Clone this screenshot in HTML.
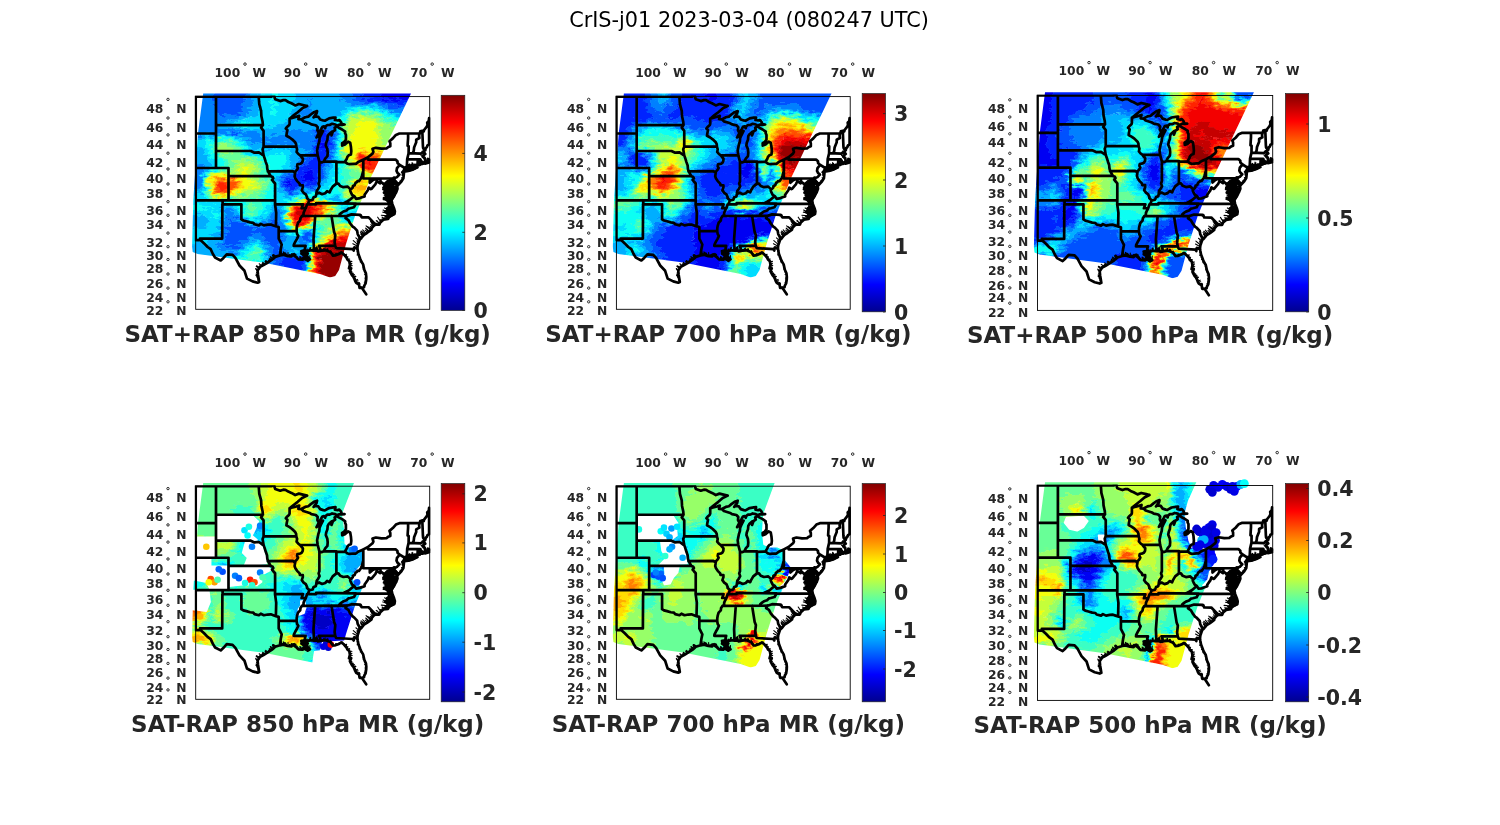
<!DOCTYPE html><html><head><meta charset="utf-8"><title>CrIS-j01</title><style>html,body{margin:0;padding:0;background:#fff}svg{display:block}text{font-family:"DejaVu Sans","Liberation Sans",sans-serif}</style></head><body>
<svg width="1500" height="825" viewBox="0 0 1500 825">
<defs><linearGradient id="jet" x1="0" y1="1" x2="0" y2="0">
<stop offset="0" stop-color="#00008f"/>
<stop offset="0.125" stop-color="#0000ff"/>
<stop offset="0.375" stop-color="#00ffff"/>
<stop offset="0.625" stop-color="#ffff00"/>
<stop offset="0.875" stop-color="#ff0000"/>
<stop offset="1" stop-color="#800000"/>
</linearGradient>
<g id="st"><path d="M0.0 143.6L0.0 0.0L76.0 0.0M76.0 0.0L76.0 -3.7L77.9 -3.1L79.0 1.4L79.5 2.7L84.5 4.5L87.6 3.5L89.8 3.6L92.6 5.4L95.7 6.7L99.5 8.8L103.2 7.4L108.2 8.6L111.4 9.4M111.4 9.4L106.4 11.8L102.0 15.6L97.9 18.8L95.1 21.1L95.7 21.5M20.3 0.0L20.3 71.4M0.0 36.9L20.3 36.9M0.0 71.4L32.8 71.4L32.8 103.8M32.8 79.6L75.0 79.6M0.0 103.8L79.3 103.8M26.9 103.8L26.9 107.7L45.7 107.7L45.7 122.7M26.7 107.7L26.5 142.0L4.3 142.0L4.8 143.6L0.0 143.6M20.3 28.5L67.2 28.5M20.3 54.4L55.1 54.4L58.8 56.1L63.2 55.7L66.3 57.9L67.9 58.8M63.0 0.0L63.6 7.6L65.4 14.2L65.7 19.7L66.9 25.2L67.2 28.5L65.4 31.1L67.9 34.2L67.9 50.1L66.9 52.7L67.9 58.8M67.9 50.1L100.6 50.1M67.9 58.8L68.8 61.3L70.1 65.5L71.3 68.8L71.6 72.2L72.3 74.8L75.0 79.6L77.0 80.5L77.6 81.7L76.3 83.3L77.6 84.9L79.4 86.9L79.4 103.8L79.3 107.7L80.5 116.2L80.2 129.7M72.1 74.8L97.4 74.6L99.4 76.5M79.3 107.7L107.3 107.7L105.9 111.6L110.1 111.6M45.7 122.7L47.6 123.9L50.7 124.7L54.4 125.8L57.6 126.2L58.8 127.7L63.2 128.8L65.1 127.3L68.2 128.8L72.0 128.1L75.1 127.9L77.6 128.8L80.2 129.7L83.0 130.4L83.0 142.0L84.5 144.9L86.0 147.9L85.1 152.3L84.8 154.4L84.2 158.8M83.0 134.3L100.9 134.5M95.7 21.5L93.9 21.9L93.9 27.3L93.5 28.4L91.0 30.7L90.1 32.0L91.7 33.4L91.0 36.9L90.7 39.1L93.9 40.9L96.4 42.7L99.5 45.7L100.4 47.5L100.6 50.1L101.4 52.7L100.9 55.3L102.6 57.4L104.2 58.6L105.7 60.4L107.2 62.1L107.0 64.6L106.1 66.3L104.6 67.2L101.7 67.8L101.4 69.7L102.3 71.4L101.4 73.0L99.5 75.1L99.4 76.5L98.9 79.6L99.7 82.0L101.4 84.5L103.9 87.0L104.2 88.6L107.1 88.7L107.1 90.8L106.1 93.8L107.9 96.2L110.1 97.8L111.4 100.6L111.2 101.4L113.7 103.9L112.0 107.7L111.4 107.7L110.1 111.6L108.9 113.9L107.9 116.2L107.8 118.3L106.3 119.4L104.8 121.6L104.5 123.9L102.3 126.2L101.4 129.2L101.0 131.5L100.9 134.5L101.4 137.5L102.6 139.3L101.4 142.0L99.5 145.3L98.2 147.9L98.0 149.3L109.9 149.3L109.2 151.9L110.4 154.4L111.1 155.3M104.2 58.6L122.0 58.7M105.6 22.8L107.6 24.8L113.9 26.7L115.7 27.8L120.1 28.7L122.0 30.7L121.7 33.8L122.9 36.0L123.3 36.0M95.7 21.5L100.7 20.2L103.5 19.3L102.7 22.6L105.6 22.8M123.3 36.0L120.8 40.9L124.5 37.8L127.3 34.4L125.1 38.7L123.9 41.4L123.6 44.9L122.6 47.9L121.4 54.0L122.0 58.7L122.9 62.1L123.7 65.2L125.8 65.9L128.1 65.0M123.7 65.2L123.7 84.9L122.9 87.0L123.9 89.8L122.3 92.6L121.1 94.2L120.8 95.8L120.6 97.4M113.7 103.9L117.0 103.1L117.9 100.6L120.1 99.8L120.6 97.4L123.4 96.1L126.4 97.6L129.5 96.6L131.4 94.6L133.9 95.8L134.8 93.7L137.0 90.0L140.7 87.0L142.7 87.0L144.5 89.4L147.7 90.6L152.0 90.0L154.6 92.5L155.5 92.5L157.0 91.0L157.2 89.4L158.9 88.6L159.9 86.2L161.0 85.6L161.7 84.5L163.3 84.5L165.4 81.7L166.3 79.1L167.1 75.9L167.6 74.3M140.7 87.0L140.7 65.5M128.1 65.0L140.7 65.0L140.7 65.5L149.2 65.2M167.6 63.1L167.6 81.9M149.2 65.2L152.0 67.2L153.9 67.6L158.3 67.2L160.2 67.2L163.0 65.1L167.6 63.1L172.3 60.7M172.3 60.7L172.3 63.0L199.9 63.0L201.8 64.6L201.8 66.3L204.0 68.3L209.0 71.4M172.3 60.7L176.8 57.0L177.7 55.3L176.8 52.2L180.2 51.2L185.8 52.1L190.8 51.8L192.7 50.4L194.6 49.7L194.6 46.6L193.8 44.6L197.1 41.8L200.2 38.3L203.7 36.9L224.0 36.9L224.6 34.7L226.6 34.2L228.1 34.7L228.4 33.4L230.9 30.2L231.8 28.4L231.5 26.1L233.1 24.3L233.4 21.6M233.4 21.6L233.4 47.9M212.4 36.9L212.4 41.4L212.1 45.7L211.9 49.2L213.0 49.7L212.9 56.6L211.5 62.5L211.2 68.8L211.6 69.7L210.0 70.5L210.5 71.4M224.0 36.9L223.4 39.1L223.7 41.4L220.5 43.1L220.5 45.7L219.6 47.9L218.4 51.0L218.0 54.4L217.4 55.7L218.0 56.7M212.9 56.6L225.2 57.0L227.1 55.5L228.2 55.5M229.0 53.8L227.4 51.4L227.2 49.2L226.9 41.4L226.6 34.2M211.5 62.5L222.1 62.8L224.7 62.8L225.1 63.8L225.9 65.5L226.4 67.2M222.1 62.8L221.8 68.7M233.4 47.9L231.8 48.8L231.2 50.5L229.9 51.8L229.6 53.6L229.0 53.8L228.2 55.5L229.6 57.4L227.7 58.7L227.1 60.0L229.0 61.3L229.3 63.4L230.2 64.6L233.4 64.6L233.4 63.0L232.1 62.4L233.1 63.8L233.4 65.9L229.3 67.0L229.0 65.1L227.1 67.2L226.4 67.2L224.6 67.6L224.6 64.6L224.3 67.6L224.0 68.3L221.8 68.7L218.4 69.1L215.2 69.3L213.4 70.1L210.5 71.4L209.0 73.0L209.0 71.4L208.2 73.9L206.8 75.5L208.3 75.8L208.0 78.8L207.7 81.7L205.7 84.9L202.4 88.4L200.8 85.8L199.0 83.7L198.6 82.7L199.6 81.3L201.3 80.5L203.7 78.0L201.8 76.3L200.8 74.3L201.3 71.5L204.0 68.3M209.0 73.0L209.9 72.6L214.0 71.8L217.1 71.5L219.3 70.1L218.4 71.8L221.7 70.8L217.7 72.8L212.7 74.4L208.7 74.9L208.2 73.9M167.6 81.9L197.1 81.9L198.3 81.0L199.6 81.3M197.1 81.9L197.7 92.1L201.8 92.2L201.5 89.4L200.2 87.8L199.6 85.4L198.6 82.9L199.6 81.3M174.1 81.9L174.1 86.2L176.4 84.1L178.3 82.9L178.6 82.5L180.8 82.9L182.2 82.1L184.6 82.9L184.9 84.9L185.1 85.2L186.4 86.2L187.7 87.4L189.3 88.6L189.3 90.2L187.7 92.6L189.6 93.4L192.1 94.6L194.0 95.8M185.1 85.2L184.4 86.7L181.1 84.6L179.6 87.8L177.9 89.7L175.8 92.2L175.2 92.5L173.0 91.0L172.1 93.7L168.9 98.2L168.9 99.8L165.5 101.0L163.3 101.8L160.3 102.2L158.5 99.5L156.4 98.2L155.2 95.8L154.5 94.2L154.6 92.5M158.5 99.5L153.9 103.4L151.4 104.9L147.8 106.9M160.3 107.0L120.4 106.5L120.4 107.7L111.4 107.7M160.3 107.0L196.6 107.3M160.3 107.0L158.3 110.6L154.5 111.6L152.7 112.0L150.8 113.9L147.7 114.9L145.8 116.2L143.9 117.8L143.8 119.4M106.3 119.4L151.3 119.3L155.8 117.8L164.3 118.2L164.3 118.9L165.0 118.5L165.9 120.7L172.9 120.8L179.9 128.0M151.3 119.3L149.8 121.6L152.7 123.5L154.5 126.9L157.0 130.0L158.6 131.1L161.4 134.1L162.0 137.5L163.6 140.5L164.6 141.6L165.5 141.7M135.8 119.3L138.4 135.5L139.6 138.6L139.2 142.7L138.9 145.6L139.5 149.3L140.4 151.5L157.0 152.5L158.0 154.0L158.3 151.2L161.4 151.4M139.5 149.3L123.3 149.3L124.5 151.9L123.8 154.6M119.5 119.3L117.8 142.7L118.3 154.1M111.1 155.3L112.6 154.4L115.1 153.7L118.3 154.1L120.1 154.1L120.8 151.5L121.4 153.7L122.3 154.8L123.8 154.6L125.8 154.1L130.1 153.7L133.9 155.2L135.1 155.9L137.3 159.0L139.5 158.8L143.3 157.4L145.8 155.9L148.3 158.1L150.8 161.0L151.7 162.9L153.6 164.6L154.2 168.2L153.3 171.7L155.5 171.7L154.2 174.6L154.9 176.0L156.4 178.8L157.7 180.2L158.6 182.0L159.5 184.4L160.5 186.2L163.3 187.9L163.9 191.3L166.4 191.1L168.3 190.7L168.6 189.0L169.9 186.8L170.5 183.0L170.6 180.2L170.2 176.7L168.6 173.2L167.4 167.8L165.5 164.6L164.6 162.4L162.7 157.4L162.0 153.7L161.7 151.4L162.0 148.6L163.0 145.6L163.9 143.1L165.5 141.7L166.7 140.1L168.3 138.2L171.2 136.4L173.3 134.9L175.8 133.0L176.1 131.5L178.0 129.2L179.9 128.0L183.6 128.1L184.6 125.8L187.7 123.1L192.4 122.4L193.3 120.1L198.8 117.5L199.2 114.7L198.3 111.6L196.6 107.3L196.0 104.5L194.0 104.1L192.1 103.0L188.3 101.4L194.0 103.0L193.3 101.4L190.8 99.8L194.0 99.0L190.2 95.8L194.3 96.6L194.0 95.4L193.3 93.4L192.7 91.8L193.0 88.2L192.7 86.2L193.3 85.4L195.2 82.9L195.8 83.3L195.2 84.9L194.6 87.8L194.0 90.2L194.6 93.0L196.8 94.2L198.0 96.2L196.1 99.8L196.0 102.8L198.3 99.8L199.9 96.6L200.5 95.6L201.8 92.2M198.0 96.2L200.5 95.6M192.4 121.2L191.5 119.3L192.7 117.0L189.6 115.5L192.7 115.8L195.8 116.2L197.4 114.7L196.5 112.0L191.5 111.6L195.8 110.4L196.5 109.2L196.6 107.3M166.1 191.1L170.5 197.7M4.8 143.6L5.6 144.2L8.4 146.8L11.9 150.4L15.0 152.6L17.2 157.4L19.4 161.0L25.0 163.9L27.8 161.3L31.0 157.7L36.9 158.3L39.7 161.3L43.8 168.9L48.8 174.2L51.3 182.0L56.9 184.8L61.9 186.1L63.5 185.4L62.3 178.1L61.9 173.9L64.4 170.3L68.2 168.2L71.3 166.4L76.3 163.1L78.8 161.0L77.6 158.8L79.5 160.3L84.2 158.8L87.6 158.2L92.0 159.5L95.7 159.9L97.0 158.1L100.1 160.3L102.6 162.8L107.0 163.1L108.9 161.7L112.0 164.2L114.2 162.8L112.0 161.0L110.7 158.8L112.0 157.0L109.5 156.3L107.0 156.3L105.7 154.4L108.2 154.1L110.1 155.5L111.1 155.3M128.1 65.0L129.5 62.1L131.7 59.6L132.0 56.1L131.6 52.4L130.1 48.8L130.5 46.2L131.7 43.1L132.0 39.6L133.0 37.8L136.1 35.1L135.8 38.7L137.3 34.7L139.5 33.4L138.9 31.1L141.2 29.9L143.0 31.1L146.4 32.9L149.5 35.1L149.3 36.4L150.2 38.3L150.2 43.1L148.6 45.3L146.4 46.6L146.5 49.0L149.2 47.9L152.4 45.1L154.5 46.2L155.2 50.1L155.6 54.6L155.2 57.9L153.0 58.7L151.7 60.2L151.1 62.1L149.2 65.2M105.6 22.8L109.5 20.7L112.6 20.0L115.1 17.9L118.3 15.6L121.4 14.5L120.8 17.0L119.2 18.8L117.9 20.7L119.5 19.7L122.6 20.2L124.5 22.9L127.6 23.9L129.2 24.1L133.4 21.8L137.6 21.1L139.8 20.9L139.2 23.4L142.0 23.9L143.6 23.4L145.2 25.2L146.1 27.5L148.9 27.9L146.4 28.2L143.6 28.1L141.3 29.1L139.5 27.9L136.4 27.2L133.9 28.4L131.7 28.4L129.8 29.8L129.5 31.6L128.3 29.8L126.7 30.2L125.4 32.5L123.3 36.0" fill="none" stroke="#000" stroke-width="2.7" stroke-linejoin="round" stroke-linecap="round"/><path d="M162.0 153.5L160.1 152.3M161.8 152.2L159.1 150.3M161.7 151.4L158.5 149.9M161.9 149.6L157.2 147.1M162.2 148.0L157.6 144.1M162.8 146.3L161.4 145.0M163.0 145.5L161.4 144.0M163.5 144.2L160.2 141.3M164.4 142.6L162.8 141.7M166.0 141.1L163.2 138.7M167.0 139.8L165.0 137.3M167.6 139.0L164.8 135.6M168.7 138.0L166.5 136.0M169.5 137.5L165.4 134.4M170.3 137.0L167.0 133.3M171.8 136.0L169.6 133.6M172.6 135.4L170.5 132.0M173.7 134.6L170.0 131.6M175.0 133.6L170.4 129.2M175.9 132.6L172.0 130.0M176.2 131.4L174.5 129.9M177.1 130.3L175.2 128.1M178.0 129.2L175.6 126.1M179.4 128.3L174.8 124.9M180.1 128.0L175.8 124.1M181.3 128.0L179.1 126.4M182.8 128.1L180.4 126.5M183.7 127.8L181.2 124.0M184.2 126.6L180.5 124.2M185.1 125.3L182.0 120.6M185.9 124.7L183.1 122.5M186.7 124.0L185.0 123.1M187.9 123.1L186.3 122.3M188.9 122.9L186.4 120.6M190.5 122.7L188.6 121.4M191.5 122.5L190.2 120.5M192.4 121.3L188.1 121.1M192.3 120.2L189.1 119.8M192.2 119.3L185.6 118.7M192.1 117.8L190.3 116.7M192.4 116.6L187.1 115.5M192.8 116.2L187.4 113.5M193.5 115.3L190.9 113.4M194.3 114.3L188.9 111.3M194.7 113.8L190.2 113.7M195.2 113.1L192.1 111.9M195.8 111.7L192.4 109.0M195.8 110.5L192.2 110.1M195.8 109.9L193.2 108.3M195.8 108.3L191.9 106.1M195.8 107.6L191.2 104.8M194.9 106.0L190.9 104.2M194.5 105.1L188.8 103.2M194.0 103.8L187.4 103.0M194.0 102.8L191.6 101.3M194.0 101.5L188.4 98.4M194.0 100.0L189.3 100.0M193.9 98.4L189.2 95.6M193.8 97.6L187.6 96.6M193.7 96.6L190.5 95.5M193.6 95.5L189.9 93.7M193.4 94.3L189.7 92.0M193.3 93.1L187.1 91.0M193.2 91.8L191.2 91.6M193.1 91.0L187.4 89.5M193.0 89.3L188.4 87.9M192.9 88.2L187.2 86.5M192.8 87.2L189.7 86.0M196.4 106.4L193.3 106.1M196.3 105.0L193.8 104.4M196.1 103.8L193.7 102.8M196.3 102.4L192.8 102.5M196.8 101.5L193.2 102.0M197.2 100.8L194.9 100.9M197.8 99.9L195.0 98.7M198.4 98.9L195.4 99.2M199.5 97.3L195.9 96.0M200.0 96.5L197.6 95.4M200.6 95.5L198.2 95.4M201.0 94.3L199.0 94.7M201.5 93.0L199.1 92.9M201.7 91.7L199.3 90.8M201.5 90.1L197.9 90.2M201.5 89.4L198.3 89.7M200.7 87.7L197.1 87.8M200.2 86.6L196.7 85.6M199.6 85.3L198.2 85.2M199.3 84.1L195.8 82.9M202.4 88.3L199.8 87.0M203.5 87.2L202.0 86.2M204.2 86.5L203.0 86.2M204.9 85.7L203.7 85.5M205.8 84.7L204.3 84.2M206.6 83.5L205.3 83.4M207.2 82.6L206.2 82.1M207.7 81.5L205.8 81.2M208.0 79.5L206.2 78.5M208.1 78.4L206.3 77.1M208.2 77.0L205.7 75.6M208.6 75.1L207.7 73.3M209.3 75.0L208.2 72.2M210.1 74.9L209.9 71.5M211.1 74.7L210.6 73.0M211.9 74.6L211.4 72.4M213.2 74.3L212.6 71.9M213.7 74.2L212.9 72.3M214.6 73.9L213.9 71.6M215.2 73.6L214.6 72.0M216.1 73.3L215.7 72.2M217.2 73.0L216.9 70.4M218.1 72.6L217.1 69.4M219.0 72.1L218.8 70.5M219.3 72.0L219.1 68.6M220.4 71.4L219.4 68.4M221.1 71.1L220.8 67.7M210.8 71.2L211.0 68.2M211.4 71.0L211.3 70.1M212.2 70.6L212.2 67.7M213.2 70.2L213.2 67.6M214.0 69.8L214.0 67.1M214.8 69.5L214.9 68.5M215.3 69.3L215.4 67.8M216.4 69.2L216.4 65.9M217.0 69.2L217.3 66.6M217.9 69.1L217.7 68.1M218.7 69.1L218.8 67.5M219.2 69.0L219.3 67.5M220.4 68.8L220.4 67.3M221.2 68.8L221.4 67.7M222.4 68.5L221.8 65.4M223.2 68.1L223.1 64.9M223.8 67.9L223.5 64.7M224.7 67.6L225.1 65.5M225.9 67.4L226.1 65.3M226.4 67.3L226.4 64.2M227.1 67.2L227.1 65.1M228.3 66.9L228.2 65.2M230.2 64.6L228.4 64.6M229.3 62.0L227.5 61.7M228.8 61.1L227.6 60.6M227.9 60.5L226.6 60.5M227.2 59.9L225.3 59.0M227.8 58.8L226.8 58.7M228.3 57.3L226.4 56.2M228.5 55.2L226.5 54.4M229.2 54.1L228.5 53.9M229.9 53.0L228.3 53.1M230.6 51.8L229.8 51.6M231.0 51.1L229.2 50.8M231.9 49.7L230.8 49.4M232.5 48.9L231.7 48.5M146.0 156.1L147.0 155.6M146.8 156.8L147.8 156.7M147.6 157.5L148.4 157.3M148.5 158.3L151.0 157.7M149.1 159.0L150.8 158.5M149.6 159.6L150.8 159.4M150.3 160.5L152.3 160.2M150.9 161.1L152.0 160.8M151.5 162.5L154.0 162.4M151.7 162.9L153.9 162.4M153.0 164.0L153.5 163.7M153.7 165.2L156.2 164.8M153.8 165.9L154.7 165.5M154.1 167.6L156.2 166.7M154.1 168.5L155.7 167.4M153.9 169.5L156.5 169.0M153.6 170.6L154.7 170.2M153.3 171.8L154.0 171.5M153.7 172.9L154.8 172.8M154.0 173.8L155.5 173.3M154.6 175.3L156.2 175.0M155.2 176.5L157.3 176.4M155.5 177.2L157.6 176.8M156.1 178.3L158.7 178.0M156.5 179.0L158.1 178.7M157.3 179.9L159.6 179.5M157.9 180.7L159.2 180.5M158.2 181.2L160.2 179.9M158.7 182.4L159.7 182.0M159.3 183.7L161.9 182.8M159.6 184.6L162.4 184.3M160.0 185.4L161.4 184.7M160.9 186.4L163.7 185.9M161.5 186.8L164.2 186.7M162.7 187.6L164.2 187.2M163.3 188.1L163.9 187.9M163.8 190.1L164.7 190.0M169.9 186.4L168.6 186.2M170.2 184.8L169.2 184.5M170.5 182.9L169.6 183.0M170.6 181.3L169.2 181.5M170.6 180.2L170.0 180.2M170.3 177.7L168.8 177.7M169.7 175.7L168.6 175.4M169.3 174.6L168.5 174.4M168.4 172.2L167.2 172.4M168.1 171.1L167.2 170.7M167.7 169.2L166.9 169.1M166.8 166.9L166.2 166.7M166.0 165.4L164.6 165.4M165.3 164.2L164.4 164.3M164.5 162.2L163.2 162.4M163.9 160.7L162.9 160.3M163.0 158.2L161.4 158.3M162.7 157.3L161.6 157.2M162.3 155.3L161.4 155.1M124.4 154.4L124.9 152.2M125.8 154.2L125.9 153.0M126.9 154.1L126.9 153.0M127.8 154.0L128.1 151.7M129.2 153.8L129.4 151.3M130.7 154.0L131.4 152.2M131.7 154.3L132.2 152.2M132.7 154.7L132.6 153.4M134.6 155.6L135.1 153.9M135.7 156.7L135.7 155.1M136.9 158.2L137.0 157.3M137.6 158.8L137.5 157.4M139.7 158.7L140.0 157.0M140.8 158.3L141.0 157.0M142.3 157.8L142.5 156.7M143.3 157.3L143.4 156.4M145.0 156.4L145.0 155.5M84.4 158.8L84.2 157.2M85.2 158.6L84.8 156.3M86.3 158.4L85.5 154.9M87.1 158.3L86.7 157.1M87.8 158.3L87.6 155.2M88.5 158.5L88.0 157.5M89.3 158.7L88.2 155.7M89.9 158.9L89.0 157.0M90.7 159.2L89.5 156.1M91.6 159.4L89.9 156.5M92.4 159.6L92.3 156.0M93.1 159.6L93.8 157.9M93.8 159.7L94.3 158.7M94.4 159.8L95.9 157.1M95.1 159.8L95.1 157.9M95.8 159.8L96.0 158.4M96.4 159.0L97.5 157.0M97.4 158.4L97.5 157.3M98.1 158.8L97.9 157.2M98.7 159.3L98.6 156.7M99.3 159.7L99.3 157.2M100.4 160.5L100.2 157.6M100.9 161.1L100.5 160.1M101.4 161.6L101.4 159.6M102.2 162.4L102.4 161.5M102.9 162.8L102.9 161.9M104.0 162.9L104.2 161.8M104.7 163.0L104.1 160.0M105.5 163.0L107.4 160.3M106.5 163.1L104.9 160.2M107.3 162.9L107.8 161.9M107.9 162.4L107.9 161.3M108.3 162.1L108.3 160.6M108.9 161.7L108.6 160.5M109.7 162.4L108.9 159.2M110.2 162.7L110.5 160.5M111.1 163.5L111.2 161.2M111.4 163.7L112.0 160.2M112.3 164.0L113.0 162.7M112.9 163.6L112.6 160.7M113.8 163.0L114.1 162.3M113.9 162.6L114.2 159.0M113.3 162.1L112.9 161.5M112.5 161.4L112.5 159.4M112.0 160.9L112.4 159.7M111.6 160.3L110.8 158.7M111.1 159.4L111.4 157.1M111.0 158.5L110.5 156.4M111.5 157.8L111.1 156.7M111.6 156.9L111.1 153.9M111.2 156.8L111.4 154.2M110.0 156.4L110.7 154.5M109.6 156.2L108.3 153.2M110.5 155.7L110.0 154.4M111.1 155.3L112.4 153.6M112.0 155.0L112.0 152.5M113.1 154.5L112.8 153.3M113.5 154.4L114.3 151.1M114.3 154.0L115.1 151.0M115.5 153.8L114.5 152.0M116.0 153.8L115.9 153.0M117.0 153.9L117.9 150.9M117.7 154.0L118.3 152.1M118.4 154.0L119.8 152.0M119.5 153.5L119.3 152.8M120.3 153.2L121.3 149.9M63.4 184.7L62.0 183.3M63.2 183.4L61.3 180.9M62.9 182.1L60.7 179.3M62.7 180.7L60.2 178.8M62.5 179.4L60.4 177.5M62.2 178.0L61.5 177.3M62.1 176.4L60.9 175.9M62.0 174.7L60.1 172.5M62.0 173.8L60.0 171.9M63.2 172.1L60.5 169.7M64.1 170.8L60.8 169.1M64.5 170.3L63.9 169.3M66.2 169.3L63.5 167.2M67.0 168.8L66.0 168.1M68.4 168.1L66.5 167.0M69.4 167.5L66.9 165.7M70.9 166.6L69.3 164.7M71.3 166.4L69.8 164.8M72.5 165.6L70.0 163.9M73.8 164.7L72.9 164.0M74.3 164.4L73.4 163.1M75.3 163.8L73.6 162.0M76.5 163.0L74.7 161.3M77.8 161.9L74.6 160.0M79.1 160.7L77.2 159.2" fill="none" stroke="#000" stroke-width="1.1" stroke-linecap="round"/><path d="M187.7 87.8L191.5 84.1L195.8 82.5L196.5 87.0L198.6 91.8L200.2 95.8L197.7 101.4L196.1 104.5L192.7 104.9L188.3 102.2L191.5 99.8L187.7 95.8L190.2 93.4L187.4 91.0L189.6 89.4ZM189.6 115.1L194.0 110.0L197.4 110.0L199.0 115.5L198.3 117.8L193.3 121.2L190.2 120.1L192.7 117.4ZM208.0 75.1L212.7 74.7L217.7 73.0L221.8 70.9L221.8 68.4L215.2 69.0L210.5 71.2L208.7 72.6ZM224.3 64.2L226.5 65.1L227.7 67.2L224.0 68.4ZM105.7 154.4L108.9 153.7L112.0 156.6L110.7 159.5L113.2 162.4L111.4 163.9L108.2 162.8L108.2 159.5L105.1 157.4ZM199.0 83.3L201.8 86.2L202.7 88.2L200.8 87.8L198.3 84.5Z" fill="#000" stroke="#000" stroke-width="1.5" stroke-linejoin="round"/></g>
<filter id="tx" color-interpolation-filters="sRGB" x="-5%" y="-5%" width="110%" height="110%"><feTurbulence type="fractalNoise" baseFrequency="0.13 0.3" numOctaves="2" seed="3" result="n"/><feDisplacementMap in="SourceGraphic" in2="n" scale="13" xChannelSelector="R" yChannelSelector="G"/></filter>
</defs>
<rect width="1500" height="825" fill="#fff"/>
<text x="749" y="27.3" font-size="20.8" text-anchor="middle" fill="#000">CrIS-j01 2023-03-04 (080247 UTC)</text>
<g transform="translate(195.7 96.6) scale(1.0000 1.0000)">
<clipPath id="s0"><path d="M7.5 -3.2L215.3 -3.2L175.3 80.4L159.3 119.4L150.3 147.4L143.3 173.4L139.5 179.5L134.3 181.0L124.3 177.5L67.0 166.0L2.0 157.5L-3.0 155.5L-3.6 150.0L-2.4 103.4L0.3 63.4L2.5 35.0Z"/></clipPath><g clip-path="url(#s0)"><g filter="url(#tx)"><path fill="#0000f3" stroke="#0000f3" stroke-width="0.6" fill-rule="evenodd" d="M242 -8l0 12-40 0-15-2-3.5-2 0-8zM126 44.5l2-0.5 2 4 0 4-2 2-2-0.5-2-3.5 0-2zM110 74l2-1.5 2 0.5 2 1.5 1 1.5 0.5 2-0.5 4-1 2-2 2-2-0.5-2-1-2.5-2.5-0.5-2 1-3.5zM92 86l2-1 3 1 0.5 2-1 2-2.5 0.5-2-1-0.5-1.5z"/><path fill="#0023ff" stroke="#0023ff" stroke-width="0.6" fill-rule="evenodd" d="M183.5 -8l0 8 3.5 2 15 2 40 0 0 4.5-44-0.5-12-3-16-1-4.5-2-0.5-2 0-8zM126 35.5l2 0 2 0.5 2.5 2 2 8 0.5 6-1 2.5-4 5.5-5 8-1.5 4-1 8-2.5 6-2 2.5-4 1.5-10-2-8 6.5-2 0-2-1-2-2-2-3.5 0.5-2 1-2 2.5-2 6-1 2-1 10-13 8-5 2-2 1.5-2 0-2-1-6 0-4 3-8zM124 48l0 2 2 3.5 2 0.5 2-2 0.5-2-0.5-3-2-3-2 0.5zM110 74l-2 2.5-1 3.5 0.5 2 2.5 2.5 2 1 2 0.5 2-2 1-2 0.5-4-0.5-2-1-1.5-2-1.5-2-0.5zM92 86l-0.5 2 0.5 1.5 2 1 2 0 1.5-2.5-0.5-2-1-0.5-2-0.5zM90 161l16 0.5 2 1 0.5 1.5-1.5 6 1 14 0 38-22.5 0 0-52-1.5-6 1-2z"/><path fill="#0051ff" stroke="#0051ff" stroke-width="0.6" fill-rule="evenodd" d="M50 -8l-0.5 12-3.5 10-2 3.5-2 1-12 1-4-0.5-3.5-1-2.5-4-3-10-0.5-12zM165 -8l0 8 0.5 2 4.5 2 16 1 12 3 44 0.5 0 4-44-0.5-2 0-6-3.5-4-1-16-1-6-1-4.5-1.5-2.5-2-0.5-10zM124 33l4-1 6 1 2 1 2 2 0.5 2-1 16-0.5 2-3 6-6 8-2 10-2.5 6-1 2-2.5 2-4 2-4 0.5-6-1-2 0.5-6 4-2 1-4-1-3-2-2.5-4-0.5-4 1.5-4 2-2 8.5-4 3.5-4 6.5-9 2-2 5.5-3 2-2 0.5-2-1.5-8 1.5-6 2-4zM125.5 36l-2 2-3 8 0 4 1 6 0 2-1.5 2-2 2-8 5-10 13-2 1-6 1-2.5 2-1 2-0.5 2 2 3.5 2 2 2 1 2 0 8-6.5 10 2 4-1.5 2-2.5 2.5-6 1-8 1.5-4 5-8 4-5.5 1-2.5-0.5-6-2-8-2.5-2-2-0.5zM36 35l4 0 6.5 1 1.5 2-9.5 0-4.5-2zM80 119.5l2 4.5 2.5 10 0 6-0.5 10 1.5 6 3.5 2 7 2 4 0 8-0.5 2.5 2.5 0.5 60-3 0 0-38-1-14 1.5-6-1-2-17.5-1-5 1-1 2 1.5 6 0 52-5.5 0-0.5-52-2.5-8 0.5-6-1.5-6-2-2-10-9-4-1.5-2-0.5-6 3-8 7.5-4 4.5-2 0.5-9-2.5-1.5-2 2-6 2-16 0.5-2.5 2-3 4 3 8 2.5 8 5 4 1.5 4-0.5 4.5-2 3.5-2.5 6-3zM110 136l2-0.5 2 0.5 0.5 2-0.5 4.5-2 2-2 0.5-2-0.5-1.5-2.5 1.5-4z"/><path fill="#0080ff" stroke="#0080ff" stroke-width="0.6" fill-rule="evenodd" d="M16.5 -8l0.5 12 3 10 2.5 4 5.5 1.5 15.5-1.5 2.5-4 3.5-10 0.5-12 7 0 0 12-3 11-1.5 3-8.5 3.5-12 3.5-6 1-5 2 2 2 3 1 8 0 14 3 12 1 3.5 1 3.5 4 3 1.5 4-1 16-5.5 10-2 4 0 10 2.5 4-3.5 6-2.5 10-1.5 2 0 4 5.5 1.5 4.5-2 18-3 8-5.5 8-1 8-4 8-4 3.5-4 2-4 1-8 0-6 3-4 1-4-0.5-4-1.5-3-4.5-1.5-4 1-8 2.5-2 7-3.5 3.5-2.5 6.5-12.5 2-2 5.5-3.5-2-2-1.5-0.5-6-2-22-0.5-14-1.5-10-3-6-3-12-2-12-2.5-18 2-16 0 0-47zM122.5 34l-2.5 2-1 2-2 6 0 4 1 6-0.5 2-2 2-5.5 3-2 2-6.5 9-3.5 4-8.5 4-2 2-1.5 4 0.5 4 2.5 4 3 2 4 1 2-1 6-4 2-0.5 6 1 4-0.5 4-2 2.5-2 1-2 2.5-6 2-10 6-8 3-6 0.5-2 1-16-0.5-2-2-2-2-1-6-1-2 0.5zM34 36l4.5 2 9.5 0-1.5-2-6.5-1-2 0zM156.5 -8l0.5 10 2.5 2 2.5 1 8 1.5 16 1 4 1 6 3.5 2 0 44 0.5 0 4-44 0-2-0.5-5-4-5-2-10-1.5-18-1-10-2-3-1.5-1.5-2 0-10zM114 2l2 1 0.5 15-2.5 2.5-4 2-2 0-3-2.5-0.5-2 1.5-4 2-3.5 3.5-2.5 1.5-2zM6 67.5l2 0.5 1.5 2-3 6-0.5 13.5-2 2-12 0 0-24zM140 102l2 2-3 0zM32 110l2 0 3 2 2 6 1.5 2 3 2 14.5 6.5 4-1 10-5.5 2.5-2 4-8 1.5-1.5 2 0.5 2 1 3 16 2.5 8 0.5 6-1.5 6 0 2 3.5 6 3.5 2 4.5 0.5 7-2.5 0-2-1-1-3.5-7-0.5-2 0-2 5.5-6 2.5-2 2-0.5 3 0.5 2 2 0 4-1 3.5-2 3-4 3.5-1.5 2-0.5 2 0 2 3 4 0.5 2 0.5 2-0.5 6 0.5 10 0 42-1 0 0-40-0.5-12 0-6-0.5-3-2-1.5-10 0.5-4-0.5-5-1.5-3.5-2-1.5-6 0.5-10 0-6-2.5-10-2-4.5-4 5-6 3-4 3-6 1.5-2 0.5-4-1.5-7.5-5-8.5-2.5-4-3-2 3-1 4.5-1.5 14-2 6 1.5 2 9 2.5 2-0.5 4-4.5 8-7.5 6-3 2 0.5 4 1.5 10 9 2 2.5 1.5 5.5-0.5 6 2.5 8 0.5 52-6 0 0-52-1-6 0-8-4-8-2-2-3-2.5-6-2-4 2.5-12.5 12-1.5 1-2 0.5-4-1-10-3.5-1.5-1-1-2 0-2 4-10 1.5-10 2-8-0.5-8zM110 136l-2 2-1.5 4 1.5 2.5 2 0.5 2-0.5 2-2 0.5-4.5-0.5-2-2-0.5z"/><path fill="#00aeff" stroke="#00aeff" stroke-width="0.6" fill-rule="evenodd" d="M65.5 -8l-0.5 12-2 14-1.5 2-1.5 1-12 1.5-9 3.5-2 2 1 0.5 2.5 1.5 7.5 2 14-1 10 1 6-2 14-7.5 2.5-2.5 4.5-16 0.5-2 0-10 44 0 0 10 1.5 2 3 1.5 10 2 18 1 10 1.5 5 2 5 4 2 0.5 44 0 0 3-44 0-2-0.5-6-5-4-2-12-1.5-18 0-6 2-4.5 3.5-4.5 6-1 2-0.5 4 3 6 1 4-2.5 22-2 6-3 6-1 8-5 8-4 4.5-4 2.5-3 1-3 0.5-10 0.5-10 3.5-6 0-4-1.5-1.5-1-1.5-2-1-4-2-12 2-2.5 8-4 2-1.5 1.5-2 2-6 0.5-4 0-4-2-2-6-1.5-4 0-28 2-2-1-2.5-7.5-2.5-2-6.5-2-14.5-2.5-10 1-10 2.5-16 0 0-4 16 0 18-2 12 2.5 12 2 6 3 10 3 14 1.5 22 0.5 6 2 1.5 0.5 2 2-5.5 3.5-2 2-6.5 12.5-3.5 2.5-7 3.5-2.5 2-1 8 1.5 4 3 4.5 4 1.5 4 0.5 4-1 6-3 10 0 4-1.5 4-3 2-2 4-8 1-8 5.5-8 3-8 2-18-1.5-4.5-4-5.5-2 0-10 1.5-6 2.5-4 3.5-10-2.5-4 0-10 2-16 5.5-4 1-3-1.5-3.5-4-3.5-1-12-1-14-3-8 0-3-1-2-2 5-2 6-1 12-3.5 8.5-3.5 1-2 3-10 0.5-4 0-10zM113 6l-1.5 2-3.5 2.5-2 3.5-1.5 4 0.5 2 3 2.5 2 0 4-2 2.5-2.5-0.5-15-2-1zM6 51.5l2 0.5 3 10 4 6 0.5 2-5.5 4-1.5 2-1 4 0.5 8-0.5 4-1.5 5.5-2 1-12 0 0-7 12 0 2-2 0.5-13.5 3-6-1.5-2-2-0.5-14 0 0-16zM138 100l4 0 2 1.5 1 2.5-1 1-2 0.5-7.5-1.5-1.5-2zM140 102l-1 2 3 0zM30 108l4-0.5 4 2 2.5 2.5 3 6 1.5 2 7 4 6 1.5 6-2 5.5-3.5 2-2 4-8 2-2 2.5-1 4 0 2 1 2 2 0.5 2-0.5 8 1 8 2 4 3 5 2 2 2 1 4-1 6.5-5 3.5-1 4 0 2 0 1 1 0 4-1 4.5-2 4.5-4 5-1.5 4 2 6 0 60-0.5 0-0.5-60-3.5-6 0-2 0.5-2 1.5-2 4-3.5 2-3 1-3.5 0-4-2-2-4.5 0-3 2-5.5 6 0 2 0.5 2 3.5 7 1 1 0 2-4.5 2-4.5 0.5-2.5-0.5-3.5-2-3.5-6 0-2 1.5-6-0.5-6-2.5-8-3-16-2-1-2-0.5-1.5 1.5-3 6-1 2-2.5 2-10 5.5-4 1-14.5-6.5-3-2-1.5-2-2-6-3-2-2 0-2 1-1.5 1 0.5 8-2 8-1 8-2 6-2.5 6 0 2 1 2 1.5 1 10 3.5 4 1 2-0.5 1.5-1 12.5-12 4-2.5 6 2 3 2.5 2 2 4 8 0 8 1 6 0 52-5.5 0 0-50 1.5-14-0.5-2-2.5-6-3-3.5-2-1.5-4 0-16 14-2 0.5-8 2-4 1.5-4 0.5-32 0 0-17 16 0 4-1 2.5-1.5 2.5-4 3-3 2-4 1-5 3-8 0-2-2-6 1-2zM97 154l0 2 1 0.5 2.5-0.5-0.5-2.5-2-0.5zM150 112l3 4 1 1.5 1.5 0.5-1.5 1.5-4 0.5-1.5-2zM8.5 118l2 2 1.5 6 0 2-1.5 2-2.5 1.5-16 0 0-14z"/><path fill="#00dcff" stroke="#00dcff" stroke-width="0.6" fill-rule="evenodd" d="M76 -8l-0.5 24 0.5 2.5 2 0 1-0.5 0.5-2 0.5-24 19.5 0 0 10-5.5 18.5-2 2-12 6.5-8 3-10-1-14 1-7.5-2-3.5-2 2-2 7-2.5 12-2 4-2 1-1.5 1-6 1.5-10 0-10zM46 26l-3 2 5 2 4-0.5 5.5-1.5-2.5-2-3-0.5-4 0zM152 11.5l8-1 16 0 9.5 1.5 2.5 1 8 6 46 0.5 0 2-46 0-2-1-5-4.5-3-1.5-12-2.5-16 1-6 2-3.5 3-3.5 4-2 4-0.5 2 2 6 0.5 4-2 14 0 10-1.5 10-0.5 8-3.5 6-9 10 1.5 1.5 2 0.5 8-0.5 2 0 2 1 3 3.5 2 4 3 3 4 5 2 0.5 84 0 0 8-92 0-2-0.5-2-2-0.5-2 2-6 0-2-1.5-2-14.5-4-5.5-5-18-0.5-18.5 5.5 1 4-1 10 0.5 8 2 5 4 4.5 2 1.5 2 0.5 2-0.5 8-4.5 8-1.5 2 0.5 1.5 2.5-0.5 4-2 6-2 4-4.5 6-0.5 2 1 6 0.5 20 0 40-1 0 0-60-2-6 1.5-4 4-5 2-4.5 1-4.5 0-4-1-1-2 0-4 0-3.5 1-6.5 5-4 1-2-1-2-2-3-5-2-4-1-8 0.5-8-0.5-2-2-2-4-1.5-2 0.5-2 0.5-2.5 2.5-4 8-2 2-5.5 3.5-6 2-6-1.5-7-4-1.5-2-3-6-2.5-2.5-4-2-6 1-3 1.5-1 2 2 6 0 2-3 8-1.5 6-1.5 3-3 3-2.5 4-2.5 1.5-4 1-16 0 0-15 16 0 2.5-1.5 1.5-2 0-2-1.5-6-2-2-16.5-0.5 0-4.5 18 0 4-1-0.5-2-3.5-2-2-0.5-16 0 0-9 12 0 2-1 2-9.5-0.5-8 1-4 1.5-2 5.5-4-0.5-2-4-6-3-10-2-0.5-14 0 0-8.5 16 0 10-2.5 10-1 14.5 2.5 6.5 2 2.5 2 2.5 7.5 2 1 28-2 4 0 6 1.5 2 2 0 4-0.5 4-2 6-1.5 2-2 1.5-8 4-2 2.5 2 12 1 4 1.5 2 1.5 1 4 1.5 4 0 4-0.5 8-3 12-0.5 5.5-2.5 4.5-3.5 7-10.5 1-8 3-6 2-6 2-20 0-4-3.5-8 0.5-4 1-2 5-6.5 2-2zM20.5 42l-7 2-3 2 2 8 1.5 4 2 2.5 4 3.5 1.5 4 0 2-3.5 2-4 1-2 1-2 2-1 2-0.5 2 0.5 8-0.5 8 0.5 4 1 1.5 2 1.5 2 0.5 10 1.5 12 1 4 1 3 3 4.5 8 1.5 2 5 2.5 4 0.5 6.5-3 3.5-4 5-10 3-2 1.5-2 1-14-2.5-8 0.5-2 1-2 2.5-1.5 6.5-2.5 1.5-2 0.5-6-1-4-1.5-1.5-2-1-16 2.5-6-2-8-1.5-4-2.5-3-8-3-1.5-4-1.5-12-2zM138 100l-5 2 1.5 2 7.5 1.5 2-0.5 1-1-1-2.5-2-1.5zM150 112l-1.5 6 1.5 2 4-0.5 1.5-1.5-1.5-0.5zM16.5 116l0 4 1.5 2 2 1.5 2-2 0.5-1.5-0.5-3-2-2.5-2-0.5zM58 145l4 0 4 3 1 2 2.5 6 0 4-1 12 0 50-6 0 0.5-52 3-6 1.5-6 0-2-1.5-4-3.5-4-2.5-0.5-1.5 0.5-12.5 11.5-8 4-6 2-6 1-34 0 0-3 34-0.5 8-2.5 6-1 4-2zM98 153l2 0.5 0.5 2.5-2.5 0.5-1-0.5 0-2z"/><path fill="#0cfff3" stroke="#0cfff3" stroke-width="0.6" fill-rule="evenodd" d="M76 -8l4 0-0.5 24-0.5 2-1 0.5-2 0-0.5-2.5zM154 14l6-1.5 14-0.5 12 2.5 3 1.5 5 4.5 2 1 46 0 0 2.5-46-0.5-4-1.5-6-5.5-12-2.5-16 1-4 1-2.5 2-4 4-2.5 6 2 10-1 6-1.5 8 1 14 1 6 1 6 0 2-3 8-0.5 6 0.5 2 5.5 7 6 6.5 2 1 84 0.5 0 3.5-84 0-2-0.5-4-5-3-3-2-4-3-3.5-2-1-2 0-8 0.5-2-0.5-1.5-1.5 9-10 3.5-6 0.5-8 1.5-10 0-10 2-14-0.5-4-2-6 0.5-2 2-4 3-3.5 2.5-2.5zM50 25l5 1 2.5 2-7.5 2-2 0-5-2 3-2zM22 41.5l6-0.5 12 2 4 1.5 3 1.5 3 8 4 2.5 8 1.5 6 2 16-2.5 2 1 2 2.5 0.5 3-0.5 6-1.5 2-6.5 2.5-2.5 1.5-1 2-0.5 2 2.5 8-1 14-5.5 5.5-2.5 6.5-3 4-2 2-4 2-2.5 1-2 0-3-1-4-2-1.5-2-4.5-8-3-3-4-1-12-1-10-1.5-2-0.5-1.5-1-1.5-2-0.5-4 0.5-8-0.5-8 0.5-2 1-2 2-2 2-1 4-1 3.5-2 0-2-1.5-4-4-3.5-2-2.5-1.5-4-2-8 3.5-2zM20.5 44l-4.5 2-0.5 2 0 6 1 2 3.5 3.5 8 4.5 0 4 0 2-3 2-11 2.5-2 1-2 2.5-0.5 2 1 8 0 8 0.5 2 3 3 8 2 6 0.5 18.5 0.5 1 2 0.5 6 3 6 3 2.5 2 0 2.5-0.5 2.5-2 5-6 0-8 6-7 2-3 1.5-4 0.5-2-1.5-4-4.5-4 0.5-2 2.5-6 0-2-1-2-2-1.5-8-5.5-10-3-4-2-1.5-2-2.5-6-1.5-2-4.5-1.5-10-1.5zM110 98.5l16 0.5 5.5 5 14.5 4 1.5 2 0 2-2 6 0.5 2 2 2 2 0.5 92 0 0 2.5-94-0.5-2-1-2.5-3.5 2-8-1-2-3.5-2-9-3-8-3.5-14-1.5-4 0.5-12 4.5-1.5 3-2 8 0 4 1 8 2.5 4 4 3 4 0.5 2-0.5 6-3 6-1.5 4-2.5 2 1 1.5 3 0 4-1 4-3 6-4 6-2 4 0.5 66-0.5 0-0.5-60-1-6 0.5-2 4.5-6 2-4 2-6 0.5-4-1.5-2.5-2-0.5-8 1.5-8 4.5-2 0.5-2-0.5-4-3.5-2.5-3.5-1.5-4-0.5-6 1-10-1-6zM8 107.5l2 0.5 3.5 2 0.5 2-4 1-18 0 0-5.5zM18 114l2 0.5 2.5 3.5 0 2-0.5 1.5-2 2-2-1.5-1.5-2 0-4zM60 147.5l2 0 2.5 2.5 3 6 0 2-1.5 6-3 6-0.5 52-70.5 0 0-55.5 34 0 8-1.5 12-5.5 12-11zM54 156l-5.5 6-0.5 2 2 2.5 4 1 2 0 2-0.5 6-6 1-3 0-2-1.5-4-1.5-1.5-2 0z"/><path fill="#3affc5" stroke="#3affc5" stroke-width="0.6" fill-rule="evenodd" d="M156 15.5l4-1 14-0.5 12 2.5 6 5.5 4 1.5 46 0.5 0 2-46 0-5.5-2-4.5-4.5-2-1-10-2.5-16 1-3.5 1-2.5 2-3.5 4-1.5 4 1.5 10-1 6-2.5 8 0.5 4 2.5 10 0.5 2 3.5 4 3.5 6 0 2-1.5 1.5-3 6.5-3 3.5-1 2.5 0 2 3 4.5 8 6.5 2 0.5 82 0 0 3.5-84-0.5-2-1-6-6.5-5.5-7-0.5-2 0.5-6 3-8 0-2-1-6-1-6-1-12 2.5-16-2-10 1.5-4 3-4 2.5-2.5zM22 43.5l6-0.5 10 1.5 4.5 1.5 1.5 2 2.5 6 1.5 2 4 2 10 3 8 5.5 2 1.5 1 2 0 2-2.5 6-0.5 2 4.5 4 1.5 4-0.5 2-1.5 4-2 3-6 7 0 8-5 6-2.5 2-2.5 0.5-2 0-3-2.5-3-6-0.5-6-1-2-18.5-0.5-6-0.5-8-2-3-3-0.5-2 0-8-1-8 0.5-2 2-2.5 2-1 11-2.5 3-2 0-4 0-2-8-4.5-3.5-3.5-1-2 0-6 0.5-2zM22 46l-2 2-1 4 0 2 1 2 4 3 6 1.5 4 1.5 1 2-1.5 6-1.5 2.5-4 1-14 2-2.5 2.5-1 2 1.5 14 0 2 1 2 3 2 2 1 8 1.5 20-1 7.5 0.5 4.5 1.5 4-3 8-7.5 2-3 1-2-1-2-2-2-7-4 1-2 4-4.5 0.5-1.5-0.5-2-6-5.5-4-2.5-8.5-2-4-2-1.5-2-4-8-2-1.5-10-2-2 0zM56 106l-3 2-1 2-0.5 2 2.5 4 2 1 4-5 0-2-2-4zM110 100l14 1.5 5 2.5 12 4 3 1.5 1.5 2.5-2 8 2.5 3.5 2 1 94 0.5 0 2-94-0.5-2.5-0.5-4.5-4-1-2 2.5-4 1-4-1-2-4.5-2.5-6-1.5-8-3.5-12-1.5-4 0.5-12 4-2 2-1 2.5-2 6 0 4 1.5 8 3.5 4.5 4 2 4-0.5 6-2.5 4.5-1.5 5.5-4 2 0 3.5 0 4 2-1.5 1-3 11-5 8-3.5 4-2 4-0.5 12 0.5 54-0.5 0-0.5-66 2-4 4-6 3-6 1-4 0-4-1.5-3-2-1-4 2.5-6.5 1.5-5.5 3-4 0.5-2-0.5-4-3-1.5-2-1.5-4-0.5-6 0-4 2-8 1.5-3 12-4.5zM134 121.5l2.5 0.5-2 4-2.5 0.5-1-0.5zM60 150.5l2 0 1.5 1.5 1.5 4 0 2-1 3-6 6-2 0.5-2 0-4-1-2-2.5 0.5-2 5.5-6zM58 156l0 2 2 1.5 2.5-1.5 0-2-0.5-1.5-2 0z"/><path fill="#68ff97" stroke="#68ff97" stroke-width="0.6" fill-rule="evenodd" d="M174 16l10 2.5 2 1 4.5 4.5 5.5 2 46 0 0 6-34 0-4-1-2-1-8-0.5-6-2.5-4.5-5-3-2-6.5-2-14 0.5-4 1-2 1-3 3.5-1.5 4 1 10-1.5 6-2.5 6-0.5 4 4 11.5 2 2 10 7 3 3.5 0.5 2-7.5 2.5-2 1.5-6.5 10-0.5 2 1.5 2 5.5 4.5 2 1 2 0.5 82 0 0 3.5-82 0-2-0.5-2-1.5-8-7.5-1-2 0.5-4 4.5-6 1.5-4 2-2 0-2-3.5-6-4-5.5-3-12.5 0.5-4 2-6 1-6-1.5-10 0.5-2 2.5-4 2-2 4-2.5 4-1zM22 46l4-1.5 2 0 10 2 2 1.5 4 8 1.5 2 4 2 8.5 2 4 2.5 6 5.5 0.5 2-0.5 1.5-4 4.5-1 2 7 4 2 2 1 2-1 2-4 5-5.5 5-4.5 3.5-4.5-1.5-7.5-0.5-20 1-8-1.5-2-1-3-2-1-2 0-2-1.5-14 1-2 2.5-2.5 14-2 4-1 1.5-2.5 1-4 0.5-2-1-2-4-1.5-6-1.5-4-3-1-2 0-2 1-4zM25.5 48l-2 2-1.5 4 2 2 2 1 8-0.5 2.5-0.5 1-2-7.5-6-2-0.5zM41.5 64l-2.5 4-2.5 6-0.5 0.5-4 1-16 0.5-2 0.5-1.5 1.5-1 2 1.5 14 0.5 2 2.5 2.5 6 2.5 6 0.5 27.5-3.5 2.5-0.5 4-2 6-5.5 1-2-1.5-2-9.5-6 0.5-2 4.5-4 1.5-2-0.5-2-8-6-2-0.5-10-0.5zM106 102l6-1 12 1.5 8 3.5 6 1.5 4 2.5 1.5 2-0.5 2-3 6 1 2 3 3 1.5 1 2.5 0.5 94 0.5 0 1.5-92 0-4-0.5-4-1-4 2-8 8-3.5 5-9 10-2 4-1 12 0.5 54-0.5 0-0.5-54 0.5-12 2-4 3.5-4 5-8 3-11 1.5-1-4-2-5.5 0-5.5 4-4.5 1.5-6 2.5-2 0.5-4-1-4-3-2-4.5-1-6 0-4 2.5-8 2.5-2.5zM110.5 102l-4.5 1-8 2.5-2 1.5-2 3-2.5 8 0.5 6 2 5 2 2.5 2 1.5 2 0.5 4 0 6-3 4-1 6-4.5 8-3.5 4-2.5 6-1.5 2-1 1.5-2.5 0.5-2-1.5-2-4-2-12.5-4.5zM133 124l-2 2 1 0.5 2.5-0.5 2-4-2.5-0.5zM56 106l2 0 2 4 0 2-4 5-2-1-2.5-4 0.5-2 1-2zM60 154.5l2 0 0.5 1.5-0.5 2.5-2 1-2-1.5 0-2z"/><path fill="#97ff68" stroke="#97ff68" stroke-width="0.6" fill-rule="evenodd" d="M174 18l6.5 2 3 2 4.5 5 6 2.5 8 0.5 2 1 4 1 34 0 0 17.5-44 0-8-0.5-2.5-1-2-2-1.5-10-0.5-8-3.5-4.5-2-1.5-4-1.5-14 0.5-4 0.5-2 2-1 2.5-0.5 2 0.5 6-0.5 4-4.5 12-0.5 4 4.5 10 10 8 6.5 8-2.5 2-6 1.5-2 1-6 9.5-0.5 2 0.5 1 2 2 4 2 4 1 80 0 0 2-82 0-2-0.5-2-1-5.5-4.5-1.5-2 0.5-2 6.5-10 2-1.5 7.5-2.5-0.5-2-3-3.5-10-7-2-2-3.5-9.5-0.5-4 3-8 1.5-6-1-10 0.5-2 2.5-4 3.5-2.5 4-1zM26 47.5l2 0 2 0.5 5.5 4 2 2-1 2-8.5 1-2 0-2-1-2-2 0.5-2 1.5-2.5zM42 63.5l2-0.5 10 0.5 2 0.5 8 6 0.5 2-1.5 2-4.5 4-0.5 2 9.5 6 1.5 2-1 2-6 5.5-4 2-2.5 0.5-27.5 3.5-6-0.5-6-2.5-2.5-2.5-0.5-2-1.5-14 1-2 1.5-1.5 2-0.5 16-0.5 4-1 0.5-0.5 3.5-7.5zM45 68l-2 2-2 6-3 1.5-4 0.5-10-1-6 0-4 1-1.5 2 0.5 2 1.5 12 1.5 3 2 1.5 4 1.5 4 1 4-0.5 19-4.5 11-3.5 4-2.5 1-2-1-1-8-4.5-2-2.5 0.5-2 1-2 4.5-4-1-2-5-3-4-0.5-2 0zM112 102l12 1.5 14 5 2.5 1.5 1.5 2-0.5 2-1.5 2.5-2 1-6 1.5-4 2.5-8 3.5-6 4.5-4 1-6 3-4 0-2-0.5-2-1.5-2-2.5-2-5-0.5-6 2.5-8.5 2-2.5 2-1.5 8-2.5zM100 105.5l-4 2.5-2 3.5-1.5 4.5 0 6 1.5 6 2 2.5 4 2.5 4 0 10-4 4-4 6-4 8-3.5 6-1.5 2-2 0.5-2-2.5-2.5-12-4.5-8-1-6-1.5zM140 127.5l2-0.5 4 1 4 0.5 92 0 0 1.5-92 0-6-0.5-2.5 0.5-3.5 3-18 17.5-2 2.5-1.5 3-1.5 12 0.5 54-0.5 0-0.5-54 1-12 2-4 9-10 3.5-5 6-6z"/><path fill="#c5ff3a" stroke="#c5ff3a" stroke-width="0.6" fill-rule="evenodd" d="M156 21.5l4-0.5 14-0.5 4 1.5 2 1.5 3.5 4.5 0.5 8 1.5 10 2 2 2.5 1 8 0.5 44 0 0 4-52 0-6-0.5-3.5-1-1.5-2 1-4-0.5-4 0.5-8-0.5-6-1.5-2-4-1.5-4-0.5-4 1-2 1-5.5 6-2.5 9-0.5 1-3.5 3.5-3 6.5 0 2 3 5 2 1.5 6 7.5 10 11 4 0.5 10-0.5 58 0 0 3-70 0-6 2-4 0.5-3 1.5-1.5 2-3.5 8 4 3 4 1 80-0.5 0 2.5-80 0-4-1-5-3-1.5-2 0.5-2 4.5-8 3.5-2.5 6-1.5 2.5-2-6.5-8-10-8-4.5-10 0.5-4 4.5-12 0.5-4-0.5-6 0.5-2 1-2.5zM46 67l2-0.5 4 0 3.5 1.5 3.5 2 1 2-4.5 4-1 2-0.5 2 2 2.5 8 4.5 1 1-1 2-4 2.5-11 3.5-19 4.5-4 0.5-4-1-4-1.5-2-1.5-1.5-3-1.5-12-0.5-2 1.5-2 4-1 6 0 10 1 4-0.5 3-1.5 2-6zM50 70l-2 0.5-1.5 1.5 0.5 6-1 1.5-2 0-4-0.5-8 0.5-10-1-6 0-2 1 0 2.5 1 10 1.5 4 2.5 2 3 1 4 1 4-0.5 12.5-3.5 4-2 3.5-3 9.5-3-3.5-1.5-4-2.5-2.5-4 0-2 3-6zM106 103.5l6-1 6 1.5 8 1 12 4.5 2.5 2.5-0.5 2-2 2-6 1.5-8 3.5-6 4-4 4-10 4-4 0-4-2.5-2-2.5-1.5-6 0-6 1.5-4.5 2-3.5 4-2.5zM108 104l-7 2-3 1.5-2.5 2.5-1.5 4-1 6 1 6 2.5 4 3.5 2 4 0 10-4 4-4 5.5-4 8.5-3.5 4-1 2-1.5 1-2-2-2-11-4.5-8-1-6-1zM142 129.5l100 0.5 0 1-96 0-2 0-2 1-22 19.5-3 4.5-1 12 0.5 54-1 0-0.5-54 1.5-12 1.5-3 2-2.5 18-17.5z"/><path fill="#f3ff0c" stroke="#f3ff0c" stroke-width="0.6" fill-rule="evenodd" d="M166 25l4-1 4 0.5 4 1.5 1.5 2 0.5 6-0.5 8 0.5 4-1 4 1.5 2 3.5 1 6 0.5 52 0 0 2-58 0.5-6-0.5-8-2.5-4 0-4 1.5-1.5 1.5-1.5 2-0.5 4 1.5 4 8 10 2 1.5 4 0.5 10-0.5 58 0 0 1.5-58 0-10 0.5-4-0.5-10-11-6-7.5-2-1.5-3-5 0-2 3-6.5 3.5-3.5 0.5-1 2.5-9 5.5-6zM50 70l2.5 2-3 6 0 2 2.5 4 4 2.5 3.5 1.5-9.5 3-3.5 3-4 2-12.5 3.5-4 0.5-4-1-3-1-2.5-2-1.5-4-1-10 0-2.5 2-1 6 0 10 1 8-0.5 4 0.5 2 0 1-1.5-0.5-6 1.5-1.5zM17.5 80l-1.5 1 0 1 0 8 1 4 1 2 3.5 2 2.5 1 2 0 4 0 12-5 3-2 3-4 0-2-1.5-2-2.5-2-4-1.5-8 0.5-8-1.5zM172 82l70 0 0 3-70 0-10 1-2 1-2 3-0.5 4 0 2 2.5 1.5 4 0.5 78-0.5 0 2-78 0.5-6-1-4-3 3.5-8 1.5-2 3-1.5 4-0.5zM108 104l4-0.5 6 1 8 1 11 4.5 2 2-1 2-2 1.5-4 1-8.5 3.5-5.5 4-4 4-10 4-4 0-3.5-2-2.5-4-1-6 1-6 1.5-4 2.5-2.5 3-1.5zM100 107.5l-3.5 2.5-2 4-1 4 0.5 4.5 2 5.5 2 2.5 2 1 4 0 8.5-3.5 9.5-8 2-1.5 12-4.5 1.5-2-2.5-2-11-4.5-6 0-6-1-4 0zM144 131l98 0 0 1.5-98 0.5-12 9.5-6 5.5-5.5 4-2.5 4-1 4-0.5 8 0.5 14 0 40-0.5 0-0.5-54 1-12 3-4.5 22-19.5z"/><path fill="#ffdc00" stroke="#ffdc00" stroke-width="0.6" fill-rule="evenodd" d="M164 54l4-1 14 3 60-0.5 0 2-60 0-14-2.5-4 1-2 1.5-1.5 2.5-0.5 2 1.5 4 6 8 2.5 2.5 2 0.5 12-1 58 0 0 1.5-58 0-12 0.5-2-0.5-2-1.5-9-12-0.5-2 0.5-4 1.5-2zM18 80l6-0.5 8 1.5 8-0.5 4 1.5 2.5 2 1.5 2 0 2-3 4-3 2-12 5-4 0-2 0-2.5-1-3.5-2-1-2-1-4 0-8 0-1zM19.5 82l-1.5 1.5-1 2.5 0.5 6 2.5 4 4 2 4 0.5 6.5-2.5 8-4 2-2 1-2-0.5-2-1-2-4-2.5-2 0-6 0.5-8-1zM162 86l10-1 70 0 0 12.5-80 0.5-4.5-2 0-2 0.5-4 1-2zM161 90l0 2 1 2 2 1 5.5-1 2-2 0-2-7.5-2-2 0.5zM108 104.5l4 0 6 1 6 0 11 4.5 2.5 2-1.5 2-12 4.5-2 1.5-9.5 8-8.5 3.5-4 0-2-1-2-2.5-2-5.5-0.5-4.5 1-4 2-4 3.5-2.5zM105.5 106l-5 2-2.5 1.5-2 3-1.5 3.5 0 4 1 6 2.5 3.5 2 1 4 0.5 8-3.5 2-1.5 4-4 4-3.5 13.5-6.5-7.5-4-4-1.5-6-0.5-6-1zM144 133l98-0.5 0 1.5-94 0-4 0.5-12 9-4 4.5-6.5 4-2 2-1.5 4-1 10 0.5 54-0.5 0 0-40-0.5-14 0.5-8 1-4 2.5-4 5.5-4 6-5.5z"/><path fill="#ffae00" stroke="#ffae00" stroke-width="0.6" fill-rule="evenodd" d="M166 55.5l4-0.5 8 2.5 4 0 60 0 0 2-58 0-6-0.5-8-2.5-4 0.5-2 1-2 2-0.5 2 0.5 2 6 9.5 2 1.5 2 1 10-1 6-0.5 54 0 0 1.5-58 0-12 1-2-0.5-2-2-7.5-10.5-0.5-2 1.5-4 2.5-2zM20 82l4-1 8 1 6-0.5 2 0 4 2.5 1 2 0.5 2-1 2-2 2-8 4-6.5 2.5-4-0.5-4-2-2.5-4-0.5-6 1-2.5zM20 84l-1 2-0.5 2 0.5 4 1 2 2 2 4 1.5 4-1 6-3.5 4-1.5 2-1.5 1.5-2-0.5-2-1.5-2-3.5-1.5-6 1-8-1zM162 88.5l2-0.5 7.5 2 0 2-2 2-5.5 1-2-0.5-1-2.5 0-2zM106 106l6-1 6 1 6 0.5 4 1.5 7.5 4-13.5 6.5-4 3.5-4 4-2 1.5-8 3.5-4-0.5-2-1-2.5-3.5-1-6 0-4 1.5-3.5 2-3 2.5-1.5zM108 106l-8 3-2 2-2 3.5-1 3.5 0.5 6 2 4 2.5 2 4 0 8-3.5 9-8.5 8.5-4 3-2-5.5-4-3-1-6 0-6-1.5zM144 134.5l4-0.5 94 0 0 2-96 0-4 1.5-8 5.5-4.5 5-9 6-2 4-1 10 0.5 16 0 38-0.5 0-0.5-54 1-10 1.5-4 2-2 6.5-4 4-4.5z"/><path fill="#ff8000" stroke="#ff8000" stroke-width="0.6" fill-rule="evenodd" d="M164 58l4-1.5 14 3 60 0 0 1.5-58 0.5-6-1-6-2-4-1-2 1-2 1.5-1 2 0 2 1 1.5 4 6.5 2 2 2 1 10-1.5 6 0 54 0 0 1-58 0.5-12 1-2-1-2-1.5-6-9.5-0.5-2 0.5-1.5zM22 83l4-0.5 6 1 6-1 3.5 1.5 1.5 2 0.5 2-1.5 2-2 1.5-4 1.5-6 3.5-4 1-4-1.5-2-2-1-2-0.5-4 0.5-2 1-2zM23.5 84l-3 2-0.5 2 0 2 1.5 4 2.5 1.5 2 1 3-0.5 5-4 5.5-2 2-2-0.5-2-1-1.5-2-1-6 1.5-6-1zM108 106l4-0.5 6 1.5 6 0 3 1 5.5 4-3 2-8.5 4-9 8.5-8 3.5-4 0-2.5-2-2-4-0.5-6 1-3.5 2-3.5 2-2zM100.5 110l-2.5 2-2 6 0 3.5 1 4.5 1.5 2 3.5 1.5 4-1 5.5-2.5 8.5-8.5 7-3.5 2.5-2-1.5-2-4-2-6 0-6-1.5-4 0.5zM146 136l96 0 0 2-96 0-4 1-8 5-4 5-8 4.5-2 2.5-0.5 2-1 10 0.5 14 0 40-1 0 0-38-0.5-16 1-8 1-4 2.5-3.5 7.5-4.5 4.5-5 8-5.5z"/><path fill="#ff5100" stroke="#ff5100" stroke-width="0.6" fill-rule="evenodd" d="M168 57.5l3 0.5 7 2.5 4 1 60-0.5 0 3-58 0-4-0.5-8-3.5-4-0.5-2 0.5-1 2 0 2 4.5 8 2.5 1.5 8-1.5 8 0 54 0 0 1.5-58 0-12 1.5-2-1-2-2-5-8 0-2 1-2 2-1.5zM24 84l2 0 6 1 6-1.5 2 1 1 1.5 0.5 2-2 2-5.5 2-5 4-4.5 0-3-2-1.5-4 0-2 0.5-2zM24 86l-2 2 0 2.5 2 2.5 1.5 1 2.5 0 3-4 0.5-2-4-2zM106 107.5l6-1 6 1.5 6 0 4 2 1.5 2-2.5 2-7 3.5-8.5 8.5-5.5 2.5-4 1-3.5-1.5-1.5-2-1-4.5 0-3.5 2-6 2.5-2zM107 108l-7 3.5-2 2.5-0.5 2-0.5 4 0.5 4 0.5 2 2 2 4 0.5 5.5-2.5 4.5-3.5 6-7 7-3.5-1-2-2-0.5-6-0.5-6-2zM142 139l4-1 96 0 0 2.5-98-0.5-2 0.5-6.5 3.5-2 2-3 4-8.5 5-1.5 3-1 10 0.5 16 0 38-1 0 0-40-0.5-14 1-10 0.5-2 2-2.5 6.5-3.5 1.5-1 4-5z"/><path fill="#ff2300" stroke="#ff2300" stroke-width="0.6" fill-rule="evenodd" d="M168 59.5l4 0.5 6 3 4 1 60 0 0 8-56 0-6 0-8 1.5-2.5-1.5-4.5-8 0-2 1-2zM168 62l-0.5 2 2 2 2 4 0.5 0.5 2.5-0.5 0-2-2.5-4-2-2zM24 86l3.5 0 4 2-0.5 2-3 4-2.5 0-1.5-1-2-2.5 0-2.5zM108 107.5l4-0.5 6 2 6 0.5 2 0.5 1 2-7 3.5-6 7-4.5 3.5-5.5 2.5-4-0.5-2-2.5-1-5.5 0-2 1-4 2-2.5 2-1.5zM105.5 110l-5.5 3.5-2 4 0 3 2 5.5 2 1 5-1 5-4 4-4 3.5-6-3-2-4.5-2-2 0.5zM140 141.5l4-1.5 98 0.5 0 2.5-90 0-10-1-6 3-1.5 1-2.5 4.5-8 4-2 1.5-0.5 2-1 10 1.5 14 0 40-2 0 0-38-0.5-16 1-10 1.5-3 8.5-5 3.5-5z"/><path fill="#f30000" stroke="#f30000" stroke-width="0.6" fill-rule="evenodd" d="M168 62l2 0 2 2 2.5 4 0 2-2.5 0.5-0.5-0.5-2-4-2-2zM110 108.5l2-0.5 4.5 2 3 2-3.5 6-4 4-5 4-5 1-2-1-2-5.5 0-3 2-4 2-2zM102 114.5l-1 1.5-0.5 2 1.5 2.5 4 1.5 4-2 2-2 2-4 0-2-2-1.5-2 0zM138 143.5l4-1.5 10 1 90 0 0 3.5-90 0-6-0.5-4-1.5-5.5 1.5-4 6-5 2-3.5 2-2 4 0 6 1.5 8 0.5 6 0 42-2 0 0-40-1.5-14 1-10 0.5-2 2-1.5 8-4 2.5-4.5z"/><path fill="#c50000" stroke="#c50000" stroke-width="0.6" fill-rule="evenodd" d="M110 110.5l2 0 2 1.5 0 3-2 3-2 2-4 2-4-1.5-1.5-2.5 0.5-2 1.5-2zM138 145.5l4-1 6 1.5 6 0.5 88 0 0 5-84 0-16-0.5-2 0-4 3-8.5 2-2.5 2-1 2-0.5 2 0.5 3 1 3 1.5 6 0.5 12 0 36-3 0 0-42-0.5-6-1.5-8 0-6 2-4 3.5-2 5-2 2-2 1.5-3.5z"/><path fill="#970000" stroke="#970000" stroke-width="0.6" fill-rule="evenodd" d="M140 151l102 0.5 0 70.5-115 0-0.5-44-1-8-1.5-6 0-4 1-2 2.5-2 8.5-2z"/></g></g>
<clipPath id="c0"><rect x="-1" y="-1" width="236.0" height="214.7"/></clipPath>
<g clip-path="url(#c0)"><use href="#st"/></g>
</g>
<rect x="195.7" y="96.6" width="234.0" height="212.7" fill="none" stroke="#000" stroke-width="0.9"/>
<rect x="441.2" y="95.3" width="23.6" height="215.1" fill="url(#jet)" stroke="#222" stroke-width="0.7"/>
<line x1="462.3" x2="464.8" y1="310.4" y2="310.4" stroke="#222" stroke-width="0.8"/>
<text x="473.4" y="317.9" font-size="20.5" font-weight="bold" fill="#262626">0</text>
<line x1="462.3" x2="464.8" y1="232.3" y2="232.3" stroke="#222" stroke-width="0.8"/>
<text x="473.4" y="239.8" font-size="20.5" font-weight="bold" fill="#262626">2</text>
<line x1="462.3" x2="464.8" y1="153.4" y2="153.4" stroke="#222" stroke-width="0.8"/>
<text x="473.4" y="160.9" font-size="20.5" font-weight="bold" fill="#262626">4</text>
<text x="307.7" y="341.8" font-size="23" font-weight="bold" text-anchor="middle" fill="#262626">SAT+RAP 850 hPa MR (g/kg)</text>
<text x="240.2" y="76.7" font-size="12.3" font-weight="bold" text-anchor="end" fill="#262626">100</text>
<circle cx="245.0" cy="64.1" r="1.25" fill="none" stroke="#262626" stroke-width="1"/>
<text x="252.4" y="76.7" font-size="12.3" font-weight="bold" fill="#262626">W</text>
<text x="300.9" y="76.7" font-size="12.3" font-weight="bold" text-anchor="end" fill="#262626">90</text>
<circle cx="305.7" cy="64.1" r="1.25" fill="none" stroke="#262626" stroke-width="1"/>
<text x="314.6" y="76.7" font-size="12.3" font-weight="bold" fill="#262626">W</text>
<text x="364.2" y="76.7" font-size="12.3" font-weight="bold" text-anchor="end" fill="#262626">80</text>
<circle cx="369.0" cy="64.1" r="1.25" fill="none" stroke="#262626" stroke-width="1"/>
<text x="377.9" y="76.7" font-size="12.3" font-weight="bold" fill="#262626">W</text>
<text x="427.4" y="76.7" font-size="12.3" font-weight="bold" text-anchor="end" fill="#262626">70</text>
<circle cx="432.2" cy="64.1" r="1.25" fill="none" stroke="#262626" stroke-width="1"/>
<text x="441.1" y="76.7" font-size="12.3" font-weight="bold" fill="#262626">W</text>
<text x="163.3" y="113.0" font-size="12.3" font-weight="bold" text-anchor="end" fill="#262626">48</text>
<circle cx="168.0" cy="99.4" r="1.2" fill="none" stroke="#262626" stroke-width="1"/>
<text x="176.3" y="113.0" font-size="12.3" font-weight="bold" fill="#262626">N</text>
<text x="163.3" y="131.6" font-size="12.3" font-weight="bold" text-anchor="end" fill="#262626">46</text>
<circle cx="168.0" cy="118.0" r="1.2" fill="none" stroke="#262626" stroke-width="1"/>
<text x="176.3" y="131.6" font-size="12.3" font-weight="bold" fill="#262626">N</text>
<text x="163.3" y="148.5" font-size="12.3" font-weight="bold" text-anchor="end" fill="#262626">44</text>
<circle cx="168.0" cy="134.9" r="1.2" fill="none" stroke="#262626" stroke-width="1"/>
<text x="176.3" y="148.5" font-size="12.3" font-weight="bold" fill="#262626">N</text>
<text x="163.3" y="166.8" font-size="12.3" font-weight="bold" text-anchor="end" fill="#262626">42</text>
<circle cx="168.0" cy="153.2" r="1.2" fill="none" stroke="#262626" stroke-width="1"/>
<text x="176.3" y="166.8" font-size="12.3" font-weight="bold" fill="#262626">N</text>
<text x="163.3" y="182.6" font-size="12.3" font-weight="bold" text-anchor="end" fill="#262626">40</text>
<circle cx="168.0" cy="169.0" r="1.2" fill="none" stroke="#262626" stroke-width="1"/>
<text x="176.3" y="182.6" font-size="12.3" font-weight="bold" fill="#262626">N</text>
<text x="163.3" y="197.6" font-size="12.3" font-weight="bold" text-anchor="end" fill="#262626">38</text>
<circle cx="168.0" cy="184.0" r="1.2" fill="none" stroke="#262626" stroke-width="1"/>
<text x="176.3" y="197.6" font-size="12.3" font-weight="bold" fill="#262626">N</text>
<text x="163.3" y="215.3" font-size="12.3" font-weight="bold" text-anchor="end" fill="#262626">36</text>
<circle cx="168.0" cy="201.7" r="1.2" fill="none" stroke="#262626" stroke-width="1"/>
<text x="176.3" y="215.3" font-size="12.3" font-weight="bold" fill="#262626">N</text>
<text x="163.3" y="228.9" font-size="12.3" font-weight="bold" text-anchor="end" fill="#262626">34</text>
<circle cx="168.0" cy="215.3" r="1.2" fill="none" stroke="#262626" stroke-width="1"/>
<text x="176.3" y="228.9" font-size="12.3" font-weight="bold" fill="#262626">N</text>
<text x="163.3" y="246.7" font-size="12.3" font-weight="bold" text-anchor="end" fill="#262626">32</text>
<circle cx="168.0" cy="233.1" r="1.2" fill="none" stroke="#262626" stroke-width="1"/>
<text x="176.3" y="246.7" font-size="12.3" font-weight="bold" fill="#262626">N</text>
<text x="163.3" y="260.3" font-size="12.3" font-weight="bold" text-anchor="end" fill="#262626">30</text>
<circle cx="168.0" cy="246.7" r="1.2" fill="none" stroke="#262626" stroke-width="1"/>
<text x="176.3" y="260.3" font-size="12.3" font-weight="bold" fill="#262626">N</text>
<text x="163.3" y="273.1" font-size="12.3" font-weight="bold" text-anchor="end" fill="#262626">28</text>
<circle cx="168.0" cy="259.5" r="1.2" fill="none" stroke="#262626" stroke-width="1"/>
<text x="176.3" y="273.1" font-size="12.3" font-weight="bold" fill="#262626">N</text>
<text x="163.3" y="287.6" font-size="12.3" font-weight="bold" text-anchor="end" fill="#262626">26</text>
<circle cx="168.0" cy="274.0" r="1.2" fill="none" stroke="#262626" stroke-width="1"/>
<text x="176.3" y="287.6" font-size="12.3" font-weight="bold" fill="#262626">N</text>
<text x="163.3" y="301.7" font-size="12.3" font-weight="bold" text-anchor="end" fill="#262626">24</text>
<circle cx="168.0" cy="288.1" r="1.2" fill="none" stroke="#262626" stroke-width="1"/>
<text x="176.3" y="301.7" font-size="12.3" font-weight="bold" fill="#262626">N</text>
<text x="163.3" y="315.4" font-size="12.3" font-weight="bold" text-anchor="end" fill="#262626">22</text>
<circle cx="168.0" cy="301.8" r="1.2" fill="none" stroke="#262626" stroke-width="1"/>
<text x="176.3" y="315.4" font-size="12.3" font-weight="bold" fill="#262626">N</text>
<g transform="translate(616.4 96.6) scale(0.9991 1.0000)">
<clipPath id="s1"><path d="M7.5 -3.2L215.3 -3.2L175.3 80.4L159.3 119.4L150.3 147.4L143.3 173.4L139.5 179.5L134.3 181.0L124.3 177.5L67.0 166.0L2.0 157.5L-3.0 155.5L-3.6 150.0L-2.4 103.4L0.3 63.4L2.5 35.0Z"/></clipPath><g clip-path="url(#s1)"><g filter="url(#tx)"><path fill="#0000f3" stroke="#0000f3" stroke-width="0.6" fill-rule="evenodd" d="M90 -8l11.5 0 0 10-1.5 2-4 2-2-0.5-2.5-1.5-1.5-2zM132 68l2 3 0.5 3 0.5 2-1 4-2 2-4 1.5-2-0.5-3.5-7 0.5-2 4-4 3-1.5zM108 76l0.5 0-0.5 0.5zM110 119l18 2.5 10-0.5 14 2 90 0 0 14-98 0-2 0-6 2.5-6 4.5-4 2-6 0.5-5 1.5-5 5-6 4-2 3 0.5 8 0 54-21 0 0-52-0.5-2-3.5-6 0-2 2-6 0-2-2-6 0-14 1-2 1.5-1.5 10-0.5 6-4 4.5-2z"/><path fill="#0023ff" stroke="#0023ff" stroke-width="0.6" fill-rule="evenodd" d="M30 -8l0.5 12 2 12 1.5 3 2 2 3 1-19 3-3.5 1-2.5 1.5-2 2.5-0.5 2-1.5 10-2 4-2 1-14 0 0-55zM90 -8l0 10 2 2.5 4 1.5 4-2 1.5-2 0-10 15.5 0 0 10-1 2.5-3.5 5.5-4.5 10-2 3-2 1.5-14 2-2 0-8-5-6-3-4 0.5-2.5 1-3 2-4.5 1-6 0-7.5-1 3.5-1 2-1.5 4-5.5 4-3 3-3 2-6 0-10zM16 57.5l10 1 2 1 1 0.5 1.5 4 0.5 2-0.5 2-2.5 1-4 0-6-1-2-1-1.5-1-0.5-1.5-0.5-4.5 0.5-2zM118 63l12 0 4 1 2.5 4 3 16-2.5 2-9 3-4 0-6-1.5-2 0.5-10 7-4 6-2 0-8-1-2-1-2-3-4-12 1-2 4.5-4 6.5-4 14-6.5zM131 68l-5 2.5-3 3.5-0.5 2 2.5 6 1 1 2 0.5 4-1.5 2-1.5 0.5-2.5 0.5-2-1-5-2-3zM108 76l0 0.5 0.5-0.5zM102 114l18.5 2 7.5 2 4-0.5 4.5-1.5 7.5-0.5 2 0 4 2 2 0 90 0 0 5.5-92 0-12-2-12 0.5-16-2.5-10 3-4 2-6 4-10 0.5-1.5 1.5-1 2-0.5 12 0.5 2 2 6 0 2-2 6 0 2 3.5 6 0.5 2 0 52-89.5 0 0-56 36 0 12-1.5 6-1.5 1.5-1 1.5-2-1-2-5-6-2-6 8.5-14 16.5-5.5 2-1.5 6-6.5 6-4 2 0 3 3.5 3 2 2 0.5 2-0.5 4-1.5zM144 137l98 0 0 2-100 0-4 1-8 6-9.5 2-4.5 2-5 6-2 4-0.5 10 0 52-6 0 0-54-0.5-8 2-3 6-4 5-5 5-1.5 6-0.5 4-2 6-4.5z"/><path fill="#0051ff" stroke="#0051ff" stroke-width="0.6" fill-rule="evenodd" d="M35 -8l0 10 1 4 3 8 3 2 2 0 4-3 3.5-3 2.5-4 1.5-4 0-10 9.5 0 0 10-2 6-3 3-4 3-4 5.5-2 1.5-3.5 1 5.5 1 6 0 4-0.5 2.5-0.5 3-2 2.5-1 4-0.5 6 3 8 5 2 0 14-2 2-1.5 2-3 4.5-10 4-6 0.5-2 0-10 3.5 0 0 10-9 20-1.5 6-2 1.5-18 4.5-6 0.5-10-1.5-2.5-1-3.5-3.5-6-2-20-0.5-16 0.5-6 2-4 3.5-3 10-3.5 8-1.5 2-16-0.5 0-4.5 14 0 2-1 2-4.5 1-7.5 1-4 1.5-2 2.5-2 6-1.5 17-2.5-3-1-2-2-2-4-1.5-9-0.5-8 0-6zM242 -8l0 23.5-46 0-7-1.5-5-4-6-2.5-20-0.5-4.5 1-3.5 2-10 8.5-2 1-0.5-1.5-0.5-4 5.5-8 0.5-4 0-10zM134 26.5l1.5 1.5 0.5 22-2 3-2 1-1.5 2 0 2 3.5 2 2 1.5 1.5 2.5 1 4 2 10 2.5 4 2.5 2 0 2-3.5 2.5-6 1.5-8 3.5-10 1-6 2.5-6 4.5-3.5 4.5-0.5 2 2 2.5 4 2 20 3.5 18-3 96 0.5 0 4-90 0-2 0-4-2-2 0-7.5 0.5-4.5 1.5-4 0.5-7.5-2-18.5-2-6 4.5-4 1.5-2 0.5-2-0.5-3-2-3-3.5-2 0-6 4-6 6.5-2 1.5-16 5-2 2.5-3 6-3 4-1 2 2 6 5 6 1 2-1.5 2-5.5 2.5-12 1.5-38 0 0-2.5 36 0 8-1.5 4-2-1-2-3-4-3.5-8 1.5-3 5-7 3-5 2-1.5 12-2 7-3.5 4.5-4 6.5-9 6-5 1.5-2 1.5-4-1-8-4.5-8 0.5-2 1.5-2 2.5-3.5 2-1.5 24-13 6-4 4-1.5 4-0.5 3-2 1-4-0.5-2-3.5-5-2-5-2-2.5-4-3.5 2-1 12-1.5zM112 66.5l-19.5 9.5-4.5 3-3 3-1 2 4 12 2 3 2 1 8 1 2 0 4-6 10-7 2-0.5 6 1.5 4 0 9-3 2.5-2-3-16-2.5-4-2-0.5-6-0.5-8 0zM89 104l-2.5 2-0.5 2 0.5 2 1.5 4 2 2 2 0.5 3.5-2.5 5.5-6-2-2-4-2-3-0.5zM14 55l12 2 4 1.5 2 1.5 0.5 2 0.5 4-1 3.5-2 1.5-6 0.5-6-1.5-6-2-1.5-2 1-8 1-2zM14 58l-0.5 2 0.5 4 0.5 2 1.5 1 2 1 6 1 4 0 2.5-1 0.5-2-0.5-2-1.5-4-1-0.5-2-1-5-0.5-5-0.5zM138 140l2-1 4 0 98 0 0 1-102 0.5-2 0.5-6 5-10 3-4 2-4 4-3 5 0.5 10 0 52-3 0 0-52 0.5-10 2-4 5-6 4.5-2 9.5-2z"/><path fill="#0080ff" stroke="#0080ff" stroke-width="0.6" fill-rule="evenodd" d="M39.5 -8l0.5 12 2 3.5 2 1.5 2 0 2-2 2.5-3 0.5-2 0-10 4.5 0 0 10-1.5 4-4 5.5-6 4.5-2 0-3-2-2.5-6-1.5-6 0-10zM124 -8l0 10-8 20 0 2 1.5 2 2.5 1 2 0 4-1.5 2-1.5 1.5-2 8.5-20 0-10 5 0 0 8 0 4-1 3-4 5-1 2 0.5 4 0.5 1.5 2-1 10-8.5 6-2.5 4-0.5 18 0.5 6 2.5 5 4 7 1.5 46 0 0 2.5-46 0-6-1-6-2-8-1.5-16-0.5-2 0-6 2-4 2-5.5 7-2 6-1 20-1 8 2 8 1 10 2 4 2.5 2.5 2 0.5 3.5-1 2-2 0.5-4 2-2.5 1.5 2.5-1.5 5.5-2 3.5-4 3.5-4 5-14 3.5-12 1-10 3.5-3 2.5-1.5 2-0.5 2 1.5 2 3.5 1.5 18 4 18-4.5 8-1 88 0 0 3.5-96-0.5-18 3-20-3.5-4-2-2-2.5 0.5-2 3.5-4.5 6-4.5 6-2.5 10-1 8-3.5 6-1.5 3.5-2.5 0-2-2.5-2-2.5-4-2-10-1-4-1.5-2.5-2-1.5-3.5-2 0-2 1.5-2 2-1 2-3-0.5-22-1.5-1.5-6 3-12 1.5-2 1 4 3.5 2 2.5 2 5 3.5 5 0.5 2-1 4-3 2-4 0.5-4 1.5-6 4-24 13-1.5 1-2.5 3-2 3-0.5 2 4.5 8 1 8-1.5 4-1.5 2-6 5-6.5 9-4.5 4-7 3.5-12 2-2 1.5-3 5-5 7-1.5 3 3.5 8 3 4 1 2-4 2-8 1.5-36 0 0-2 32 0 4-0.5 3-1 0.5-2-1.5-4-4-8 9.5-14 2.5-6 2-1.5 2 0 6 1.5 4 0 6-2 7.5-6 8.5-12 4-4 1-2 0-2-0.5-6-5.5-8 1-3.5 3-4.5 21-15 20-9 2.5-2-4.5-10-4-3.5-4-1.5-4-0.5-4 0.5-16 3.5-14-4.5-10-5-18-1-14 0.5-4 1-3.5 2.5-1.5 2-2 6-4.5 10 1 2 3.5 2 5 1.5 6 0.5 4.5 2 1.5 1.5 1 4.5-0.5 4-2 4-2.5 1.5-6 0.5-10-3.5-6-0.5-4 1-12 0 0-5.5 14-0.5 2-1.5 1-3.5 0-2-1-2-2-1.5-14 0 0-3 16 0.5 1.5-2 3.5-8 3-10 4-3.5 6-2 16-0.5 20 0.5 6 2 3.5 3.5 2.5 1 10 1.5 6-0.5 18-4.5 2-1.5 1.5-6 8.5-18 0.5-2 0-10zM12.5 56l-1 2-1 8 1.5 2 6 2 6 1.5 6-0.5 2-1.5 1-3.5-0.5-4-0.5-2-2.5-2-15.5-3zM92 103.5l4 1 3 1.5 2 2-5.5 6-3.5 2.5-2-0.5-2-2-2-6 0.5-2 1.5-1.5zM91 108l1 2.5 2-1.5 0.5-1-2.5-1zM138 141l4-1 100 0 0 1-100 0-2 0.5-2 0.5-4.5 4-3.5 1.5-6 2-4 1.5-4 3.5-3.5 5.5 0.5 62-1.5 0 0-52-0.5-10 3-5 4-4 4-2 10-3z"/><path fill="#00aeff" stroke="#00aeff" stroke-width="0.6" fill-rule="evenodd" d="M40 -8l5.5 0 0 8 0.5 2.5 0.5-10.5 4.5 0 0 10-2 4-3 3-2 0-1.5-1-2.5-4-0.5-4zM127.5 -8l0 14-0.5 2-3 3.5-1 2.5 0 4 1 1.5 2-1.5 1-2 2-6 1-1 3-5 0.5-2 0-10 4.5 0 0 10-8.5 20-1.5 2-2 1.5-4 1.5-2 0-2.5-1-1.5-2 0-2 3-8 4.5-10 0.5-2 0-10zM160 13l16 0.5 8 1.5 6 2 6 1 46 0 0 2-50 0-12-4-12-0.5-10 0-4 1-3 1.5-3.5 4-2.5 4-2 6-1.5 26 1.5 8-0.5 8 0.5 2 1 2.5 2 2.5 2 0.5 3-1.5 1.5-2 1.5-6 2-1 2 2 1 3-2 8-8.5 12-4.5 3-4 1.5-12-0.5-10 1-8 3-2 2-0.5 2 2.5 2 18 4.5 14-3.5 10-5 90 0 0 4-88 0-8 1-18 4.5-18-4-4-2-1-1.5 0.5-2 1.5-2 3-2.5 10-3.5 10-1 14-3 2-0.5 4-5 5-4.5 1-2.5 1.5-5.5-1.5-2.5-2 2.5-0.5 4-2 2-3.5 1-2-0.5-2.5-2.5-2-4-1-10-2-8 1.5-16 0-10 2.5-8 5.5-7 4-2zM40 28l16 0.5 4 0.5 10 5 14 4.5 16-3.5 4-0.5 4 0.5 4 1.5 4 3.5 4.5 10-2.5 2-20 9-21 15-3 4.5-1 3.5 5.5 8 0.5 6 0 2-1 2-4 4-8.5 12-7.5 6-6 2-4 0-6-1.5-2 0-2 1.5-2.5 6-9.5 14 4 8 1.5 4-0.5 2-3 1-4 0.5-32 0 0-17.5 24 0.5 8-2.5 6-6 2-4 0.5-4-2-8-1.5-2-2.5-2 0-2 5-6 4.5-1.5 4.5 1.5 1 2 0.5 6 5 6 3 2 2 0 2-0.5 5.5-3.5 4.5-4 5-6 6.5-10-0.5-8-4-6-0.5-2 0.5-2 4-8 11-8.5 6.5-5.5 1-2 0-2-2-6 0.5-1.5 2-0.5 5.5 4 4.5 1 4-1 4-2 1-2-1-6-2-2-6-2-6 0-14 4.5-6-3.5-12-4-8-4-16-1-12 0.5-4 1-3 2.5-4 8-3.5 6-0.5 2 2 2 3 1.5 10 2 5.5 2.5 1 2 0.5 6-1.5 4-3 4-8.5 2.5-10-4-4 1-2 2.5 1 10 0 4-1 3-2 1.5-14 0 0-23.5 12 0 4-1 6 0.5 10 3.5 6-0.5 2.5-1.5 1.5-2.5 1-3.5 0-4-1-2.5-1.5-1.5-4.5-2-6-0.5-5-1.5-3.5-2-1-2 4.5-10 2-6 1.5-2 5.5-3zM13 148l-2 2-1 2 0 2 2 3 2 1 4 1 4-0.5 2-1.5 1.5-3-0.5-2-1-2-2-1.5-4-1.5zM6 54.5l2 1.5 1 2 0 2-1 3.5-2 1.5-14 0.5 0-4 12 0 2-1 0.5-0.5 0-2-2.5-1-12 0 0-2.5zM92 107l2.5 1-0.5 1-2 1.5-1-2.5zM140 141.5l102-0.5 0 1-100 0-2 0-2 1-3.5 3-4.5 2.5-6 1.5-3.5 2-2.5 2-3 4-1.5 4 0.5 60-1 0-0.5-62 3.5-5.5 4-3.5 12-4 6-5z"/><path fill="#00dcff" stroke="#00dcff" stroke-width="0.6" fill-rule="evenodd" d="M46.5 -8l0 2-0.5 8.5-0.5-4.5 0-6zM128 -8l5.5 0 0 10-1.5 3.5-2 3.5-1 1-2 6-1 2-2 1.5-1-1.5 0-4 1-2.5 3-3.5 0.5-2zM158 15.5l10 0 10 0.5 6 1 6 2.5 4 0.5 48 0 0 2.5-50 0-2-0.5-6-3-4-1.5-12-1-10 1-4 1-2 1.5-2 2-2.5 4-2.5 8-1 24 0.5 8-0.5 10 2 3.5 2 1 2-1 2-3.5 2-7 2-0.5 3 3.5 1.5 4-2 8-4.5 8-2 8 3 2 3 0.5 84 0 0 3.5-90 0-10 5-14 3.5-18-4.5-2.5-2 0.5-2 2-2 8-3 10-1 12 0.5 4-1.5 4.5-3 7.5-10.5 2.5-7.5 0.5-2-0.5-2-2.5-3-2 1-1.5 6-1.5 2-3 1.5-3-1.5-2-4 0-10-1.5-8 1.5-24 1.5-6 3-6 2.5-3 4-2.5zM121 102l-9 3-1.5 1-1 2 4.5 2 14 4 2-0.5 10.5-3.5 3.5-2 0.5-2-0.5-1-1-1-3-1-10-2zM40 30l18 1 8 4 12 4 6 3.5 14-4.5 4 0 4 0.5 4 1.5 2 2 1 6-1 2-4 2-4 1-4.5-1-5.5-4-2 0.5-0.5 1.5 2 6 0 2-1 2-6.5 5.5-10 7.5-2.5 3-3 8 1.5 4 3 4 0.5 8-7.5 11.5-6 6.5-8 5.5-2 0.5-2 0-3-2-5-6-0.5-6-1-2-4.5-1.5-2 0.5-2.5 1-5 6 0 2 2.5 2 1.5 2 2 10-1.5 4-5 6-4 2.5-6 2-24-0.5 0-4.5 14 0 8 1 4 0 8-3.5 2-2 2-3 0.5-2-2-8-2.5-3-5.5-3 0.5-2 5-6 3.5-2 6.5-2 8 2.5 2 1.5 1 8 3 4 2 1 4-1.5 8-6.5 4-4.5 4.5-8.5 0-2-0.5-6-3-6 0.5-4 4.5-10.5 11.5-9.5 2.5-3 0.5-1-1.5-8-1-2-7.5-6-6.5-3.5-10-2-6-2.5-14-2-14 2.5-2 1.5-8 12-0.5 2 2.5 2 2 1 12 2.5 2 1 1.5 1.5 1 2 0 6-0.5 2-2 4-2 2.5-12 6-3-0.5-2-4-1-0.5-2-0.5-2 1 0.5 2 1 2 2.5 2 0 2-1 4-1 5-3.5 5-2.5 2-16 0.5 0-6 14 0 2.5-2.5 0.5-6-1-10 1.5-2 4.5-1.5 10 4 8-2 2.5-2.5 2.5-6-0.5-6-1-2-5.5-2.5-10-2-3-1.5-2-2 0.5-2 3.5-6 4-8 2-2 3-1zM97.5 42l2.5 1 1-1zM6 57.5l0.5 2.5-0.5 0.5-2 1-12 0 0-4.5zM8 127.5l2 2.5-0.5 2-1.5 2-2 0-14 0 0-6.5zM140 142l2 0 100 0 0 1-102 0-10 6.5-8 2.5-4.5 4-2.5 4 0 2 0 60-1 0 0-62 2.5-4 3.5-3.5 4-2.5 6-1.5 4.5-2.5zM14 147.5l4-0.5 2 0.5 4 2.5 1 2 0.5 2-1.5 3-2 1.5-4 0.5-4-1-2-1-2-3 0-2 1-2zM15 152l0 2 3 2 2-0.5 1.5-1.5 0-2-1.5-1-2-0.5zM242 167.5l0 54.5-112 0 0-50 0-2.5 1-1.5z"/><path fill="#0cfff3" stroke="#0cfff3" stroke-width="0.6" fill-rule="evenodd" d="M156 18l12-1.5 10 0.5 4 1 8 4 2 0.5 50 0 0 2-50 0-2 0-8-5-4-1-12-0.5-8 1-4 1.5-2 2-2 2.5-2.5 5-1 4-1.5 24 1 8-1.5 8 0.5 2 1 2 2 1 2-1.5 1-1.5 1-6.5 0.5-1.5 1.5-1 2-0.5 2 1.5 2 2.5 2 5.5-2.5 8-3.5 8 0 4 1 2 1 1 8 1 76 0 0 2.5-84 0-3-0.5-3-2 2-8 4.5-8 2-8-1.5-4-3-3.5-2 0.5-2 7-2 3.5-2 1-2-1-2-3.5 0.5-36 0.5-8 3.5-8 3.5-4zM44 32l12.5 2 5.5 2.5 10 2 6 3 8 6.5 1 2 1.5 8-2.5 3.5-12 10-1.5 2.5-3.5 10 1 4.5 2 3.5 0.5 6 0 2-5.5 10-5 5-6 4.5-4 1.5-2-1-3-4-1-8-2-1.5-8-2.5-6 2-4.5 2-4.5 6-0.5 2 6.5 4 2.5 4 1 6-0.5 2-2 3-2 2-6.5 3-3.5 0.5-8-1-16 0 0-5.5 16 0 1.5-2 0.5-2-2-2.5-2 0-14 0 0-12.5 16 0 6-1.5 4-2 4-4.5 2-1.5 12-3.5 8 2 3 2 1.5 2 1.5 6 1 2 1 1 2 0.5 10.5-7.5 1.5-2 4-8-0.5-6-2-8 0.5-4 4.5-12 5.5-6.5 4.5-3.5 1.5-2-1-8-7.5-8-5.5-2.5-14 0.5-14-1-14 1-6 6-1.5 2-0.5 2 4 2 6 1 6 2 3 3 1.5 8-0.5 2-4 6-3 2-4.5 2-2.5 2-2 2.5-6 4.5-1.5 3-2 8-2.5 3.5-4 1.5-16 0 0-2.5 16-0.5 2.5-2 3.5-5 1-5 1-4 0-2-2.5-2-1-2-0.5-2 2-1 2 0.5 1 0.5 2 4 3 0.5 12-6 3-4.5 1.5-4 0-6-1-2-1.5-1.5-2-1-12-2.5-2-1-2.5-2 0.5-2 8-12 2-1.5zM20.5 122l-2 2 0 8 1.5 2.5 4 0.5 2-1 2-2 0.5-2-1-4-0.5-2-1.5-2-1.5-1zM98 42l3 0-1 1-2-0.5zM122 102l8-1 10 2 3 1 1 1 0.5 1-0.5 2-3.5 2-10.5 3.5-2 0.5-14-4-4.5-2 1-2 1.5-1zM119.5 104l-5 2-1 2 14.5 5 4-1 9-4 0-2-1-0.5-2.5-1.5-5.5-1.5-6 0zM140 143l102 0 0 1-102 0-10 6-8 3.5-5 4.5-1 4 0 60-1 0 0-62 2.5-4 4.5-4 8-2.5zM18 150.5l2 0.5 1.5 1 0 2-1.5 1.5-2 0.5-3-2 0-2zM130 165.5l2-0.5 110 0.5 0 2-108 0-3 0.5-1 2 0 2 0 50-5.5 0 0-50 0.5-2 1.5-2z"/><path fill="#3affc5" stroke="#3affc5" stroke-width="0.6" fill-rule="evenodd" d="M156 19.5l12-1.5 10 0.5 4 1 8 5 2 0 50 0 0 2-50 0-3-0.5-7-4.5-4-1.5-10-0.5-12 2-2 1.5-2 2.5-2.5 4.5-1.5 4-0.5 6-1.5 18 1.5 10-2 6 0.5 2.5 2 1.5 2-2 0.5-8 2-2 1.5-0.5 2 0 4 3 2 3.5 1 4-0.5 2-5 14 0 2 1.5 2 3 2 6 0.5 74 0 0 1.5-76 0-6-0.5-3-1.5-1-2 0-4 3.5-8 2.5-8-2-5.5-2-2.5-2-1.5-2 0.5-1.5 1-0.5 1.5-1 6.5-1 1.5-2 1.5-2-1-1-2-0.5-2 1.5-8-1-8 1.5-24 1-4 3-6 2-2zM42 39l14 1 14-0.5 5.5 2.5 7.5 8 1 8-1.5 2-4.5 3.5-5.5 6.5-4.5 12-0.5 4 2 8 0.5 6-4 8-4 4-8 5.5-2-0.5-1-1-1-2-1.5-6-1.5-2-3-2-8-2-12 3.5-2 1.5-4 4.5-4 2-6 1.5-16 0 0-4 16 0 3.5-1 3.5-2-0.5-2-2.5-0.5-20 0 0-2.5 16 0 4-1.5 2.5-3.5 2-8 1.5-3 6-4.5 2-2.5 2.5-2 4.5-2 3-2 4-6 0.5-2-0.5-6-1-2-1.5-2-3.5-2-11-2-3-2 0.5-2 5.5-6.5 2-1.5zM54 45l-14-1.5-10 1-4 1-3 2.5-0.5 2 1.5 1 10 1.5 4 1.5 2 2 1 2 1.5 8-0.5 2-4.5 6-9.5 6-4 5-4 2.5-1.5 2.5-1 2 0.5 6.5 0.5 1.5 1.5 1.5 6 0.5 10-2 10 2.5 2.5 1.5 1.5 2 2 5.5 2 2.5 2-0.5 7-5.5 4-8-0.5-16 3.5-14 3-6 5-6 1.5-6 0-2-1-2-3-4-2.5-2-3-1-2 0zM120 104l6-1.5 6 0 5.5 1.5 2.5 1.5 1 0.5 0 2-9 4-4 1-14.5-5 1-2zM123.5 104l-4.5 2-1.5 2 8.5 4 4 0.5 8.5-4.5-1-2-5.5-2.5-4-0.5zM24 121l2 1.5 2 5.5 0.5 2-0.5 2-2 2-2 1-4-0.5-1.5-2.5 0-8 2-2zM22 130l2 2 2-1.5 0-2-2-2.5zM140 144l102 0 0 1-102-0.5-4 2-6 4.5-8 3.5-4 3.5-1 2 0 2 0 60-1 0 0-54 0-8 3-4 3-2.5 8-3.5zM130 164l2-0.5 110 0 0 2-110-0.5-2 0.5-3.5 2.5-1.5 2-0.5 2 0 50-3.5 0 0.5-52 1.5-2 3-1.5z"/><path fill="#68ff97" stroke="#68ff97" stroke-width="0.6" fill-rule="evenodd" d="M164 20l6-0.5 10 1 3.5 1.5 6.5 4.5 52 0 0 2-52-0.5-2-0.5-4.5-3.5-3.5-2-12-1.5-7.5 1.5-5 2-3.5 5-2 5-1.5 8 0 8-1 10 0.5 3.5 2 2 4-1.5 2 0 4 3 2 3 1.5 4 0 4-4.5 14 1 2.5 4 2.5 4 0.5 74 0 0 1-74 0-6-0.5-3-2-1.5-2 0-2 4.5-11.5 1-4.5-1-4-2-3.5-4-3-2 0-1.5 0.5-2 2-0.5 8-2 2-2-2 0-4 1.5-4-1.5-10 1-8 0-8 1.5-10 4.5-8 3-2.5zM147 74l0.5 2 0.5 0.5 1-2.5-1-3zM64 41.5l6-0.5 3 1 2.5 2 3 4 1 2 0 2-1.5 6-5 6-3 6-3.5 14 0.5 16-4 8-7 5.5-2 0.5-2-2.5-2-5.5-1.5-2-2.5-1.5-10-2.5-10 2-6-0.5-1.5-1.5-0.5-1.5-0.5-6.5 1-2 1.5-2.5 4-2.5 4-5 9.5-6 4.5-6 0.5-2-1.5-8-1-2-2-2-4-1.5-10-1.5-1.5-1 0.5-2 3-2.5 4-1 10-1 14 1.5zM63 44l-7 5-2 0.5-14-2.5-8 1-3 2 7 1 5 3 1 2 3 10-1 2-5 6-2.5 2-4.5 2-3 2-4.5 6-4.5 4-1 2 0.5 2 0.5 2 2 2 4 1.5 8-1.5 2 0.5 14 3 2 1 1 5.5 1 2 2 0 3-2 0.5-2 0.5-4 3.5-4 2-14 2-8 0-8 1-4 2-4 3.5-3.5 2-2.5 1-4-2-4-3-3-2-0.5-2-0.5zM124 104l4-1 4 0.5 5.5 2.5 1 2-7.5 4-3 0.5-2.5-0.5-8-4 1.5-2zM128 104l-5.5 2-1.5 2 5 3.5 2 0.5 2-0.5 5.5-3.5-1.5-2-4-2zM12 105.5l2.5 0.5 0.5 2-3.5 2-3.5 1-16 0 0-5.5zM24 126l2 2 0.5 2-2.5 2-2-2zM138 145.5l2-1 2 0 100 0.5 0 1-102-0.5-4 1.5-6 5-8 3.5-2 1.5-2 3 0 4 1 2 1 1 4-0.5 2-1 4-3.5 2-0.5 6 0.5 104 0 0 1.5-110 0-2 0.5-4 2.5-3 1.5-1.5 2-0.5 52-4 0 0-62 3-4 2-1.5 8-3.5z"/><path fill="#97ff68" stroke="#97ff68" stroke-width="0.6" fill-rule="evenodd" d="M162 21.5l6-1 12 1.5 3.5 2 4.5 3.5 2 0.5 52 0.5 0 1.5-52 0-2-0.5-4-3.5-4-2.5-12-1.5-8 2-3.5 2-4 6-1 4-1.5 6-0.5 8-1.5 8 0.5 2 1.5 3 6 0 4.5 3 1.5 1.5 1 2.5 1 4 0 4-4 14 1.5 2 2.5 1.5 4 1 74 0 0 1-74 0-4-0.5-4-2.5-1-2.5 4.5-14 0-4-1.5-4-2-3-4-3-2 0-4 1.5-2-2-1-5.5 1.5-8 0-10 2-8 3-6 2-2zM64 43.5l4-1.5 2 0.5 2 0.5 3 3 2 4-1 4-2 2.5-3.5 3.5-2 4-1 4 0 8-2 8-2 14-3.5 4-0.5 4-0.5 2-3 2-2 0-1-2-1-5.5-2-1-14-3-2-0.5-8 1.5-4-1.5-2-2-0.5-2-0.5-2 1-2 4.5-4 4.5-6 3-2 4.5-2 2.5-2 5-6 1-2-3-10-1-2-5-3-7-1 3-2 8-1 14 2.5 2-0.5zM66 44l-3 2-7 7-2 0.5-8-1-1.5 1.5-0.5 4 1.5 4 2.5 4-1 2-9 8-6 3-2 1.5-3.5 5.5-4.5 4-1.5 2 0.5 2 1.5 2 1.5 1 2 0.5 6-1.5 2 0 8 2.5 6 1 6-1 4-1.5 2-1.5 3-5.5 3-14 0-4-2.5-6 0.5-4 1-2 1.5-2 3.5-1.5 3-2.5 1.5-2 0.5-2-0.5-2-2.5-3.5-2-1zM148 71l1 3-1 2.5-0.5-0.5-0.5-2zM128 104l2 0 4 2 1.5 2-5.5 3.5-2 0.5-2-0.5-5-3.5 1.5-2zM125 106l-1.5 2 2 2 2.5 1 3-1 2-2-1.5-2-1.5-0.5-2-0.5zM140 145.5l102 0.5 0 1-96 0-6-0.5-5 1.5-7 8-4-0.5-2 1-2 1.5-1 2-0.5 2 1.5 3 2 0.5 2 0 2-1 3-4.5 1-2.5 4 2.5 4 0.5 104 0 0 1.5-104 0-6-0.5-2 0.5-4 3.5-2 1-4 0.5-1-1-1-2 0-4 2-3 2-1.5 8-3.5 6-5z"/><path fill="#c5ff3a" stroke="#c5ff3a" stroke-width="0.6" fill-rule="evenodd" d="M160 24l8-2 10 1 3 1 7 5.5 2 0.5 52 0 0 2-52 0-2-0.5-4-3.5-4-2.5-12-2-2 0.5-8 3.5-3.5 4.5-1.5 4-1 6-1 8-1.5 8 0.5 2.5 6 1.5 4 2.5 3 3.5 2 8-0.5 4-2 6-1 6 2 2 2.5 1 2 0.5 74 0 0 1-74 0-4-1-2.5-1.5-1.5-2 4-14 0-4-1-4-1-2.5-1.5-1.5-4.5-3-6 0-1.5-3-0.5-2 1.5-8 1-10 1.5-6.5 4-7zM70 43.5l2 1 2.5 3.5 0.5 2-0.5 2-1.5 2-3 2.5-3.5 1.5-1.5 2-1 2-0.5 4 2.5 6 0 4-3 14-3 5.5-2 1.5-4 1.5-6 1-6-1-8-2.5-2 0-6 1.5-2-0.5-1.5-1-1.5-2-0.5-2 1.5-2 4.5-4 3.5-5.5 2-1.5 6-3 9-8 1-2-2.5-4-1.5-4 0.5-4 1.5-1.5 8 1 2-0.5 7-7 3-2zM65.5 46l-3 4 0 2 1.5 2 2 0.5 2 0 4-2.5 1-2-0.5-2-2.5-2.5-2-0.5zM50 60l1.5 2 0.5 2-0.5 2-12 10-8 4-2 2-1.5 4-1.5 2-3 2-1.5 2 2 3 2 0.5 6-2 2 0.5 8 3.5 6 0.5 4-0.5 3.5-1.5 2.5-2 2-2 2.5-6 2-10 0-2-2-4-3-4-1-2 0.5-4-1-2-6 0.5zM130 105.5l1.5 0.5 1.5 2-3 2.5-2 0.5-2-0.5-2.5-2.5 1.5-2zM126 108l2 1.5 2.5-1.5-2.5-1zM136 147.5l4-1 6 0.5 96 0 0 1.5-96 0-6-1.5-2 0-2 1-2.5 2-2 4 2.5 3.5 4 1.5 104 0 0 1.5-104 0-4-0.5-4-2.5-1 2.5-3 4.5-2 1-2 0-2-0.5-1.5-3 0.5-2 1-2 2-1.5 2-1 4 0.5 5-6zM121.5 158l-1.5 2 0 2.5 2 2 2 0 3-2.5 0.5-2-1-2-2.5-1z"/><path fill="#f3ff0c" stroke="#f3ff0c" stroke-width="0.6" fill-rule="evenodd" d="M168 23.5l12 2 4 2.5 4 3.5 2 0.5 52 0 0 1.5-52 0-2 0-4-3.5-4-2-10-2-4 0.5-8 4-2 3-2 6.5-3 18 1 1 4 1.5 4 3 2 2 2 3.5 1.5 5 0 4-2.5 12 0 2 1 1 2 1 2 0.5 74 0 0 1-74 0-2-0.5-2.5-1-2-2 1-6 2-6 0.5-4-2-8-3-3.5-4-2.5-6-1.5-0.5-2.5 1.5-8 1-10 2.5-8 3.5-4.5 8-3.5zM66 46l2-1 2 0.5 2.5 2.5 0.5 2-1 2-4 2.5-2 0-2-0.5-1.5-2 0-2zM66 50l2 1 2-1 0-2-2-0.5zM52 58.5l6-0.5 1 2-0.5 4 1 2 3 4 2 4 0 2-2 10-2.5 6-2 2-2.5 2-3.5 1.5-4 0.5-6-0.5-8-3.5-2-0.5-6 2-2-0.5-2-3 1.5-2 3-2 1.5-2 1.5-4 2-2 8-4 12-10 0.5-2-0.5-2-1.5-2zM40 77l-8 3.5-2 3.5-0.5 4-1.5 2-2 0.5-2 1.5 2 1.5 3.5-1.5 0.5-1 2 0 8 5 4 1 4 0 3.5-1 4.5-2.5 3-3.5 2-4 2.5-10-1.5-4-4-4-2-1-2 0zM126 108l2-1 2.5 1-2.5 1.5zM136 148l4-1 6 1.5 96 0 0 1-94 0-4 0-4-1.5-2-0.5-2 1-2 1.5-1 2 0 2 1 1.5 2 1.5 2 0.5 104-0.5 0 2-104 0-4-1.5-2.5-3.5 2-4zM122 157.5l2-0.5 2 0.5 1.5 2.5-0.5 2-3 2.5-3-0.5-1.5-2 0.5-2zM121 160l0 2 1 1 2 0 1.5-1 0.5-2-2-2-2 1z"/><path fill="#ffdc00" stroke="#ffdc00" stroke-width="0.6" fill-rule="evenodd" d="M168 26l2 0 10 2 4 2 4 3.5 2 0 52 0 0 2-52 0-2-0.5-6-4-12-2-2 0-8 3-2 2-2 6-1.5 8-0.5 8 0.5 2 7.5 6 2 3.5 1 2.5 1 8-0.5 4-1 4-0.5 4 0.5 2 1.5 1 2 0.5 74 0 0 1-74 0-2-0.5-2-1-1-1 0-2 2.5-12 0-4-1.5-5-2-3.5-2-2-4-3-4-1.5-1-1 2.5-16 2.5-8.5 2-3zM68 47.5l2 0.5 0 2-2 1-2-1zM54 67l2 0 4 2.5 2 2.5 1.5 4-2.5 10-2 4-3 3.5-4.5 2.5-3.5 1-4 0-4-1-8-5-2 0-0.5 1-3.5 1.5-2-1.5 2-1.5 2-0.5 1.5-2 0.5-4 2-3.5 8-3.5zM51.5 70l-11.5 8-6 2.5-2 1.5-1 2 1 3 4.5 5 3.5 2.5 2 1 4 0.5 6-1.5 4-3 3.5-5.5 2-8 0-4-1.5-2.5-4-2.5-2 0zM138 147.5l8 2 96 0 0 1.5-96 0-2 0-6-2.5-3 1.5-1 2 0 2 2 1.5 2 0.5 8-0.5 96 0 0 1.5-104 0.5-2-0.5-2-1.5-1-1.5 0-2 1-2 2-1.5zM122 159l2-1 2 2-0.5 2-1.5 1-2 0-1-1 0-2z"/><path fill="#ffae00" stroke="#ffae00" stroke-width="0.6" fill-rule="evenodd" d="M166 29.5l4-0.5 10 1 4 2 4 3 2 0.5 52 0 0 1.5-52 0-2 0-2-1-4-3-10-1.5-4 0.5-6 3-2 1.5-2 3.5-2 8 0 6 0.5 4 6.5 6 2.5 6 1 4 0.5 6-1.5 8 0.5 3 1 1 75 0 0 1.5-74 0-2-0.5-1.5-1-0.5-2 0.5-4 1-4 0.5-4-1-8-1-2.5-2-3.5-7.5-6-0.5-2 0-6 1.5-8 2.5-8 2.5-2zM52 70l2-1 2 0 4 2.5 1.5 2.5 0 4-2 8-3.5 5.5-4 3-6 1.5-4-0.5-2-1-3.5-2.5-4.5-5-1-3 1-2 2-1.5 6-2.5zM38 80.5l-4 1.5-1 2 1 2 4 6 3.5 2 4.5 0.5 6-1.5 3.5-3 2.5-4 2-8 0-2-0.5-2-1.5-2-2-1.5-2 0zM138 148.5l6 2.5 2 0 96 0 0 4.5-96 0-8 0.5-2-0.5-2-1.5 0-2 1-2zM135.5 150l-0.5 2 1 2.5 2 0.5 3.5-1 0.5-2-2-2-2-1z"/><path fill="#ff8000" stroke="#ff8000" stroke-width="0.6" fill-rule="evenodd" d="M170 31.5l12 1.5 6 4 54 0 0 1.5-54 0-6-2.5-10-1.5-4 1-4 2-4 4-1 2.5-1.5 4 0 4 1 6 5.5 6.5 3 7.5 1 8-1 6 1 3.5 2 0.5 4-1.5 4-0.5 64 0 0 4-75 0-1-1-0.5-3 1.5-8-0.5-6-1-4-2.5-6-6.5-6-1-8 2.5-10 2-3.5 4-2.5zM52 71.5l2-1 2 0 2 1.5 1.5 2 0.5 2 0 2-2 8-2.5 4-3.5 3-6 1.5-4.5-0.5-3.5-2-4-6-1-2 1-2 4-1.5zM49 76l-7 3.5-2.5 2.5-1.5 2 0 2 1 4 1.5 2 3.5 1.5 4-0.5 4-2 3-3 2-4 1-8-1-2-1-1-2-0.5zM136 149.5l2-0.5 2 1 2 2-0.5 2-3.5 1-2-0.5-1-2.5zM137 150l-1.5 2 0.5 0.5 2 1 1.5-1.5-1-2z"/><path fill="#ff5100" stroke="#ff5100" stroke-width="0.6" fill-rule="evenodd" d="M168 35.5l4-1 8 1 2 0.5 4 2 4 0.5 52 0 0 2-52 0-8-1.5-12-0.5-4 1.5-4 3-2 3-1 4 1 8 4 5 1.5 3 4.5 13.5 2 1 4 0.5 66-0.5 0 7.5-64 0-4 0.5-4 1.5-2-0.5-1-3.5 1-6-1-8-3-7.5-5.5-6.5-1.5-8 1-4 2-4.5 4-4zM54 72.5l2 0.5 1 1 1 2-1 8-2 4-3 3-4 2-4 0.5-3.5-1.5-1.5-2-1-4 0-2 1.5-2 2.5-2.5 7-3.5zM44.5 80l-2.5 2-1 2-0.5 2 1 4 2.5 1.5 4-0.5 2.5-1 2-2 2-4-0.5-3.5-2-1.5-4 0zM138 150l1.5 2-1.5 1.5-2-1-0.5-0.5 0.5-1z"/><path fill="#ff2300" stroke="#ff2300" stroke-width="0.6" fill-rule="evenodd" d="M168 38.5l4 0 10 0.5 6 1.5 54 0 0 2-54 0-18-1-2 0.5-2 1-4 4-1.5 3 0 2 1 6 4 6 2.5 7 2 3.5 2 0.5 14-1 56 0 0 6.5-66 0.5-4-0.5-2-1-4.5-13.5-1.5-3-4-5-1-4 0-4 1-4 2-3zM46 79.5l6-0.5 2 1.5 0.5 3.5-2 4-2 2-2.5 1-4 0.5-2.5-1.5-1-2 0.5-4 1-2zM45.5 84l-0.5 2 1 1 2-0.5 1-0.5 0.5-2-1.5-0.5z"/><path fill="#f30000" stroke="#f30000" stroke-width="0.6" fill-rule="evenodd" d="M168 42l4-0.5 16 1 54 0 0 3-54 0-18-0.5-2 0.5-3.5 2.5-1.5 2-0.5 2 0.5 6 3 4 2 5.5 2 3.5 2 1 14-2.5 56 0 0 4.5-56 0-14 1-2-0.5-2-3.5-2.5-7-4-6-1-6 0-2 1.5-3zM46 83.5l3.5 0.5-0.5 2-1 0.5-2 0.5-1-1 0.5-2z"/><path fill="#c50000" stroke="#c50000" stroke-width="0.6" fill-rule="evenodd" d="M168 45.5l4-1 16 1 54 0 0 3.5-70-0.5-4 1.5-2 3.5 0 2.5 0 2 2.5 4 1.5 5 2 1 2 0 2-1.5 4-3 4-1.5 58 0 0 7.5-56 0-4 0-8 2-4-0.5-2-3.5-2-5.5-3-4-0.5-4 0.5-4 1.5-2z"/><path fill="#970000" stroke="#970000" stroke-width="0.6" fill-rule="evenodd" d="M170 49l4-0.5 14 0.5 54 0 0 13-58 0-4 1.5-4 3-2 1.5-2 0-2-1-1.5-5-2.5-4 0-2 0.5-4 1.5-2z"/></g></g>
<clipPath id="c1"><rect x="-1" y="-1" width="236.0" height="214.7"/></clipPath>
<g clip-path="url(#c1)"><use href="#st"/></g>
</g>
<rect x="616.4" y="96.6" width="233.8" height="212.7" fill="none" stroke="#000" stroke-width="0.9"/>
<rect x="862.2" y="93.6" width="23.3" height="218.2" fill="url(#jet)" stroke="#222" stroke-width="0.7"/>
<line x1="883.0" x2="885.5" y1="312.0" y2="312.0" stroke="#222" stroke-width="0.8"/>
<text x="894.1" y="319.5" font-size="20.5" font-weight="bold" fill="#262626">0</text>
<line x1="883.0" x2="885.5" y1="246.0" y2="246.0" stroke="#222" stroke-width="0.8"/>
<text x="894.1" y="253.5" font-size="20.5" font-weight="bold" fill="#262626">1</text>
<line x1="883.0" x2="885.5" y1="180.0" y2="180.0" stroke="#222" stroke-width="0.8"/>
<text x="894.1" y="187.5" font-size="20.5" font-weight="bold" fill="#262626">2</text>
<line x1="883.0" x2="885.5" y1="113.6" y2="113.6" stroke="#222" stroke-width="0.8"/>
<text x="894.1" y="121.1" font-size="20.5" font-weight="bold" fill="#262626">3</text>
<text x="728.3" y="341.8" font-size="23" font-weight="bold" text-anchor="middle" fill="#262626">SAT+RAP 700 hPa MR (g/kg)</text>
<text x="660.8" y="76.7" font-size="12.3" font-weight="bold" text-anchor="end" fill="#262626">100</text>
<circle cx="665.6" cy="64.1" r="1.25" fill="none" stroke="#262626" stroke-width="1"/>
<text x="673.0" y="76.7" font-size="12.3" font-weight="bold" fill="#262626">W</text>
<text x="721.5" y="76.7" font-size="12.3" font-weight="bold" text-anchor="end" fill="#262626">90</text>
<circle cx="726.3" cy="64.1" r="1.25" fill="none" stroke="#262626" stroke-width="1"/>
<text x="735.2" y="76.7" font-size="12.3" font-weight="bold" fill="#262626">W</text>
<text x="784.7" y="76.7" font-size="12.3" font-weight="bold" text-anchor="end" fill="#262626">80</text>
<circle cx="789.5" cy="64.1" r="1.25" fill="none" stroke="#262626" stroke-width="1"/>
<text x="798.4" y="76.7" font-size="12.3" font-weight="bold" fill="#262626">W</text>
<text x="847.9" y="76.7" font-size="12.3" font-weight="bold" text-anchor="end" fill="#262626">70</text>
<circle cx="852.7" cy="64.1" r="1.25" fill="none" stroke="#262626" stroke-width="1"/>
<text x="861.6" y="76.7" font-size="12.3" font-weight="bold" fill="#262626">W</text>
<text x="584.0" y="113.0" font-size="12.3" font-weight="bold" text-anchor="end" fill="#262626">48</text>
<circle cx="588.7" cy="99.4" r="1.2" fill="none" stroke="#262626" stroke-width="1"/>
<text x="597.0" y="113.0" font-size="12.3" font-weight="bold" fill="#262626">N</text>
<text x="584.0" y="131.6" font-size="12.3" font-weight="bold" text-anchor="end" fill="#262626">46</text>
<circle cx="588.7" cy="118.0" r="1.2" fill="none" stroke="#262626" stroke-width="1"/>
<text x="597.0" y="131.6" font-size="12.3" font-weight="bold" fill="#262626">N</text>
<text x="584.0" y="148.5" font-size="12.3" font-weight="bold" text-anchor="end" fill="#262626">44</text>
<circle cx="588.7" cy="134.9" r="1.2" fill="none" stroke="#262626" stroke-width="1"/>
<text x="597.0" y="148.5" font-size="12.3" font-weight="bold" fill="#262626">N</text>
<text x="584.0" y="166.8" font-size="12.3" font-weight="bold" text-anchor="end" fill="#262626">42</text>
<circle cx="588.7" cy="153.2" r="1.2" fill="none" stroke="#262626" stroke-width="1"/>
<text x="597.0" y="166.8" font-size="12.3" font-weight="bold" fill="#262626">N</text>
<text x="584.0" y="182.6" font-size="12.3" font-weight="bold" text-anchor="end" fill="#262626">40</text>
<circle cx="588.7" cy="169.0" r="1.2" fill="none" stroke="#262626" stroke-width="1"/>
<text x="597.0" y="182.6" font-size="12.3" font-weight="bold" fill="#262626">N</text>
<text x="584.0" y="197.6" font-size="12.3" font-weight="bold" text-anchor="end" fill="#262626">38</text>
<circle cx="588.7" cy="184.0" r="1.2" fill="none" stroke="#262626" stroke-width="1"/>
<text x="597.0" y="197.6" font-size="12.3" font-weight="bold" fill="#262626">N</text>
<text x="584.0" y="215.3" font-size="12.3" font-weight="bold" text-anchor="end" fill="#262626">36</text>
<circle cx="588.7" cy="201.7" r="1.2" fill="none" stroke="#262626" stroke-width="1"/>
<text x="597.0" y="215.3" font-size="12.3" font-weight="bold" fill="#262626">N</text>
<text x="584.0" y="228.9" font-size="12.3" font-weight="bold" text-anchor="end" fill="#262626">34</text>
<circle cx="588.7" cy="215.3" r="1.2" fill="none" stroke="#262626" stroke-width="1"/>
<text x="597.0" y="228.9" font-size="12.3" font-weight="bold" fill="#262626">N</text>
<text x="584.0" y="246.7" font-size="12.3" font-weight="bold" text-anchor="end" fill="#262626">32</text>
<circle cx="588.7" cy="233.1" r="1.2" fill="none" stroke="#262626" stroke-width="1"/>
<text x="597.0" y="246.7" font-size="12.3" font-weight="bold" fill="#262626">N</text>
<text x="584.0" y="260.3" font-size="12.3" font-weight="bold" text-anchor="end" fill="#262626">30</text>
<circle cx="588.7" cy="246.7" r="1.2" fill="none" stroke="#262626" stroke-width="1"/>
<text x="597.0" y="260.3" font-size="12.3" font-weight="bold" fill="#262626">N</text>
<text x="584.0" y="273.1" font-size="12.3" font-weight="bold" text-anchor="end" fill="#262626">28</text>
<circle cx="588.7" cy="259.5" r="1.2" fill="none" stroke="#262626" stroke-width="1"/>
<text x="597.0" y="273.1" font-size="12.3" font-weight="bold" fill="#262626">N</text>
<text x="584.0" y="287.6" font-size="12.3" font-weight="bold" text-anchor="end" fill="#262626">26</text>
<circle cx="588.7" cy="274.0" r="1.2" fill="none" stroke="#262626" stroke-width="1"/>
<text x="597.0" y="287.6" font-size="12.3" font-weight="bold" fill="#262626">N</text>
<text x="584.0" y="301.7" font-size="12.3" font-weight="bold" text-anchor="end" fill="#262626">24</text>
<circle cx="588.7" cy="288.1" r="1.2" fill="none" stroke="#262626" stroke-width="1"/>
<text x="597.0" y="301.7" font-size="12.3" font-weight="bold" fill="#262626">N</text>
<text x="584.0" y="315.4" font-size="12.3" font-weight="bold" text-anchor="end" fill="#262626">22</text>
<circle cx="588.7" cy="301.8" r="1.2" fill="none" stroke="#262626" stroke-width="1"/>
<text x="597.0" y="315.4" font-size="12.3" font-weight="bold" fill="#262626">N</text>
<g transform="translate(1037.5 95.5) scale(1.0051 1.0103)">
<clipPath id="s2"><path d="M7.5 -3.2L215.3 -3.2L175.3 80.4L159.3 119.4L150.3 147.4L143.3 173.4L139.5 179.5L134.3 181.0L124.3 177.5L67.0 166.0L2.0 157.5L-3.0 155.5L-3.6 150.0L-2.4 103.4L0.3 63.4L2.5 35.0Z"/></clipPath><g clip-path="url(#s2)"><g filter="url(#tx)"><path fill="#0000f3" stroke="#0000f3" stroke-width="0.6" fill-rule="evenodd" d="M14 -8l0 28 0 2-3.5 6-0.5 4-0.5 10 0.5 8 1 6 3 4 2.5 2 4 2 2 2-1.5 2-15 1.5-14 0.5 0-78zM118 -8l-0.5 12-3.5 8.5-1 1.5-1 0.5-2.5-0.5-1-2 0.5-10 0-10zM116 66.5l1.5 1.5 2.5 5 0.5 5-0.5 2-2 3-2 1.5-2 0.5-2-2.5-1.5-6.5zM162 92l80 0 0 9-82 0-4.5-1 0-2 2.5-4zM42 93.5l1 0.5 0.5 2-0.5 2-1 1-4 1.5-1.5 1.5-0.5 19.5-2 1-6 1-1.5-1.5-0.5-6 9-14 0.5-2-1-6z"/><path fill="#0023ff" stroke="#0023ff" stroke-width="0.6" fill-rule="evenodd" d="M57.5 -8l0 10-9.5 12-10 2.5-4 2.5-2 2.5-2.5 4.5-1.5 2-5.5 4-2 4-1 6 2.5 8 4 3 10 1.5 2 3.5-0.5 2-2 6-3.5 4.5-2 4.5-2 2.5-7.5 6.5-8.5 1.5-6 3-14 0.5 0-19 14-0.5 14-1.5 1 0 1.5-2-2-2-4-2-2.5-2-3-4-1-6-0.5-8 0.5-10 0.5-4 3.5-6 0-2 0-28zM109 -8l0 10-0.5 10 1 2 2.5 0.5 1-0.5 1-1.5 3.5-8.5 0.5-12 2 0 0.5 16 1.5 12 0 4.5-2 0.5-4-5.5-16-5.5-4-5.5-4.5-4.5-1-2-0.5-10zM118 59l2-0.5 1.5 1.5 1 8 0.5 16-1 5.5-2 2.5-2.5 0-5.5-2-2-3.5-2.5-10.5 0.5-2 3-6 5-7.5zM110.5 76l1.5 6.5 2 2.5 2-0.5 2-1.5 2-3 0.5-2-0.5-5-2-4.5-2-2zM144 83l2-0.5 4 3 6 2 12 2 74 0 0 2.5-80.5 0-3.5 2-2.5 4 0 2 4.5 1 82 0 0 32.5-100 0-2 0.5-3 2-4 2-7 2.5-3 3.5-7 2-4 0.5-2-0.5-0.5-2 1-4 1-2 7-4 5.5-4.5 6-2 5-3.5 7-2.5 2.5-1.5 1.5-2 1-2 1.5-8-2-2-4.5-4-4-2-0.5-2 4.5-6 1-8zM26 87.5l6 3 4 1 6-0.5 2 1 1 2 0.5 4-1 2-4.5 3.5-1 2.5-0.5 4 0 12-1 2-1.5 1.5-6 2.5-4 3.5-6 0.5-2 1-2.5 5-5.5 1.5-6 3-12 0.5 0-30 16 0 8 1 2 0 2-1 2.5-3 6.5-10-0.5-2-3.5-6-0.5-2zM34.5 94l1 6-0.5 2-9 14 0.5 6 1.5 1.5 6-1 2-1 0.5-19.5 1.5-1.5 4-1.5 1-1 0.5-2-0.5-2-1-0.5zM16 120.5l-1 1.5 0 2 1 2 2 0.5 1.5-2.5-0.5-2-1-2zM80 157.5l18 0 2 0.5 2 2 0.5 4 0 58-23 0 0-52 0-2-2.5-6 0-2z"/><path fill="#0051ff" stroke="#0051ff" stroke-width="0.6" fill-rule="evenodd" d="M90 -8l0.5 10 1 2 4.5 4.5 4 5.5 16 5.5 4 5.5 2-0.5 0.5-2.5-2-10-0.5-8 0-12 2 0 0 12 3 10 0.5 10 2 8-0.5 2-1 2-2-2.5-4.5-3.5-5.5-7-4-2.5-2-1-10-2-10.5-3.5-5.5-4-2-1-12 0-4 0.5-8 8-6 1.5-8 1-3.5 2-1.5 2-1 6.5-4 9.5 0 2 2.5 2 7.5 4 1.5 2-2 4-0.5 6-2 6-5 5-2 3-2.5 6-0.5 4 0.5 2 2.5 3 4 1 8 0.5 2 3.5 0 6-4 4-1.5 2-0.5 2 0.5 14-0.5 2-2 2.5-8.5 5.5-3.5 2-4 1-5.5 5-6 2-6 4-12.5 0.5 0-3.5 12-0.5 6-3 5.5-1.5 2.5-5 2-1 6-0.5 4-3.5 6-2.5 2-2 0.5-1.5 0-12 0.5-4 1-2.5 4.5-3.5 1-2-0.5-4-1-2-2-1-6 0.5-4-1-6-3-1.5 2.5 0.5 2 3.5 6 0.5 2-6.5 10-2.5 3-2 1-2 0-8-1-16 0 0-3.5 24 0 2-0.5 4-4 3-5-0.5-2-4.5-8-3-2-3 0-3.5 2-4.5 4-2 0-12 0 0-5 14-0.5 6-3 8.5-1.5 7.5-6.5 2-2.5 1-3 4.5-6 2-6 0.5-2-2-3.5-10-1.5-4-3-2.5-8 0.5-4 2.5-6 5.5-4 6-9 4-2.5 10-2.5 9.5-12 0-10zM242 -8l0 10.5-44-0.5-0.5-2 0-8zM120 55.5l4 1 1 3.5 0.5 6-1 8 0 4 1.5 16 2 2 6.5-6 1.5-4 2-10 2-0.5 4.5 0.5 9.5 7 6 2 8 2 74 0 0 2.5-74 0-12-2-6-2-4-3-2 0.5-1 1-1 8-4.5 6 0.5 2 4 2 4.5 4 2 2-1.5 8-1 2-1.5 2-2.5 1.5-7 2.5-5 3.5-6 2-5.5 4.5-7 4-1 2-1 4 0.5 2 2 0.5 4-0.5 7-2 3-3.5 7-2.5 4-2 3-2 2-0.5 100 0 0 4.5-104 0-4 1-2 1.5-3.5 3.5-8.5 3-6 3.5-4 3.5-1 2-1 6-2 6 0 54-3.5 0 0-60-0.5-2-2-2-2-0.5-4 0-14 0-3 2.5 0.5 4 2 4 0 2 0 52-87.5 0 0-62.5 22 0 6-0.5 2-1 2-2 2-3.5 7-6.5 12-8 9-3 6-4 6-1.5 4 0 4.5 2.5 3.5 3.5 2.5 4.5 1.5 2 2 1 4 0.5 6-1.5 4-1.5 5-4.5 6.5-4 6.5-3 5-5 15-4 3.5-2 1.5-2 0.5-2-0.5-6-3-3.5-4-2-7.5-2.5-2.5-2.5-4-1-10-3.5-1.5-1-1-2-0.5-6-2-8 1-4 2-4.5 5.5-7.5 2.5-2.5zM116.5 60l-6.5 9.5-2 4.5-0.5 2 2.5 10.5 2 3.5 5.5 2 2.5 0 2-2.5 1-5.5-0.5-18-1-6-1.5-1.5-2 0.5zM18 120l1 2 0.5 2-1.5 2.5-2-0.5-1-2 0-2 1-1.5zM136 158l2 1.5 4 0.5 100 0 0 62-112 0 0-58 0.5-2z"/><path fill="#0080ff" stroke="#0080ff" stroke-width="0.6" fill-rule="evenodd" d="M122 -8l2 0 0 12 3 10 3 18-1.5 10-1 24-2 10 1.5 8 1.5 4 1.5 1 2-1.5 1-1.5 1-2 1-8 1-2 2-1 10 3 6 4.5 4 2 10 2.5 74 0 0 2-74 0-8-2-6-2-9.5-7-4.5-0.5-2 0.5-2 10-1.5 4-6.5 6-2-2-1.5-16 0-4 1-8-0.5-8-1-1.5-1.5-0.5-2.5-0.5-2 1-4 3-5 6.5-2.5 4-1 4-0.5 2 2 8 0.5 6 1 2 1.5 1 10 3.5 4 1 2.5 2.5 9.5 3.5 4 2.5 1 2 0.5 6-0.5 2-1.5 2-5.5 2.5-13 3.5-5 5-6.5 3-6.5 4-5 4.5-4 1.5-6 1.5-4-0.5-2-1-1.5-2-2.5-4.5-3.5-3.5-4.5-2.5-4 0-6 1.5-6 4-9 3-12 8-7 6.5-2 3.5-2 2-2 1-6 0.5-22 0 0-1.5 16 0 10-1 2-1 2-2 2-4.5 4-5 6-3 4-4 2-1.5 10-3.5 6-3 4-2 10-2 6 2.5 4 3 4 7 2 1.5 2 0 3.5-1.5 12.5-8 10-3 6-4.5 14-5 3-1.5 0.5-2 0-2-0.5-4-1-1-2-1.5-12-4-8-4.5-7-3-3-2-0.5-2 1-6-2-8 1.5-8 2.5-4 5.5-6 10.5-6 1.5-2 0.5-6 0-2-1-4-1.5-2-4.5-4-5.5-7-4-3-12-1-16-4-8 1-5 2-2 2-1 2 0 8 4.5 8-0.5 2-6.5 4-11.5 5.5-3.5 2.5-2.5 4-2 8-6.5 6-3 4-1.5 4-0.5 4 0.5 2 2 2 3 1.5 2 0 6 0 2 2.5 1 6 0 2-3.5 4-2.5 4 0 4 2 10-0.5 2-1.5 2-7 6.5-10 4.5-6.5 5-5.5 1.5-6 4-2 0-12 0.5 0-1.5 12-0.5 2-0.5 4.5-3.5 6-2 5.5-5 4-1 3.5-2 8.5-5.5 2-2.5 0.5-2-0.5-14 0.5-2 1.5-2 4-4 0-6-2-3.5-8-0.5-4-1-2.5-3-0.5-2 0.5-4 2.5-6 2-3 5-5 2-6 0.5-6 2-4-1.5-2-7.5-4-2.5-2 0-2 4-9.5 1-6.5 1.5-2 3.5-2 8-1 6-1.5 8-8 4-0.5 12 0 2 1 5.5 4 10.5 3.5 10 2 4 2 2 1.5 6 7.5 4 3 2 2.5 1.5-4-2-8-0.5-10-3-10zM196 -8l1.5 0 0 8 0.5 2 44 0.5 0 1.5-44-0.5-2-1.5 0-0.5zM16 87.5l2 1 2 1.5 4.5 8 0.5 2-2 4-3 3.5-2 1.5-2 0.5-24 0 0-5.5 16 0 8 1.5 2-0.5 3-3 1-2-0.5-2-2.5-4-3-3-2 0.5-4.5 4.5-3.5 1.5-14 0 0-3.5 14 0 6-5zM134 139l4-1 4 0 100 0 0 0.5-102 0-6 2-2 1.5-2 2.5-2 1-8 2.5-4 4-4 2.5-1 1.5-1.5 4-1 8 0.5 8 0 46-3 0 0-54 2-6 1-6 1-2 4-3.5 6-3.5 8.5-3 3.5-3.5zM136 156l4 2 2 0.5 100 0 0 1.5-100 0-4-0.5-2-1.5-5.5 4-0.5 2 0 58-1.5 0 0-58 1.5-3 4-4z"/><path fill="#00aeff" stroke="#00aeff" stroke-width="0.6" fill-rule="evenodd" d="M124 -8l1.5 0 0 10 3.5 12 2.5 18-1 10-1.5 24-2 10 1 4 2 5 2-3 1.5-8 2.5-3 2-1 4 2.5 9 3.5 5 4 2 1 8 2.5 76 0 0 1.5-74 0-10-2.5-4-2-6-4.5-10-3-2 1-1 2-1 8-1 2-1 1.5-2 1.5-1.5-1-1.5-4-1.5-8 2-10 1-24 1.5-10-3-18-3-10zM196 2l2 1.5 44 0.5 0 1-44-0.5-2-1-1-1.5 0-10 1 0zM74 18l8-0.5 14 3.5 12 1 4 3 5.5 7 4.5 4 1.5 2 1 4 0 2-0.5 6-1.5 2-10.5 6-5.5 6-2.5 4-1.5 8 2 8-1 6 0.5 2 3 2 7 3 8 4.5 12 4 2 1.5 1 1 0.5 4 0 2-0.5 2-3 1.5-14 5-6 4.5-10 3-12.5 8-3.5 1.5-2 0-2-1.5-4-7-4-3-6-2.5-10 2-4 2-6 3-10 3.5-2 1.5-4 4-6 3-4 5-2 4.5-2 2-2 1-10 1-16 0 0-1 18-0.5 6-0.5 2-1 2.5-3 2-6-0.5-2-2-0.5-6 1.5-5.5 3-4.5 1-12 0 0-1 12-0.5 2 0 6-4 5.5-1.5 6.5-5 10-4.5 7-6.5 1.5-2 0.5-2-2-10 0-4 2.5-4 3.5-4 0-2-1-6-2-2.5-6 0-2 0-3-1.5-2-2-0.5-2 0.5-4 1.5-4 3-4 6.5-6 2-8 2.5-4 3.5-2.5 11.5-5.5 6.5-4 0.5-2-4.5-8 0-8 1-2 2-2 3-1.5zM80 24l1.5 2 2.5 1.5 1 2.5 0 10-1 4.5-2 2-2 0.5-12 1.5-18 7-2.5 2.5-3.5 9-8 6-2 3-2 4-1 4 1 2 4 2.5 2 0.5 6-0.5 2 1 1.5 6.5 0.5 4-5 6-1 4 0.5 4 3.5 10 0 2-2 2-3.5 2 0.5 2 1.5 0 5.5-3.5 22-6 10 4 4 3.5 2 3.5 2 1 10-7 4-1 10-1.5 2-1 10-4.5 6-3.5 2-2-0.5-4-1-2-10.5-4.5-8-5-8-3.5-4.5-3-0.5-2 0.5-6-0.5-8 3-13 2-3 14.5-8 2.5-2 1-6 0-4-2-2.5-4-3.5-6-7.5-2-1.5-16 0-8-2zM28.5 138l1.5 1.5 2-0.5 1-1-1-1zM14 91.5l2-0.5 1.5 1 4 6 0.5 2-1 2-3 3-2 0.5-8-1.5-16 0 0-6.5 14 0 2-0.5zM14 98l-1 2 3 1.5 2-0.5 1-1-1-2.5-2-1zM136 139.5l6-1 100 0 0 1-102 0-6 2-4.5 4.5-5.5 1.5-4 1.5-2.5 3-5.5 4.5-1.5 3.5-1 6 1 10 0 46-1.5 0 0-46-0.5-8 1.5-10 2-3.5 4-2.5 4-4 8-2.5 2-1 2-2.5zM134 156l2-0.5 4 1.5 4 0.5 98 0 0 1-98 0-4-0.5-4-2-6 5-1.5 3 0 58-1 0 0-56 0.5-4z"/><path fill="#00dcff" stroke="#00dcff" stroke-width="0.6" fill-rule="evenodd" d="M127.5 -8l0 10 3.5 12 2 18-1 12-1 16 0 8 0 2 1 1.5 1-1.5 2.5-2 2.5 0 4 3.5 11 4.5 5 4 8 2.5 14-0.5 62 0 0 1.5-76 0-8-2.5-2-1-5-4-9-3.5-4-2.5-2 1-2.5 3-1.5 8-2 3-2-5-1-4 2-10 1.5-24 1-10-2.5-18-3.5-12 0-10zM130 77.5l0.5-3.5-0.5-1zM195 2l1 1.5 2 1 44 0.5 0 0.5-44 0-2.5-1.5-1.5-2 0-10 1 0zM80 24l4-1 8 2 16 0 2 1.5 6 7.5 4 3.5 2 2.5 0 4-1 6-2.5 2-14.5 8-2 3-3 13 0.5 8-0.5 6 0.5 2 4.5 3 8 3.5 8 5 10.5 4.5 1 2 0.5 4-2 2-6 3.5-10 4.5-2 1-10 1.5-4 1-10 7-2-1-2-3.5-4-3.5-10-4-22 6-5.5 3.5-1.5 0-0.5-2 3.5-2 2-2 0-2-3.5-10-0.5-4 1-4 5-6-0.5-4-1.5-6.5-2-1-6 0.5-2-0.5-4-2.5-1-2 1-4 2-4 2-3 8-6 3.5-9 2.5-2.5 18-7 12-1.5 2-0.5 2-2 1-4.5 0-10-1-2.5-2.5-1.5zM94 30l-2.5 2-0.5 2-1 8 1.5 4 2.5 4 0.5 4 1.5 2 2 0 8-0.5 10-4 2-1.5 2-6 0-2.5-1-1.5-5-4-4-5.5-2-2-10 0.5zM57.5 56l-5.5 2.5-2 1.5-4 8-2 1.5-4 2-4 3.5-2.5 3-1.5 4 0 2 1.5 2 2.5 2 2 0.5 6-1 2 0.5 2 6.5 0.5 5.5-4.5 6-1 2 0 2 1 4 2 5 4 4.5 2 1 2-0.5 8-2 8-2.5 2 0 6 1.5 10 5 5.5-4 2.5-0.5 14 1 4-0.5 8-3 4-3 0.5-2 0-2-1-2-1.5-1.5-9.5-4.5-6-4-6.5-3-8-5-0.5-2 0-8 3.5-16-1-4.5-2-3.5-4-2-4-0.5-12 4.5-5.5-4-2.5-1-4-0.5zM14 98l2-1.5 2 1 1 2.5-1 1-2 0.5-2-0.5-1-1zM32 137l1 1-1 1-2 0.5-1.5-1.5zM138 140l4-0.5 100 0 0 0.5-102 0-4 1-1.5 1-4.5 4.5-8 2.5-10 9-1 2-0.5 4 0 4 1 6 0 4 0 44-1 0 0-46-1-10 1.5-8 1.5-2 5-4 2.5-3 4-1.5 5.5-1.5 4.5-4.5zM20 143.5l2 0.5 0.5 2-3.5 8-3 2-8 1-16 0 0-1.5 16 0 8-1.5 1.5-2-0.5-2-1-1-2-0.5-8 2-4 0-10 0 0-1.5 14 0 6-3zM134 155.5l2-0.5 8 1.5 98 0 0 1-98 0-4-0.5-4-1.5-2 0.5-6 6-0.5 4 0 56-1 0-0.5-54 1-4 1-3z"/><path fill="#0cfff3" stroke="#0cfff3" stroke-width="0.6" fill-rule="evenodd" d="M129.5 -8l0 10 3 12 0.5 10 1 8-1 18 0 10 1 3.5 4 2 4 4.5 4 2.5 8 3 6.5 4.5 5.5 1.5 12-0.5 64-0.5 0 1.5-62 0-14 0.5-8-2.5-5-4-11-4.5-4-3.5-2.5 0-2.5 2-1 1.5-1-1.5 0-2 0-8 1-16 1-12-2-18-3.5-12 0-10zM194 -8l0 10 1.5 2 2.5 1.5 44 0 0 1-44 0-2-1-2-1.5-0.5-2-0.5-10zM94 30l4-1 10-0.5 2 2 4 5.5 5 4 1 1.5 0 2.5-2 6-2 1.5-10 4-8 0.5-2 0-1.5-2-0.5-4-2.5-4-1.5-4 1-8 0.5-2zM99.5 34l-3.5 3-0.5 3 0 2 4.5 8 3 2 3 0.5 7-2.5 1.5-2 1.5-4 0-2-4.5-4-3.5-5.5-2-0.5zM58 55.5l4-1 4 0.5 2.5 1 5.5 4 12-4.5 4 0.5 4 2 2 3.5 1 4.5-3.5 16 0 8 0.5 2 8 5 6.5 3 6 4 9.5 4.5 1.5 1.5 1 2 0 2-0.5 2-4 3-8 3-4 0.5-14-1-2.5 0.5-5.5 4-10-5-6-1.5-2 0-8 2.5-8 2-2 0.5-2-1-4-4.5-2-5-1-4 0-2 1-2 4.5-6-0.5-5.5-2-6.5-2-0.5-6 1-2-0.5-2.5-2-1.5-2 0-2 1.5-4 2.5-3 4-3.5 4-2 2-1.5 4-8 2-1.5zM52 62.5l-3.5 5.5-1.5 2-7 3-2 1.5-3.5 3.5-1.5 4 0 2 1.5 2 1.5 1 2 0.5 2 0 6-1.5 1.5 2 2 12-1 2-3.5 4-1 4 1 4 1 2 4 4.5 2 1 8-1 16-6.5 2-1.5 10 1.5 8-1 2.5 3 3.5 2 10 2 6-0.5 2-0.5 4.5-3 0-2-0.5-1.5-2-2.5-4-1.5-8-1.5-6-2-2-2-1-3-2.5-2-4.5-3-7.5-3 3-6 4-18 0-2-1-2-2.5-2-2-1-4-0.5-4 1.5-6 3.5-10-6.5-2-0.5-2 0zM130 73l0.5 1-0.5 3.5-0.5-1.5zM136 141l6-1 100 0 0 0.5-102 0-4.5 1.5-5.5 5-8 2.5-4 4.5-5 4-1 2-1 4 0 4 1 4 0.5 4 0 46-1 0 0-46-1.5-10 1-6 2.5-4 4.5-3 2.5-3 3.5-2 6-1.5 4-4zM14 148.5l2 0.5 1 1 0.5 2-1.5 2-6 1-18 0.5 0-5 12 0zM7 152l1 0.5 1.5-0.5zM134 155l2-0.5 6 0.5 100 0 0 1.5-98 0-8-1.5-2 0.5-6 5.5-1.5 5 0 56-1 0 0-54 0.5-4 2-3.5z"/><path fill="#3affc5" stroke="#3affc5" stroke-width="0.6" fill-rule="evenodd" d="M132 -8l0 10 2 12 0 10 1.5 12-1 22 1.5 3 2 2 3 5 2.5 2 4.5 2.5 6 2.5 8 5 4 1 6-1 14-0.5 56 0 0 1-64 0.5-12 0.5-5.5-1.5-6.5-4.5-8-3-4-2.5-4-4.5-4-2-1-3.5 0-10 1-18-1-8-0.5-10-3-12 0-10zM183.5 -8l0 8-0.5 2-1 1-1-1-0.5-2 0-8zM193.5 2l0.5 2 2 1.5 2 1 44 0 0 1-44-0.5-2-0.5-2-1.5-1.5-3 0-10 0.5 0zM100 34l6-2 2 0.5 3.5 5.5 4.5 4 0 2-1.5 4-1.5 2-7 2.5-3-0.5-3-2-4.5-8 0-2 0.5-3 2-2zM62 58.5l2 0.5 10 6.5 6-3.5 4-1.5 4 0.5 2 1 2.5 2 1 2 0 2-4 18-3 6 7.5 3 4.5 3 2.5 2 1 3 2 2 6 2 8 1.5 4 1.5 2 2.5 0.5 1.5 0 2-4.5 3-2 0.5-6 0.5-10-2-3.5-2-2.5-3-8 1-10-1.5-2 1.5-16 6.5-8 1-2-1-4-4.5-1-2-1-4 1-4 3.5-4 1-2-2-12-1.5-2-6 1.5-2 0-2-0.5-1.5-1-1.5-2 0-2 1.5-4 3.5-3.5 2-1.5 7-3 1.5-2 3.5-5.5 2-1.5zM55 64l-2.5 2-2.5 4-2 2-8 2.5-2 1-2.5 2.5-1.5 4 0 2 1.5 2 2.5 1 5-1 3-2 2-2.5 1 0.5 1 2-1.5 6 1.5 10-0.5 2-4 4-0.5 2-0.5 2 1.5 4 2 3 4 2.5 6-1 6-2.5 2-2 2-6 4-2 6-1.5 10 2 4-1 2-1.5 1.5-2 0.5-2-2-2-2-1-10-2-2-1-1.5-2 1-2 4.5-2.5 2-1.5 1.5-2 3-12 0.5-4-1-2.5-2-2-2-0.5-2 0-4 1.5-8 6-2-1.5-2-3-4-3-4 0zM107 114l0.5 2 6.5 2 4 0.5 2-0.5 2.5-2 0-2-2.5-3-2-0.5-2 0zM136 141.5l4-1 102 0 0 0.5-102 0-4 1.5-6 5-7.5 2.5-4.5 4.5-4 3.5-1.5 2-1.5 6 1.5 6 0.5 4 0 46-0.5 0 0-48-2-8 1.5-6 2-3 4-3 3.5-4 2.5-1.5 6-1.5zM9.5 152l-1.5 0.5-1-0.5zM136 154l6 0 100 0 0 1-100 0-6-0.5-2 0.5-6 5.5-2 3.5-0.5 4 0 54-1 0 0-54 1-4 2-4 6.5-5.5z"/><path fill="#68ff97" stroke="#68ff97" stroke-width="0.6" fill-rule="evenodd" d="M134.5 -8l0.5 32 2 18-0.5 16 4.5 8 3 3.5 4 2.5 6 2 8 5 4 1 6-1.5 12 0 58-0.5 0 1.5-62 0-10 0.5-4 1-4-1-8-5-6-2.5-4.5-2.5-2.5-2-3-5-2-2-1.5-3 1-24-1.5-10 0-11-2-13 0-8zM180.5 -8l0 8 0.5 2 1 1 1-1 0.5-2 0-8 2 0-0.5 10-1 1.5-2 1-2-1-1-1.5 0-10zM192 -8l0.5 10 1.5 3 2 1.5 2 0.5 44 0.5 0 0.5-42 0-4-0.5-2-1.5-1.5-2-1-2 0-10zM62 62.5l2 0.5 4 3 2 3 2 1.5 10-7 4-0.5 2.5 1 2 2 0.5 2-1.5 8-1.5 6-2 4-2 1.5-4 2-1.5 2.5 1.5 2 2 1 10 2 2 1 2 2-0.5 2-1.5 2-2 1.5-4 1-10-2-6 1.5-4 2-2 6-2 2-4 2-8 1.5-2-1-2.5-2.5-1.5-2-1.5-4 0.5-2 0.5-2 4-4 0.5-2-1.5-10 1.5-6-1-2-1-0.5-2 2.5-3 2-5 1-2.5-1-1.5-2 0-2 1.5-4 2.5-2.5 2-1 8-2.5 2-2 2.5-4 1.5-2zM81.5 66l-5.5 4-2.5 4-0.5 2 0 6-0.5 2 9.5 0.5 2-0.5 2-2.5 2.5-7.5 0-6-1-2-1.5-1-2 0zM54 68l-4.5 8 3.5 6 0 2-3 3.5-0.5 2.5 0 4 1.5 6-0.5 2-4.5 5-0.5 3 0.5 2 2 3 4 3 2-0.5 4.5-1.5 2-2 0.5-6 1.5-2 3.5-3.5 6-2.5 1-2-1-14-2-0.5-1-1.5-1-8-2-4.5-2-2-2-0.5-6 0zM40 76l-4 3-1 3 0 2 1 1 2 1 4-0.5 2-1.5 1-2 0.5-4-0.5-2-3-0.5zM116 110.5l2 0 2 0.5 2.5 3 0 2-2.5 2-2 0.5-4-0.5-6.5-2-0.5-2zM114.5 114l0 2 1.5 0.5 2 0.5 3-1 0-2-1-1-2-0.5zM138 141.5l4-0.5 100 0 0 0.5-102 0-4 1.5-4 4-2 1-6.5 2-9.5 9-1.5 3-1 4 1.5 6 0.5 4 0 46-0.5 0 0-48-2-8 1.5-6 1.5-2 4-3.5 4-4 2-1.5 6-1.5 6-5zM136 153.5l106-0.5 0 1-100 0-6 0-2 0.5-6.5 5.5-2 4-1 4 0 54-1 0 0-54 3.5-8 5-4.5 2-1.5z"/><path fill="#97ff68" stroke="#97ff68" stroke-width="0.6" fill-rule="evenodd" d="M137.5 -8l0 10-1 20 2 20 0 16 3 8 2.5 2.5 4 2.5 7.5 3 6.5 4 4 1.5 4-1.5 12-1 60 0 0 1-62 0.5-10 0.5-4 1-4-1-8-5-6-2-4-2.5-3-3.5-4.5-8 0.5-16-2-18 0.5-10-1-14 0-8zM178 -8l1 0 0 10 1 1.5 2 1 2-1 1-1.5 0.5-10 2 0 0 10-2 2-1.5 1-2 1-2-1-2-3zM191.5 2l1 2 1.5 2 4 2 44 0 0 1-42 0-4-0.5-3-2.5-2-2-0.5-2 0-10 1 0zM84 65l2 0 1.5 1 1 2 0 6-2.5 7.5-2 2.5-2 0.5-9.5-0.5 0.5-2 0-6 1.5-4 3.5-4zM81 68l-3 2-1.5 2-1 4 0.5 2 1.5 2 2.5 1 2 0 2-0.5 2-2.5 1-4 0-4-1-2-2-1zM54 68l2-1 6 0 2 0.5 2 2 2 4.5 1 8 1 1.5 2 0.5 1 14-1 2-6 2.5-3.5 3.5-1.5 2-0.5 6-2 2-4.5 1.5-2 0.5-4-3-2-3-0.5-2 0.5-3 4.5-5 0.5-2-1.5-6 0-4 0.5-2.5 3-3.5 0-2-3.5-6zM59 70l-3 1-2.5 3-0.5 2 0.5 2 2.5 4.5 2 1.5-4 1-3 3-1 4 2 8-0.5 2-4 4-1 2 0 2 1.5 3.5 4 2.5 2-0.5 2.5-1.5 0.5-2 1.5-6 4.5-6 2-6 0.5-2-2.5-4-3-3.5-2-0.5 4-1 2-1.5 1-1.5 1-4-2-4.5-2-1zM40 76l2-0.5 3 0.5 0.5 2-0.5 4-1 2-2 1.5-4 0.5-2-1-1-1 0-2 1-3zM39.5 78l-3 2-0.5 2 0 2 2 1 2 0 2-0.5 1.5-2.5-0.5-2-1-2zM118 112.5l2 0.5 1 1 0 2-3 1-3.5-1 0-2zM140 141.5l102 0 0 0.5-102 0-4 1.5-4.5 4.5-7.5 2.5-10 9.5-2 6 1.5 6 0.5 4 0 46-0.5 0 0-48-2-8 1-4 1.5-3 8-8 2-1 6.5-2 5.5-5zM134 153.5l2-0.5 12-1 94 0 0 1-94 0-12 0.5-2 0.5-7 6-3.5 8 0 54-1 0 0-52 1.5-4 2.5-6z"/><path fill="#c5ff3a" stroke="#c5ff3a" stroke-width="0.6" fill-rule="evenodd" d="M138 -8l5 0 0 8-0.5 2-2.5 4-1.5 4-1.5 14 1 8 2 10-0.5 16 2 6 3 4 3.5 2.5 9 3.5 6.5 4 2.5 0.5 4-1.5 12-1 60 0 0 1-62 0-10 1-4 1.5-4-1.5-6.5-4-7.5-3-4-2.5-2.5-2.5-3-8 0-16-2-20zM178 2l2 3 2 1 3.5-2 2-2 0-10 3 0 0 10 0.5 2 2 2 3 2.5 4 0.5 42 0 0 0.5-44 0-4-1.5-4-4-2 0-3 2-3 1-2.5-1-2-2-0.5-2-0.5-10 1.5 0zM82 67.5l2-0.5 2 1 1 2 0 4-1 4-2 2.5-2 0.5-2 0-2-0.5-2-2.5-0.5-2 0-2 2.5-4zM81 70l-2.5 2-1 2 0 2 2.5 2.5 2 0 2-1 1-1.5 0.5-2 0-2-1.5-2zM60 70l2 0.5 2 1.5 2 4-0.5 2-0.5 2-2 2-3 1.5-2 0.5 2 0.5 3 3.5 2.5 4-0.5 2-2 6-4.5 6-1.5 6-0.5 2-2.5 1.5-2 0.5-4-2.5-1.5-3.5 0-2 1-2 4-4 0.5-2-2-8 1-4 3-3 4-1-2-1.5-2.5-4.5-0.5-2 0.5-2 2.5-3zM57.5 74l-1.5 2 0.5 2 1.5 2 2 0.5 2-1 1-1.5 0-2-1-2-2-1zM52.5 88l-1.5 2-0.5 2 1 4 1.5 4 0.5 2-1 2-2.5 1.5-2 2-0.5 2.5 1 2 3.5 2 2.5-2 1-6 1-2 3.5-4 2.5-6 0-2-1-2-3.5-3-2-0.5-2 0.5zM40 77.5l2 0.5 1 2 0.5 2-1.5 2.5-2 0.5-2 0-2-1 0-2 2-3.5zM40 80l-2 1-0.5 1 0.5 2 2 0 1.5-2zM136 143.5l4-1.5 102 0 0 0.5-102 0-4 1.5-4 4-8 3-9.5 9-2 6 1.5 6 0.5 4 0 46-0.5 0 0-46-0.5-4-1.5-4 0.5-4 1.5-4 8-8 2-1.5 7.5-2.5zM148 151l94 0 0 1-96 0-10 1-2 0.5-7.5 6.5-3.5 8-0.5 6 0 48-1 0 0-48 1-6 3.5-8 6-5.5 4-2z"/><path fill="#f3ff0c" stroke="#f3ff0c" stroke-width="0.6" fill-rule="evenodd" d="M147.5 -8l-0.5 10-5 5-1.5 3-1.5 6-1 8 1 8 2 10-0.5 16 2 6 3 4 3 2 9.5 3.5 6 4 2 0.5 4-2 12-1 60-0.5 0 1.5-62 0-10 1-4 1.5-2.5-0.5-6.5-4-9-3.5-3.5-2.5-3-4-2-6 0.5-16-2-10-1-8 1.5-14 1.5-4.5 2.5-3.5 0.5-10zM176.5 -8l0.5 10 0.5 2 2.5 2.5 2 0.5 3-1 3-2 2 0 4 4 4 1.5 44 0 0 1-44 0-4-1.5-4-3-2 0-6 2-2-0.5-2-1.5-1.5-2-1-2 0-10zM82 69.5l2 0.5 1.5 2 0 2-1.5 3.5-2 1-2 0-2-1.5-0.5-3 1-2 1.5-1.5zM81 74l1 1 0.5-1-0.5-1zM58 73.5l2-0.5 2 1 1 2 0 2-1 1.5-2 1-2-0.5-1.5-2-0.5-2zM40 80l1.5 2-1.5 2-2 0-0.5-2 0.5-1zM54 87l2-0.5 2 0.5 2 1.5 2.5 3.5 0 2-2.5 6-3.5 4-1 2-1 6-2.5 2-2-1-2-1.5-0.5-3.5 2.5-2.5 2.5-1.5 1-2-0.5-2-1.5-4-1-4 1.5-3.5zM52 90l-0.5 2 0.5 3.5 2 3.5 2 1.5 2-1 2-3.5 0.5-4-1.5-2-3-2-2 0.5zM50 108l0 2 1.5 0-0.5-2zM140 142.5l102 0 0 1-102-0.5-2 0.5-2 1-4 4.5-8 2.5-9 8.5-2 6 0 2 1.5 4 0.5 4 0 46-0.5 0 0-46-0.5-4-1.5-4 0.5-4 1.5-4 8-8 1.5-1 8-3 4-4zM144 150.5l4-0.5 94 0 0 1-96 0-12 2-8 7-3 6-1 4-0.5 52-0.5 0 0-52 0.5-2 4.5-8.5 6-5.5 2-1z"/><path fill="#ffdc00" stroke="#ffdc00" stroke-width="0.6" fill-rule="evenodd" d="M150 -8l-0.5 10-1 2-4.5 4-2 2.5-2 5.5-1 8 3 18-1 16 2 6 3.5 4 3.5 2 8 3 6 3.5 2 0.5 4-2 12-1 60-0.5 0 1-62 0.5-10 1-4 2-2-0.5-6-4-9.5-3.5-3-2-3-4-2-6 0.5-16-2-10-0.5-10 1-8 1-4 1.5-3 5-5 0.5-10zM175.5 2l1 2 1.5 2 2 1.5 2 0.5 6-2 2 0 4 3 4 1.5 44 0 0 1-44-0.5-4-0.5-4-3-2 0-6 1.5-2 0-2-1.5-3-3.5-0.5-2-0.5-10 1.5 0zM82 73l0.5 1-0.5 1-1-1zM54 88.5l2-0.5 2 1 2.5 3-0.5 4-2 3.5-2 1-2-1.5-2.5-5 0.5-3.5zM53 92l0 2 1 2.5 2 1 2-2 0-3.5-2-2-2 0zM50 108l1 0 0.5 2-1.5 0zM138 143.5l2-0.5 102 0.5 0 0.5-102-0.5-2 0.5-2 1.5-2 2.5-2 1.5-8 3-8 7.5-2 3.5-1 2.5 0.5 2 1.5 4 0.5 2 0 48-0.5 0 0-46-0.5-4-1.5-4 0.5-4 1.5-4 8.5-8 8.5-3 4-4.5zM144 149.5l98-0.5 0 1-94 0-4 0.5-10 2.5-2 1-6 5.5-4.5 8.5-0.5 2 0 52-1 0 0-48 1-6 5-9.5 6-5 4-2 4-0.5z"/><path fill="#ffae00" stroke="#ffae00" stroke-width="0.6" fill-rule="evenodd" d="M150 -8l2 0 0 10-2 3.5-4 3-3 3.5-1.5 4-1.5 8 3 18-1 16 2 6 3.5 4 4.5 2.5 6 1.5 6 3.5 2 1 4-2.5 12-1.5 60 0 0 1-60 0.5-12 1-4 2-2-0.5-6-3.5-8-3-3.5-2-3.5-4-2-6 1-16-2-10-0.5-10 1-8 1.5-3.5 2-2.5 4.5-4 1-2zM174 -8l0.5 10 0.5 2 3 3.5 2 1.5 2 0 6-1.5 2 0 4 3 4 0.5 44 0.5 0 0.5-44 0-4-0.5-4-2-2-0.5-6 1.5-2-0.5-4-2.5-2.5-3.5-1-2 0-10zM194 56.5l48 0 0 2-48 0-9.5-0.5zM54 90l2 0 2 2 0 3.5-2 2-2-1-1-2.5 0-2zM138 144l2-0.5 102 0.5 0 0.5-94 0-8-0.5-2 0.5-2 1.5-2 3.5-10 4-7.5 6.5-2.5 4.5 0 3.5 1.5 4 0.5 4 0 46-0.5 0 0-48-0.5-2-1.5-4 0.5-4 2-4 8-7.5 8-3 2-1.5 2-2.5zM144 148.5l4-0.5 94 0 0 1-96 0-6 2-4 0.5-4 2-6 5-5 9.5-0.5 2-0.5 6 0 46-1 0 0-46 0.5-6 6.5-12.5 8-6 2-1 4 0z"/><path fill="#ff8000" stroke="#ff8000" stroke-width="0.6" fill-rule="evenodd" d="M152 -8l2 0 0 10-0.5 2-3 4-4.5 2.5-2 2.5-2.5 11 0.5 8 2 10-1.5 16 1.5 4.5 2 3 2 2 4 2 8 2.5 6 3.5 4-2 12-2 60 0 0 1-60 0-12 1.5-4 2.5-2-1-6-3.5-6-1.5-4.5-2.5-3.5-4-2-6 1-16-3-18 1.5-8 1.5-4 1.5-2 5-4 1.5-2 1-2zM172.5 -8l0 10 1 2 3 4 3.5 2 2 0.5 6-1.5 2 0.5 4 2 4 0.5 44 0 0 1-44 0-4-0.5-4-1.5-10 0-4-1.5-5-5.5-1-2 0-10zM182 54l4-1 6-0.5 50 0 0 4-48 0-6 0.5-3.5 1 9.5 0.5 48 0 0 2.5-58-0.5-3-0.5-2.5-2 0.5-2zM136 146l2-1.5 2-0.5 8 0.5 94 0 0 1-94 0-8-0.5-3 1-1 2 0 1 2 1 2-0.5 4-2.5 4 0 94 0 0 1-96 0.5-2 0-4 2-4 0-2 1-8 6-6.5 12.5-0.5 6 0 46-3 0 0-48-0.5-2-1.5-4-0.5-2 2.5-5 8-7.5 10-4zM125 154l-2 2-3 2-2.5 2-1.5 2-2 4 0.5 2 1.5 3 1.5 1 0.5 1.5 1.5-5.5 4.5-7.5 1-2.5 1-1.5 2-1 1-1.5-1-1z"/><path fill="#ff5100" stroke="#ff5100" stroke-width="0.6" fill-rule="evenodd" d="M157.5 -8l0 10-1 2-4 6-6.5 3-0.5 1-2 10 0 8 1.5 10-1.5 16 1 4 3 4 2.5 2 10 3 6 3.5 4-2 12-2 60 0 0 1-60 0-12 2-4 2-8-4.5-8-2.5-3.5-2.5-2.5-4-1.5-4 1.5-16-2-11.5-0.5-8.5 2.5-9 2-2.5 4.5-2.5 3-4 0.5-2 0-10zM168 -8l2 0 0 10 1 2 5 5.5 4 1.5 10 0 4 1.5 4 0.5 44 0 0 1-44 0-10-1.5-6 0-4-0.5-6-3-3-3-1-4zM182 49.5l10-0.5 50 0 0 3.5-56 0.5-4 1-2 1-1.5 3 2.5 2 5 0.5 56 0.5 0 1.5-60-0.5-4-1.5-2-2.5 0-3 1.5-3 2.5-1.5zM140 145l8 0.5 94 0 0 1.5-96 0-2 0-4 2.5-2 0.5-2-1 0-1 1-2zM138 146l-1 2 1 1 3-1 1.5-2-2.5-0.5zM126 153.5l2-0.5 1 1-1 1.5-2 1-1 1.5-1 2.5-4.5 7.5-1.5 5.5-0.5-1.5-1.5-1-1.5-3-0.5-2 2-4 1.5-2zM121.5 158l-3.5 2.5-2 3-1 2.5 1 3 2 0.5 4-7.5 1-2 0-2z"/><path fill="#ff2300" stroke="#ff2300" stroke-width="0.6" fill-rule="evenodd" d="M163 -8l-0.5 12-2.5 5-9.5 7-1.5 8-3 8 1 10-2.5 16 1.5 4 3 4 3 2 6 1 8 4 4-2 12-1.5 60 0 0 1-60 0-12 2-4 2-6-3.5-10-3-2.5-2-3-4-1-4 1.5-16-1.5-10 0-8 2-10 0.5-1 6.5-3 4-6 1-2 0-10zM168 -8l0 10 1 4 3 3 4 2.5 4 1 8 0 8 1.5 46 0 0 4.5-48 0-2-0.5-2.5-2-3.5-1-10-1.5-6-1.5-3-2-2.5-6 0-12zM182 46l10-0.5 50 0 0 3.5-50 0-10 0.5-2 1-2.5 1.5-1.5 3 0 3 2 2.5 6 1.5 58 0.5 0 1.5-54 0-8-0.5-3-1.5-2-2-0.5-2 0-6 0.5-2 1-2 2-1zM138 146l2-0.5 2.5 0.5-1.5 2-3 1-1-1zM122 157.5l1 0.5 0 2-1 2-4 7.5-2-0.5-1-3 1-2.5 2-3zM118.5 162l-2.5 3.5 0 1 2 0 2-3 0.5-1.5-0.5-1z"/><path fill="#f30000" stroke="#f30000" stroke-width="0.6" fill-rule="evenodd" d="M164.5 -8l0 10 0.5 4 2 4 3 2 6 1.5 10 1.5 3.5 1 2.5 2 2 0.5 48 0 0 18-58-0.5-6-1-1.5-1-6-6-2.5-1.5-2-0.5-4 0-3.5 2-6.5 5.5-2 5-2 11.5-2 8 1.5 4 3 4 1.5 1 8 1.5 6 2.5 10-2.5 6 0 60-0.5 0 1.5-60 0-12 1.5-4 2-8-4-6-1-3-2-3-4-1.5-4 2.5-16-1-10.5 3-7.5 1.5-8 8.5-6 3-4 1-4 0-10zM158 36.5l4 0.5 4 2 2 1 0.5 2-2.5 1-4 0.5-4-1.5-1.5-2 0.5-2zM184 42l58-0.5 0 4-52 0-10 0.5-4 2-1 2-1 6 0.5 2 1.5 3.5 2 1 4 1 60 0.5 0 1.5-56 0-8-0.5-2-1-2.5-4-1.5-7-1-3-0.5-4 0.5-2 3-1.5zM120 161l0.5 1-0.5 1.5-2 3-2 0 0-1 2-3z"/><path fill="#c50000" stroke="#c50000" stroke-width="0.6" fill-rule="evenodd" d="M166.5 26l3.5 1.5 6.5 6.5 1.5 1 6 1 58 0.5 0 5-50 0-16 0.5-2 0.5-3 1.5-0.5 2 0.5 4 1 3 1.5 7 2.5 4 2 1 8 0.5 56 0 0 2.5-60 0.5-6 0-10 2.5-6-2.5-8-1.5-4-4-1.5-3-0.5-2 2-8 2-11.5 2-5 6.5-5.5 3.5-2zM157 38l-0.5 2 1 2 2.5 1 4 0.5 4.5-1.5-0.5-2-6-3-4-0.5zM152 48l-2 12 2 3 1.5 1 4.5 0.5 8 3 6.5-1.5-1.5-4-1-4-5.5-6-4.5-2-4-1-2-1z"/><path fill="#970000" stroke="#970000" stroke-width="0.6" fill-rule="evenodd" d="M152 47.5l2 0.5 2 1 4 1 4.5 2 5.5 6 1 4 1.5 4-6.5 1.5-8-3-4.5-0.5-1.5-1-2-3z"/></g></g>
<clipPath id="c2"><rect x="-1" y="-1" width="236.0" height="214.7"/></clipPath>
<g clip-path="url(#c2)"><use href="#st"/></g>
</g>
<rect x="1037.5" y="95.5" width="235.2" height="214.9" fill="none" stroke="#000" stroke-width="0.9"/>
<rect x="1285.5" y="93.6" width="23.2" height="218.2" fill="url(#jet)" stroke="#222" stroke-width="0.7"/>
<line x1="1306.2" x2="1308.7" y1="312.0" y2="312.0" stroke="#222" stroke-width="0.8"/>
<text x="1317.3" y="319.5" font-size="20.5" font-weight="bold" fill="#262626">0</text>
<line x1="1306.2" x2="1308.7" y1="218.0" y2="218.0" stroke="#222" stroke-width="0.8"/>
<text x="1317.3" y="225.5" font-size="20.5" font-weight="bold" fill="#262626">0.5</text>
<line x1="1306.2" x2="1308.7" y1="124.0" y2="124.0" stroke="#222" stroke-width="0.8"/>
<text x="1317.3" y="131.5" font-size="20.5" font-weight="bold" fill="#262626">1</text>
<text x="1150.1" y="342.9" font-size="23" font-weight="bold" text-anchor="middle" fill="#262626">SAT+RAP 500 hPa MR (g/kg)</text>
<text x="1084.2" y="75.2" font-size="12.3" font-weight="bold" text-anchor="end" fill="#262626">100</text>
<circle cx="1089.0" cy="62.6" r="1.25" fill="none" stroke="#262626" stroke-width="1"/>
<text x="1096.4" y="75.2" font-size="12.3" font-weight="bold" fill="#262626">W</text>
<text x="1145.3" y="75.2" font-size="12.3" font-weight="bold" text-anchor="end" fill="#262626">90</text>
<circle cx="1150.1" cy="62.6" r="1.25" fill="none" stroke="#262626" stroke-width="1"/>
<text x="1159.0" y="75.2" font-size="12.3" font-weight="bold" fill="#262626">W</text>
<text x="1208.8" y="75.2" font-size="12.3" font-weight="bold" text-anchor="end" fill="#262626">80</text>
<circle cx="1213.6" cy="62.6" r="1.25" fill="none" stroke="#262626" stroke-width="1"/>
<text x="1222.5" y="75.2" font-size="12.3" font-weight="bold" fill="#262626">W</text>
<text x="1272.4" y="75.2" font-size="12.3" font-weight="bold" text-anchor="end" fill="#262626">70</text>
<circle cx="1277.2" cy="62.6" r="1.25" fill="none" stroke="#262626" stroke-width="1"/>
<text x="1286.1" y="75.2" font-size="12.3" font-weight="bold" fill="#262626">W</text>
<text x="1005.1" y="113.4" font-size="12.3" font-weight="bold" text-anchor="end" fill="#262626">48</text>
<circle cx="1009.8" cy="99.8" r="1.2" fill="none" stroke="#262626" stroke-width="1"/>
<text x="1018.1" y="113.4" font-size="12.3" font-weight="bold" fill="#262626">N</text>
<text x="1005.1" y="130.6" font-size="12.3" font-weight="bold" text-anchor="end" fill="#262626">46</text>
<circle cx="1009.8" cy="117.0" r="1.2" fill="none" stroke="#262626" stroke-width="1"/>
<text x="1018.1" y="130.6" font-size="12.3" font-weight="bold" fill="#262626">N</text>
<text x="1005.1" y="147.4" font-size="12.3" font-weight="bold" text-anchor="end" fill="#262626">44</text>
<circle cx="1009.8" cy="133.8" r="1.2" fill="none" stroke="#262626" stroke-width="1"/>
<text x="1018.1" y="147.4" font-size="12.3" font-weight="bold" fill="#262626">N</text>
<text x="1005.1" y="166.9" font-size="12.3" font-weight="bold" text-anchor="end" fill="#262626">42</text>
<circle cx="1009.8" cy="153.3" r="1.2" fill="none" stroke="#262626" stroke-width="1"/>
<text x="1018.1" y="166.9" font-size="12.3" font-weight="bold" fill="#262626">N</text>
<text x="1005.1" y="183.0" font-size="12.3" font-weight="bold" text-anchor="end" fill="#262626">40</text>
<circle cx="1009.8" cy="169.4" r="1.2" fill="none" stroke="#262626" stroke-width="1"/>
<text x="1018.1" y="183.0" font-size="12.3" font-weight="bold" fill="#262626">N</text>
<text x="1005.1" y="198.1" font-size="12.3" font-weight="bold" text-anchor="end" fill="#262626">38</text>
<circle cx="1009.8" cy="184.5" r="1.2" fill="none" stroke="#262626" stroke-width="1"/>
<text x="1018.1" y="198.1" font-size="12.3" font-weight="bold" fill="#262626">N</text>
<text x="1005.1" y="214.8" font-size="12.3" font-weight="bold" text-anchor="end" fill="#262626">36</text>
<circle cx="1009.8" cy="201.2" r="1.2" fill="none" stroke="#262626" stroke-width="1"/>
<text x="1018.1" y="214.8" font-size="12.3" font-weight="bold" fill="#262626">N</text>
<text x="1005.1" y="229.0" font-size="12.3" font-weight="bold" text-anchor="end" fill="#262626">34</text>
<circle cx="1009.8" cy="215.4" r="1.2" fill="none" stroke="#262626" stroke-width="1"/>
<text x="1018.1" y="229.0" font-size="12.3" font-weight="bold" fill="#262626">N</text>
<text x="1005.1" y="245.7" font-size="12.3" font-weight="bold" text-anchor="end" fill="#262626">32</text>
<circle cx="1009.8" cy="232.1" r="1.2" fill="none" stroke="#262626" stroke-width="1"/>
<text x="1018.1" y="245.7" font-size="12.3" font-weight="bold" fill="#262626">N</text>
<text x="1005.1" y="260.0" font-size="12.3" font-weight="bold" text-anchor="end" fill="#262626">30</text>
<circle cx="1009.8" cy="246.4" r="1.2" fill="none" stroke="#262626" stroke-width="1"/>
<text x="1018.1" y="260.0" font-size="12.3" font-weight="bold" fill="#262626">N</text>
<text x="1005.1" y="275.0" font-size="12.3" font-weight="bold" text-anchor="end" fill="#262626">28</text>
<circle cx="1009.8" cy="261.4" r="1.2" fill="none" stroke="#262626" stroke-width="1"/>
<text x="1018.1" y="275.0" font-size="12.3" font-weight="bold" fill="#262626">N</text>
<text x="1005.1" y="289.5" font-size="12.3" font-weight="bold" text-anchor="end" fill="#262626">26</text>
<circle cx="1009.8" cy="275.9" r="1.2" fill="none" stroke="#262626" stroke-width="1"/>
<text x="1018.1" y="289.5" font-size="12.3" font-weight="bold" fill="#262626">N</text>
<text x="1005.1" y="301.5" font-size="12.3" font-weight="bold" text-anchor="end" fill="#262626">24</text>
<circle cx="1009.8" cy="287.9" r="1.2" fill="none" stroke="#262626" stroke-width="1"/>
<text x="1018.1" y="301.5" font-size="12.3" font-weight="bold" fill="#262626">N</text>
<text x="1005.1" y="316.8" font-size="12.3" font-weight="bold" text-anchor="end" fill="#262626">22</text>
<circle cx="1009.8" cy="303.2" r="1.2" fill="none" stroke="#262626" stroke-width="1"/>
<text x="1018.1" y="316.8" font-size="12.3" font-weight="bold" fill="#262626">N</text>
<g transform="translate(195.7 486.2) scale(1.0000 1.0019)">
<clipPath id="s3"><path d="M7.5 -3.2L215.3 -3.2L175.3 80.4L159.3 119.4L150.3 147.4L143.3 173.4L139.5 179.5L134.3 181.0L124.3 177.5L67.0 166.0L2.0 157.5L-3.0 155.5L-3.6 150.0L-2.4 103.4L0.3 63.4L2.5 35.0Z"/></clipPath><g clip-path="url(#s3)"><g filter="url(#tx)"><path fill="#0000c5" stroke="#0000c5" stroke-width="0.6" fill-rule="evenodd" d="M116 127.5l4-1 14 0.5 3.5 3 0.5 2-1.5 6-2.5 2.5-2 1.5-4 0.5-4-1-2-1.5-3-4-5-4 0-2z"/><path fill="#0000f3" stroke="#0000f3" stroke-width="0.6" fill-rule="evenodd" d="M134 122.5l8 0.5 3.5 1 2.5 3 2 1 2 0.5 90 0 0 93.5-115 0 0-54 0.5-8-2-4-3.5-2.5-4-5-3.5-2.5-4.5-5-0.5-1-0.5-2-0.5-6 0.5-6 1-2.5 2-1.5zM115.5 128l-1.5 2 0 2 5 4 3 4 2 1.5 4 1 4-0.5 2-1.5 2.5-2.5 1.5-6-0.5-2-3.5-3-16-0.5z"/><path fill="#0023ff" stroke="#0023ff" stroke-width="0.6" fill-rule="evenodd" d="M112 120l2 0 36 1.5 92 0 0 7-90 0-2-0.5-2-1-2.5-3-5.5-1-26-1-2 0-2 1.5-1.5 8.5 0.5 6 1 3 4.5 5 3.5 2.5 4 5 3.5 2.5 2 4-0.5 8 0 54-2 0 0-54-0.5-6-1.5-4-6-8-8-6-1-2-1-4-0.5-8 1-6 1-2z"/><path fill="#0051ff" stroke="#0051ff" stroke-width="0.6" fill-rule="evenodd" d="M166 87.5l76 0 0 6.5-76 0-2-1-0.5-1 0.5-3.5zM108 120l4-1.5 8 0.5 18 0.5 14-0.5 90 0 0 2.5-92 0-36-1.5-2 0-3.5 2-1 2-1 6 0.5 8 1 4 1 2 8 6 6 8 1.5 4 0.5 6 0 54-1.5 0 0-52-0.5-6-1-4-5.5-8-4-4-3.5-2-2-2-2-14 0.5-6 0.5-2z"/><path fill="#0080ff" stroke="#0080ff" stroke-width="0.6" fill-rule="evenodd" d="M242 80l0 7.5-74 0-2 0-2 1-0.5 3.5 0.5 1 2 1 2 0 74 0 0 3.5-78 0-2-1.5-1.5-2-1-6-2.5-4 0-2 1-1 2-1zM26 81.5l2-0.5 2 0.5 4.5 2.5-2.5 1-4 0.5-3-1.5zM126 106l2 0 1.5 2-1.5 2.5-2 0-1-0.5-1.5-2zM98 113.5l1.5 0.5 0.5 2-2 1.5-1.5-1.5zM106 118l2-1 4-0.5 8 1 18 1 6-0.5 8-1 90 0 0 2-90 0-14 0.5-18-0.5-8-0.5-4 1.5-2 2-0.5 2-0.5 6 2 14 2 2 3.5 2 4 4 5.5 8 1 4 0.5 6 0 52-2 0 0-52-0.5-6-1-4-6.5-10-2.5-2-4.5-2-1.5-2-2-14 0-4 1-6z"/><path fill="#00aeff" stroke="#00aeff" stroke-width="0.6" fill-rule="evenodd" d="M58 39.5l4-1 2 0 2.5 1.5 1.5 2-0.5 2-1.5 2-2 1-2 0-4-1.5-2-1.5-1-2zM56 53l2 0.5 2 1.5 1.5 3-1.5 2-4 2-3.5-2-0.5-2 0.5-2 1.5-2zM156 56l86-0.5 0 24.5-80 0-2 0-2 1-1 1 0 2 2.5 4 1 6 1.5 2 2 1.5 78 0 0 4-78 0-6-0.5-0.5-1 0.5-8-0.5-2-2.5-4-3.5-2-2-2-1.5-6 3.5-8 2-10zM159.5 66l0 2 0.5 0.5 2 1 1-1.5 0-2-1-1zM26 79.5l2-0.5 4 1 6.5 2 2.5 2-1 4-2 2.5-3.5-2.5-8.5-1.5-3.5-2.5 0-2 1.5-1.5zM25.5 82l-0.5 2 3 1.5 4-0.5 2.5-1-4.5-2.5-2-0.5zM64 81.5l2 0.5 1 2-1 0.5-2 0.5-3-1 1-2zM98 97.5l2 0 2 0.5 2.5 2 1.5 4 2 2 4.5 2 3.5 6 4.5 2 19.5 1 5.5-1 4.5-2 2-0.5 90 0 0 3.5-90 0-8 1-6 0.5-18-1-8-1-4 0.5-2.5 1-1.5 2-1 8 2 16 1.5 2 5.5 3 3 3 5 8 1.5 6 0 56-1.5 0 0-54-1.5-8-6.5-10-2-1.5-5.5-2.5-1.5-2-1-9-2.5-5-1.5-5-0.5-1-3.5-3.5-2.5-4.5 0-2 1.5-2 3.5-4-0.5-2-2-4 0-2zM96.5 116l1.5 1.5 2-1.5-0.5-2-1.5-0.5zM126 104l2 0 2 1 2 3-0.5 2-1.5 2-2 1.5-2 0-2-0.5-3-3-0.5-2 1.5-2zM125.5 106l-2 2 0.5 1 2 1.5 2 0 1.5-2.5-1.5-2z"/><path fill="#00dcff" stroke="#00dcff" stroke-width="0.6" fill-rule="evenodd" d="M132 10l2 0.5 1 1.5 0.5 2-1.5 8-2 2-4-4-5-4-1-2zM58 36l4-0.5 4 2 3.5 2.5 1.5 2 0 2-1 2.5-3.5 5.5-0.5 6-1.5 2-4.5 3.5-4 1.5-4-1-2-1.5-1.5-2.5-2.5-10 0-6 0.5-2 2.5-2zM57 40l-2 2 1 2 2 1.5 4 1.5 2 0 2-1 1.5-2 0.5-2-1.5-2-2.5-1.5-4 0zM54 54l-2 3 0 1 0.5 2 3.5 2 2-0.5 2.5-1.5 1-2-1.5-3-2-1.5-2-0.5zM152 48l90-0.5 0 8-86 0.5-2.5 2-2 10-3.5 8 1.5 6 2 2 3.5 2 2.5 4 0.5 2-0.5 8 0.5 1 6 0.5 78 0 0 5-82 0-2 0-2-1.5-1-5 1-8-0.5-2-1.5-2-2-1.5-6-2.5-1.5-2-2-6 0.5-2 3-4.5 1.5-3.5 1.5-14 0.5-2zM160 65.5l2-0.5 1 1 0 2-1 1.5-2-1-0.5-0.5zM24 77.5l4-0.5 6 1 6 1.5 5 2.5 0.5 2-3 4-2.5 7.5-2 0-5.5-5.5-6.5-2-5.5-4-0.5-2 0.5-2zM22.5 82l0 2 3.5 2.5 8.5 1.5 3.5 2.5 2-2.5 1-4-2.5-2-8.5-2.5-4 0zM62 79.5l2 0 2.5 0.5 2.5 2 1 2-2 2-2 0.5-2 0-6.5-2.5-0.5-2zM62 82l-1 2 1 0.5 2 0.5 2-0.5 1-0.5-1-2-2-0.5zM94 95.5l6 0 2 0.5 3.5 2 4.5 4.5 8 3 6-3 4-0.5 2 0.5 2 1.5 2 2 0.5 2 0 6 1.5 0.5 6-0.5 6-3.5 2-1 8-0.5 84 0 0 4.5-90 0-2 0.5-4.5 2-5.5 1-19.5-1-4.5-2-3.5-6-4.5-2-2-2-1.5-4-2.5-2-2-0.5-2 0-4 2.5 0 2 2 4 0.5 2-3.5 4-1.5 2 0 2 2.5 4.5 3.5 3.5 0.5 1 1.5 5 2.5 5 1 9 1.5 2 5.5 2.5 2 1.5 6.5 10 0.5 2 1 8 0 52-2 0 0-54-1-8-4.5-8-1.5-2-3-2-5.5-2-2-2-1-4-6.5-8-3-10-4-6 0-2 3-6-2.5-8 3.5-3zM125.5 104l-3.5 2-1.5 2 0.5 2 3 3 2 0.5 2 0 2-1.5 1.5-2 0.5-2-2-3-2-1z"/><path fill="#0cfff3" stroke="#0cfff3" stroke-width="0.6" fill-rule="evenodd" d="M139 -8l0.5 22-2 10-1.5 3.5-3 4.5 0 10-1 4-2 6-2 1-2-7-1.5-4-0.5-2 1.5-8-2-8-0.5-2-4-6-0.5-2 1.5-2.5 7.5-3.5 4.5-4 1-2 0-10zM122 14l1 2 5 4 4 4 2-2 1.5-8-0.5-2-1-1.5-2-0.5zM54 33.5l6-1.5 2 0.5 11 7.5 2 2 0.5 8-7.5 11.5-4 3.5-8 3.5-10 1.5-2-0.5-0.5-1.5 1-6 0-4-2.5-4.5-5-3.5-1-2 0.5-6 2-2 3.5-2zM58 36l-9 4-2.5 2-0.5 2 0 6 2.5 10 1.5 2.5 2 1.5 4 1 4-1.5 4.5-3.5 1.5-2 0.5-6 3.5-5.5 1-2.5 0-2-1.5-2-3.5-2.5-4-2zM148 38l2-0.5 92 0 0 10-90 0.5-2.5 2-0.5 2-1.5 14-1.5 3.5-3 4.5-0.5 2 2 6 1.5 2 6 2.5 2 1.5 1.5 2 0.5 2-0.5 10 0.5 3 2 1.5 84 0 0 2.5-86 0-6 0.5-2 1-6 3.5-6 0.5-1.5-0.5 0-6-0.5-2-2-2-2-1.5-2-0.5-4 0.5-6 3-8-3-4.5-4.5-3.5-2-2-0.5-8 0.5-3.5 2-2 2 2.5 8-3 6 0 2 4 6 3 10 6.5 8 1 4 2 2 5.5 2 3 2 1.5 2 4.5 8 1 8 0 54-2 0 0-58-0.5-4-4-8-3.5-3-10-3.5-9-1.5-1-2-1.5-4-0.5-14-5.5-6-1-2 0-2 1.5-6-0.5-2-2.5-2.5-4-2.5-7-1 5-1.5 6-3.5 11.5-3 2.5 0 10 2 4 2 4 3 6 1.5 2 0.5 10-1 4 0.5 2 0.5 4 3.5 4 2 6 0 4-1 1-1.5 0.5-2 1-10-0.5-1.5-2-2-8-1-4-2-2-1.5-1-2-0.5-4 0.5-4 1.5-4 1-2 4.5-3.5 1-2.5 1-4-2-8zM16 75l12-0.5 10 0.5 8 2.5 6 4 4-2.5 8-2 4 1 2 1.5 2 2.5 0.5 2-0.5 2.5-2 1.5-4 0.5-13-4.5-1-1.5-1 1.5-4 2-2.5 2-1 2-0.5 4 0.5 4 1 2-2.5 1.5-2 0-2-0.5-4-2-2-3-1-4-5-2.5-8-5.5-2-1-2 0-4 1.5-1.5 1.5-1 6 0.5 8.5-2 3-14 0 0-28zM23 78l-2.5 2-0.5 2 0.5 2 5.5 4 6.5 2 5.5 5.5 2 0 2.5-7.5 3-4-0.5-2-5-2.5-6-1.5-6-1zM61 80l-4 2 0.5 2 6.5 2.5 2 0 2-0.5 2-2-1-2-3-2.5-2 0z"/><path fill="#3affc5" stroke="#3affc5" stroke-width="0.6" fill-rule="evenodd" d="M133 -8l0 10-3 4-4 3-6 2.5-1.5 2.5 0.5 2 4 6 0.5 2 2 8-1.5 8 0.5 2 1.5 4 2 7 2-1 2-6 1-4 0-10 4-6 2-10 0.5-4-0.5-20 103 0 0 45.5-92 0-2 0.5-4 12 2 8-1 4-1 2.5-4.5 3.5-1 2-1.5 4-0.5 4 0.5 4 1 2 2 1.5 4 2 8 1 2 2 0.5 1.5-1 10-0.5 2-1 1.5-1 0.5-7 0.5-2 0-4-2-4-3.5-2-0.5-6-0.5-8 1-6-1.5-2-0.5-4-3-4-2-10-2-2.5 0-11.5 3-6 3.5-5 1.5 7 1 4 2.5 2.5 2.5 0.5 2-1.5 6 0 2 1 2 5.5 6 0.5 14 1.5 4 1 2 9 1.5 10 3.5 3.5 3 4 8 0.5 4 0 58-9 0 0-54 1-2 4 1 2-3 0-4-1-2-2.5-6-2-2-8.5-3-6-0.5-6 0.5-8 2.5-3 2.5-1 2 0.5 2 3.5 4-2 2-3.5 2-1 4-0.5 54-81 0 0-60.5 20 0 6-1 8-2 1.5-2.5 0.5-2-1-4-1-1.5-6-1-2.5-1.5-2.5-4-6.5-4 3-2 2-4 0-10-0.5-2-1-2-2-1-4-1-14-0.5 0-12 14 0 2-3-0.5-8.5 1-6 1.5-1.5 4-1.5 2 0 2 1 8 5.5 5 2.5 1 4 2 3 4 2 2 0.5 2 0 2.5-1.5-1-2-0.5-4 0.5-4 1-2 2.5-2 4-2 1-1.5 1 1.5 13 4.5 4-0.5 2-1.5 0.5-2.5-0.5-2-1.5-2-2.5-2-2-0.5-4 0-4 0.5-4.5 2-1.5 1.5-6-4-8-2.5-10-0.5-12 0.5-24 0.5 0-4.5 40 0 2-0.5 2-1 2-2 2-3.5 1.5-4-0.5-2-1-2-4-3-9.5-3-1.5-2 0-4 0.5-2 2-2 14.5-8-5-6-0.5-2 0.5-2 1.5-2 3.5-2.5 4 0 10 3.5 4.5 7 4 4 5.5 4 4 0.5 2-0.5 2.5-4 1.5-1.5 2 0.5 2 1 2 2 3.5 6 0.5 2-1 2-6.5 8-2.5 6.5-8 6.5-2.5 3-0.5 2-0.5 4 5.5 6 2.5 6 1.5 1.5 4 2 10 0 8 1.5 10 4.5 8 0.5 2-0.5 3-3.5 4-8 0.5-8 2-8-0.5-4-4.5-4-1-2 0-8-2-10-0.5-16-5-10 1-2 2-2 8.5-6 1-2 0-10zM42 38l-3.5 2-2 2-0.5 6 1 2 5 3.5 2.5 4.5 0 4-1 6 0.5 1.5 2 0.5 10-1.5 8-3.5 4-3.5 7.5-11.5-0.5-8-2-2-11-7.5-2-0.5-2 0zM134.5 50l-0.5 8 0.5 2 1.5 1 4 1.5 2-1 1-3.5-2-8 1.5-8 0-2-2.5-4.5-2 0zM12.5 86l-2 2-1 4 1.5 10 1 2.5 1 1.5 4.5 2 2.5 2-1.5 2-2 8-1 10 1 4 1.5 2 2 1.5 4 1 4 0 4-1 4.5-3.5 2.5-4-0.5-2-1-2-5.5-3-1.5-3-1.5-8-1-1.5-2-2.5 1-2 1-4 0.5-8-1-2-9.5-7-2 0zM50 86l-4 3-1.5 3 0.5 2 1 2 4 2.5 4 1 6-1 4-1.5 4.5-3 1.5-2-14-6.5-4-0.5zM144 92l-2.5 2-1 2 0 4 3.5 2.5 6 1.5 2-1.5 0.5-2.5 0.5-8-1-1.5-2 0zM53 104l-5 3-1 1-0.5 2 0.5 6 1 4 4 5.5 2 2 4 1.5 3.5-1 2.5-2 1.5-2 6.5-2.5 1-1.5 0.5-4-0.5-6-1-2.5-2-1.5-6-2-8-0.5z"/><path fill="#68ff97" stroke="#68ff97" stroke-width="0.6" fill-rule="evenodd" d="M53.5 -8l0 10 1 2 3.5 3.5 1 2.5 1 4 0.5 10 3.5 5 4 3.5 2 1.5 2 0 2-1 6-5.5 4.5 0.5 3.5 1.5 2 1.5 2 3 3 6 0.5 2-2 6-1.5 2-4 2.5-2 2-8 13.5-1 4 0 4 2.5 8 2.5 2 2 1 17.5 1 8.5 3.5 6 0 2-0.5 1-1 3.5-6 3-16-0.5-2-3-4.5-1-3.5-0.5-8-2.5-18 1-8-5.5-10 2.5-4.5 2-2 5.5-3.5 1-2 0.5-10 3.5 0 0 10-1 2-8.5 6-2 2-1 2 5 10 0.5 16 2 10 0 8 1 2 4.5 4 0.5 2 0 4-2 6-0.5 8-5 10-2 1.5-2 0.5-6-0.5-2 0-10-4.5-8-1.5-10 0-4-2-1.5-1.5-2.5-6-5.5-6 0.5-4 0.5-2 2.5-3 8-6.5 2.5-6.5 6.5-8 1-2-0.5-2-3.5-6-2-2-2-1-2-0.5-1.5 1.5-2.5 4-2 0.5-4-0.5-5.5-4-4-4-4.5-7-6-2-6-1.5-2 0-3.5 2.5-1.5 2-0.5 2 1.5 3 4 5-14.5 8-2 2-0.5 2 0 4 1.5 2 9.5 3 4 3 1 2 0.5 2-1.5 4-2 3.5-2 2-2 1-2 0.5-40 0 0-3.5 40-0.5 2-0.5 2-2 2.5-4.5-0.5-2.5-1.5-1.5-2.5-1.5-2-0.5-8 0-6-2.5-7-1.5-3-2-2 0 0-2-14 0 0-54zM138 35.5l2 0 2.5 4.5 0 2-1.5 8 2 8-1 3.5-2 1-4-1.5-1.5-1-0.5-2 0.5-8zM14 85.5l4-0.5 9.5 7 1 2-0.5 8-1 4-1 2 2 2.5 1 1.5 1.5 8 1.5 3 5.5 3 1 2 0.5 2-2.5 4-4.5 3.5-4 1-4 0-4-1-2-1.5-1.5-2-1-4 1-10 2-8 1.5-2-2.5-2-3.5-1.5-2-2-1.5-4.5-1-8 1-4 1.5-1.5zM12.5 88l-1.5 2-0.5 2 1 6 2 4 1.5 2 3 1.5 2 0 3.5-1.5 1.5-2 1-2-0.5-8-4.5-4-3-2-2 0zM22 118.5l-2 3.5-2 8 0.5 2 1.5 2 2 1 2 0.5 4-1.5 2.5-2 0.5-2-3.5-6-1.5-4.5-2-2zM50 86l2-1 4 0.5 14 6.5-1.5 2-4.5 3-4 1.5-6 1-4-1-4-2.5-1-2-0.5-2 1.5-3zM49 88l-2 2-1 2 1 2 1 1.5 4 2 4 0.5 4-1 4-2.5 1.5-2.5-3.5-2.5-6-3-4 0zM146 91l4-0.5 2 0 1 1.5-0.5 8-0.5 2.5-2 1.5-6-1.5-3.5-2.5-0.5-2 1.5-4zM148 96l-1.5 2 0 2 1.5 1 2 0.5 1-1.5 0.5-2-1.5-4zM54 103.5l10 0.5 4 1 2 1 2.5 2 0.5 2 0.5 8-1.5 3.5-6 2.5-4 4-2 0.5-2 0.5-4-1.5-2-2-2.5-3.5-2-4-0.5-10 2-2zM6 116l4 1 2 1 1 2 0.5 2 0 10-2 4-3 2 6.5 4 2.5 4 2.5 1.5 6 1 1 1.5 1 4-0.5 2-1.5 2.5-2 0.5-10 2-22 0.5 0-2.5 22 0 4-1.5 2.5-3.5 0-2-1.5-2-7-7-2-1-6-1.5-12 0 0-3 12-0.5 4-1.5 2-1.5 1.5-4 0.5-6-0.5-2-1.5-2.5-2.5-1.5-3.5-1-12 0 0-1.5zM86 147.5l6-1 8 0.5 8 2.5 2.5 2.5 2.5 6 1 2 0 4-2 3-4-1-1 2 0 54-34 0 0.5-54 1-4 3.5-2 2-2-3.5-4-0.5-2 1-2 3-2.5zM91.5 148l-3.5 1-2 1-1.5 2-0.5 2 0.5 2 1.5 2.5 4 3.5 8-0.5 3.5-1.5 6.5-1 2-1 0.5-4-0.5-2-3-2-7-2z"/><path fill="#97ff68" stroke="#97ff68" stroke-width="0.6" fill-rule="evenodd" d="M65.5 -8l-0.5 20-2.5 10 0 2 3.5 4.5 4 3 2 0 8-7.5 2-0.5 8 0.5 2 1 6.5 13 1.5 4 0.5 8-2 2-8.5 3.5-2 2-5.5 10.5-1.5 6 0 2 1 4 2 4 8 2 10-1.5 14 0 2-1 2-4 2-11.5-3-6-2.5-12 0.5-8-1.5-10 1.5-8-1-2-4-6-0.5-2 0.5-2.5 2-3.5 6.5-6 0.5-10 4 0-0.5 10-1 2-5.5 3.5-2 2-2.5 4.5 5.5 10-1 8 2.5 18 0.5 8 1 3.5 3 4.5 0.5 2-3 16-2.5 5-2 2-8 0.5-6-3-4-0.5-8-0.5-8-0.5-2-1-2.5-2-2.5-8 0-4 1-4 8-13.5 2-2 4-2.5 1.5-2 2-6-0.5-2-4-8-2.5-2-2.5-1.5-4-1-2 0-6 5.5-2 1-2 0-2-1.5-5-4.5-2.5-4-0.5-10-1-4-1-2.5-3.5-3.5-1-2 0-10zM6 46l0 2 2 0 3 2 7 1.5 6 2.5 8 0 2 0.5 2.5 1.5 1.5 1.5 0.5 2.5-2.5 4.5-2 2-2 0.5-40 0.5 0-2 22-0.5 6-2 4-3 4.5 2 3.5 1 2-1 1.5-2-0.5-2-1-1-2-0.5-7.5 1.5-0.5 2 0-2-3-2-4-2-5-1.5-20-0.5 0-6zM14 87l2-1 2 0 3 2 4.5 4 0.5 8-2 3.5-2 1.5-4 0.5-2-1-2-1.5-1.5-3-2-8 1.5-3.5zM14.5 88l-2 2-0.5 2 0.5 4 1.5 3.5 2 2.5 2 1.5 2-0.5 2-1 1.5-2 0-8-1.5-2-4-3zM50 87.5l2-1 4 0 6 3 3.5 2.5-1.5 2.5-4 2.5-4 1-4-0.5-4-2-1-1.5-1-2 1-2zM51.5 88l-3 2-1 2 1 2 3.5 2 2 1 4-0.5 4-2.5 1.5-2-2-2-5.5-2.5-2 0zM148 95.5l2-1.5 1 2 0 4-1 1.5-2-0.5-1.5-1 0-2zM4 117l4 1.5 2.5 1.5 1 2 0.5 4-0.5 4-1.5 4-2 1.5-4 1.5-12 0.5 0-1.5 10 0 4-1 3.5-3 1-4 0-4-0.5-2-2-2-4-1.5-12-0.5 0-1zM24 117.5l2 2 1.5 4.5 3.5 6-0.5 2-2.5 2-4 1.5-2-0.5-2-1-1.5-2 0-4 1.5-6.5 2-3zM20.5 130l1.5 2.5 2 0 1-0.5 1.5-2-2.5-4.5-2-0.5zM4 140.5l4 1 4 1.5 7 7 1.5 2 0 2-2.5 3.5-4 1.5-22 0 0-1 20-0.5 4-1 2-2.5 0-2-1.5-2-2.5-2.5-4-2.5-6-2-12 0 0-2.5zM92 148l8 0 8 2.5 2 1.5 0.5 2-0.5 4-2 1-6.5 1-3.5 1.5-8 0.5-4-3.5-1.5-2.5-0.5-2 0.5-2 1.5-2 2-1zM89 150l-2 2-0.5 2 1.5 3 2 1.5 2 0.5 6 0 8-1 2-1 1-1 0.5-2-1.5-2.5-2-1-6-2-8 0.5z"/><path fill="#c5ff3a" stroke="#c5ff3a" stroke-width="0.6" fill-rule="evenodd" d="M72.5 -8l0 10-1.5 8-1.5 4-3.5 4-1.5 4 0 2 1.5 2 4 3.5 2-1 4.5-4.5 2-6 1.5-2 4 0 8 1.5 2 2 2.5 6.5 6.5 10 3 7.5 3.5 4.5 0 4-1 2-2.5 2-14 3-2 1.5-1 1.5-3.5 8-1 6 1.5 4 1.5 2 4.5 2 4-1 10-3 2-2 2-4 4-3 1.5-3-0.5-4-3-6-1-8 1-1 2-7-1-8 1.5-10-4-6-2-4 1.5-6 4-6 0.5-10 6.5 0-0.5 10-6.5 6-2 3.5-0.5 2.5 0.5 2 4 6 1 2-1.5 8 1.5 10-0.5 8 2.5 12 3 6-1.5 10-2.5 5.5-2 1-14 0-10 1.5-8-2-1.5-2-1.5-6 1.5-8 5.5-10.5 2-2 8.5-3.5 2-2-0.5-8-3-8-5-9-2-1-6-0.5-4 0.5-8 7.5-2 0-2.5-1.5-3.5-4-1.5-2 0-2 2.5-10 0.5-20zM12 52.5l5 1.5 4 2 3 2 0 2 0.5-2 7.5-1.5 2 0.5 1 1 0.5 2-1.5 2-2 1-3.5-1-4.5-2-4 3-6 2-22 0.5 0-2 20-0.5 3.5-1 3-2 0.5-2-5-3-6-1-16 0 0-2zM16 87.5l2-0.5 2 1.5 3.5 3.5 0 8-1.5 2-2 1-2 0.5-2-1.5-2-2.5-2-5.5 0-2 0.5-2zM14 90l-1 2 0 2 2 4 3 3 2 0 1-1 1-2 0.5-6-1.5-2-3-2-2 0.5zM52 87.5l2 0 3.5 0.5 4 2 2 2-1.5 2-4 2.5-4 0.5-2-1-3.5-2-1-2 1-2zM50.5 90l-1.5 2 1.5 2 3.5 1.5 2 0.5 2-1 2-1 1.5-2-2-2-3.5-1.5-2 0zM4 118.5l4 1.5 2 2 0.5 2-0.5 6-2 3.5-4 2-12 0.5 0-1.5 10 0 2.5-0.5 3-2 1-2 0.5-2 0-4-0.5-2-2.5-2-4-1-10 0 0-1zM22 125l2 0.5 2.5 4.5-1.5 2-1 0.5-2 0-1.5-2.5zM4 143l6 2 4 2.5 2.5 2.5 1.5 2 0 2-2 2.5-4 1-20 0.5 0-1 20-0.5 2-1 2-1.5 0-2-1.5-2-2.5-2-8-2.5-12-0.5 0-2zM90 149.5l4-1 6 0 6 2 3 1.5 0.5 2-0.5 2-1 1-8 2-6 0-4-0.5-2-1.5-1.5-3 0.5-2zM92 150l-3.5 2-0.5 2 1.5 2 2.5 1.5 6 0.5 6-1 3-1 1.5-2-1-2-5.5-2-4-0.5z"/><path fill="#f3ff0c" stroke="#f3ff0c" stroke-width="0.6" fill-rule="evenodd" d="M98 -8l0 10 2 2.5 4 1.5 2-1.5 1-2.5 0-10 7.5 0-0.5 10-4 6-1.5 6 2 4 4 6-1.5 10 1 8-2 7-1 1 1 8 3 6 0.5 4-1.5 3-4 3-2 4-2 2-2 1-12 3-4.5-2-1.5-2-1.5-4 0.5-4 1.5-4 3.5-7.5 4-2 12-2.5 2.5-2 1-2 0-4-3.5-4.5-3-7.5-6.5-10-2.5-6.5-2-2-2-0.5-6-1-4 0-1.5 2-2 6-4.5 4.5-2 1-2-1.5-3.5-4 0-2 1.5-4 3.5-4 1-2 2-8 0-12zM70 18l-2 1.5-1.5 2.5 0.5 2 1 1.5 2 1.5 2-1 2-2 0-2-0.5-2-1.5-1.5zM101.5 18l-1.5 1.5-1 2.5 0 2 1.5 2 1.5 2 2 1 3.5-1 2-2 0.5-2-1-2-3-3.5-2-1zM93.5 62l-1.5 1.5-2 2.5-2 6-1 4 1 2 2 2 2 1.5 2 0 9.5-3.5 2-2 0.5-2-0.5-6-1.5-4.5-2-1.5-4-1.5zM12 54.5l4 1.5 3 2-0.5 2-3 2-3.5 1-20 0.5 0-2 20-0.5 2-1 0.5-2-4.5-2-18 0 0-2zM14 90l2-1.5 2-0.5 3 2 1.5 2-0.5 6-1 2-1 1-2 0-3-3-2-4 0-2zM15.5 90l-1.5 2 0.5 2 1.5 3 2 2 2-1 1-4 0-2-3-3zM54 88.5l2 0 3.5 1.5 2 2-1.5 2-2 1-2 1-2-0.5-3.5-1.5-1.5-2 1.5-2zM52.5 90l-1.5 2 1.5 2 1.5 0.5 2 0 2-0.5 2-2-4-2.5-2 0zM4 119.5l4 2 1 2.5 0 2-0.5 4-1 2-3 2-2.5 0.5-10 0 0-1 10 0 2-0.5 1.5-1 1.5-2 0.5-4 0-2-1-2-2.5-1.5-12-0.5 0-1zM4 145.5l6 1.5 4.5 3 1.5 2 0 2-2 1.5-2 1-20 0.5 0-1.5 16 0 4-0.5 2-1 0.5-2-2.5-2-8-2.5-12 0 0-2.5zM92 150l6-0.5 4 0.5 5.5 2 1 2-1.5 2-3 1-6 1-6-0.5-2.5-1.5-1.5-2 0.5-2zM90.5 152l-0.5 2 2 2 2 0.5 4 0 4 0 4-1.5 1-1-1-2-6-1.5-6 0z"/><path fill="#ffdc00" stroke="#ffdc00" stroke-width="0.6" fill-rule="evenodd" d="M107 -8l0 10-1 2.5-2 1.5-4-1.5-2-2.5 0-10zM70 18l2 0.5 1.5 1.5 0.5 2 0 2-2 2-2 1-2-1.5-1-1.5-0.5-2 1.5-2.5zM102 17.5l2 0 2 1 3 3.5 1 2-0.5 2-2 2-3.5 1-2-1-2-2.5-1-1.5 0-2 1-2.5zM10 56l4.5 2-0.5 2-4 1.5-18 0 0-5.5zM94 62l4-1.5 2 0.5 2.5 1 1.5 1.5 1.5 4.5 0.5 6-0.5 2-2 2-9.5 3.5-2 0-2-1.5-2-2-1-2 1-4 2-6 2-2.5zM95 64l-3 3.5-2.5 6.5 0 2 1.5 2 3 1.5 4.5-1.5 3.5-2 1-2 0-6-1-2-2-2-2-1zM16 89.5l2-0.5 3 3 0 2-1 4-2 1-2-2-1.5-3-0.5-2zM15.5 92l0.5 2.5 2 2 2-2.5 0-2-2-1.5-2 0.5zM54 89.5l3.5 0.5 2.5 2-2 2-2 0.5-2 0-1.5-0.5-1.5-2 1.5-2zM52.5 92l1.5 1.5 2 0 2-1.5-2-1.5-2 0zM2 120l2 0.5 2.5 1.5 1 2 0 2-0.5 4-1.5 2-3.5 1.5-10 0 0-1 10 0 2-1 1.5-1.5 0.5-4 0.5-2-2.5-2.5-2-0.5-10 0 0-1zM4 147.5l6 1.5 2 1 2 1.5 0 2.5-2 1-4 0.5-16 0 0-1 17.5-0.5 2.5-2-8-2-12-0.5 0-2zM92 151l8-0.5 6 1.5 1 2-1 1-4 1.5-4 0-4 0-2-0.5-2-2 0.5-2zM93 152l-1 2 4 1 4 0.5 5-1.5-1.5-2-3.5-1z"/><path fill="#ffae00" stroke="#ffae00" stroke-width="0.6" fill-rule="evenodd" d="M96 63.5l2-0.5 2 1 2 2 1 2 0 6-1 2-3.5 2-4.5 1.5-3-1.5-1.5-2 0-2 2.5-6.5 2-2.5zM96.5 66l-2 2-2.5 6 0 2 2 1.5 3.5-1.5 2-2 0.5-2 0-4.5-2-2zM16 91l2-0.5 2 1.5 0 2-2 2.5-2-2.5-0.5-2zM17.5 92l0.5 1 0.5-1zM54 90.5l2 0 2 1.5-2 1.5-2 0-1.5-1.5zM2 121l3 1 1.5 2-0.5 2-0.5 4-1.5 1.5-2 1-10 0 0-1.5 10-0.5 2-1.5 0.5-3 0-2-2-2-10.5 0 0-1zM4 150l8 2-2.5 2-17.5 0.5 0-5zM100 151l2 0.5 1.5 0.5 1.5 2-5 1.5-6-0.5-2-1 1-2zM97.5 154l3.5 0-1-1z"/><path fill="#ff8000" stroke="#ff8000" stroke-width="0.6" fill-rule="evenodd" d="M98 65.5l2 2.5-0.5 6-2 2-3.5 1.5-2-1.5 0-2 2.5-6 1.5-2zM18 91.5l0 1.5-0.5-1zM2 122l2 1 0.5 1 0 2-0.5 3-1 1-3 1-8 0 0-3.5 8-0.5 2-1 0.5-2-0.5 0-10-0.5 0-1.5zM100 153l1 1-3.5 0z"/><path fill="#ff5100" stroke="#ff5100" stroke-width="0.6" fill-rule="evenodd" d="M2 124l0.5 0-0.5 2-2 1-8 0.5 0-4z"/></g></g><path d="M160.8 -7.7L147.0 27.9L148.9 41.4L149.5 57.0L156.4 62.1L167.1 63.8L168.9 75.5L163.3 81.3L156.4 90.2L159.5 95.8L164.6 99.0L183.3 99.0L233.4 36.9L233.4 -7.7ZM21.3 29.3L56.3 29.3L62.6 35.1L59.4 43.1L56.3 49.2L61.3 53.6L58.2 54.0L21.3 54.0ZM50.1 54.9L62.6 57.0L66.9 61.3L69.4 69.7L70.7 77.2L48.8 79.2L51.9 71.4L46.9 66.3ZM33.2 80.0L72.0 80.0L75.1 83.7L67.6 87.8L65.7 95.8L61.3 99.0L48.8 98.2L33.2 99.8ZM-1.9 80.0L32.5 80.0L32.5 103.0L14.4 103.0L11.3 95.8L-1.9 93.4ZM-1.9 72.2L15.0 72.2L15.0 80.5L-1.9 80.5ZM-1.9 51.0L20.0 51.0L20.0 70.9L-1.9 70.9ZM-3.1 104.1L13.1 104.1L14.4 115.5L10.6 124.7L-3.1 123.1ZM105.1 114.7L108.9 114.7L110.1 120.8L108.2 126.9L103.2 128.5L102.6 123.1L105.1 119.3ZM127.0 155.9L152.0 154.4L152.0 195.6L114.5 195.6L118.9 165.3L124.5 164.6Z" fill="#fff" stroke="#fff" stroke-width="1.5" stroke-linejoin="round"/><circle cx="48.8" cy="44.0" r="3.3" fill="#00e5ff"/><circle cx="53.2" cy="40.5" r="3.3" fill="#1affe5"/><circle cx="64.4" cy="39.6" r="3.3" fill="#0080ff"/><circle cx="51.9" cy="49.2" r="3.3" fill="#05fffa"/><circle cx="56.3" cy="60.4" r="3.3" fill="#0080ff"/><circle cx="10.6" cy="60.4" r="3.3" fill="#ffc700"/><circle cx="26.9" cy="85.4" r="3.3" fill="#004dff"/><circle cx="23.1" cy="82.9" r="3.3" fill="#0061ff"/><circle cx="15.0" cy="92.6" r="3.3" fill="#ff4c00"/><circle cx="18.8" cy="95.8" r="3.3" fill="#ff9e00"/><circle cx="21.9" cy="93.4" r="3.3" fill="#4dffb2"/><circle cx="13.1" cy="95.8" r="3.3" fill="#faff05"/><circle cx="39.4" cy="89.4" r="3.3" fill="#0080ff"/><circle cx="43.2" cy="91.8" r="3.3" fill="#0061ff"/><circle cx="64.4" cy="86.2" r="3.3" fill="#0080ff"/><circle cx="54.4" cy="93.4" r="3.3" fill="#ff1a00"/><circle cx="58.8" cy="95.8" r="3.3" fill="#ff4c00"/><circle cx="49.4" cy="96.6" r="3.3" fill="#1affe5"/><circle cx="56.3" cy="99.0" r="3.3" fill="#2effd1"/><circle cx="66.9" cy="91.0" r="3.3" fill="#4dffb2"/><circle cx="1.9" cy="127.7" r="3.3" fill="#ff8000"/><circle cx="4.4" cy="130.0" r="3.3" fill="#ffb300"/><circle cx="130.1" cy="158.1" r="3.3" fill="#0000d1"/><circle cx="132.6" cy="161.3" r="3.3" fill="#0000d1"/><circle cx="135.1" cy="158.1" r="3.3" fill="#fa0000"/><circle cx="127.6" cy="160.3" r="3.3" fill="#0000e6"/><circle cx="161.4" cy="95.8" r="3.3" fill="#004dff"/><circle cx="156.4" cy="63.4" r="3.3" fill="#0080ff"/><circle cx="158.9" cy="62.5" r="3.3" fill="#0061ff"/>
<clipPath id="c3"><rect x="-1" y="-1" width="236.0" height="214.7"/></clipPath>
<g clip-path="url(#c3)"><use href="#st"/></g>
</g>
<rect x="195.7" y="486.2" width="234.0" height="213.1" fill="none" stroke="#000" stroke-width="0.9"/>
<rect x="441.2" y="483.6" width="23.6" height="218.2" fill="url(#jet)" stroke="#222" stroke-width="0.7"/>
<line x1="462.3" x2="464.8" y1="692.0" y2="692.0" stroke="#222" stroke-width="0.8"/>
<text x="473.4" y="699.5" font-size="20.5" font-weight="bold" fill="#262626">-2</text>
<line x1="462.3" x2="464.8" y1="642.2" y2="642.2" stroke="#222" stroke-width="0.8"/>
<text x="473.4" y="649.7" font-size="20.5" font-weight="bold" fill="#262626">-1</text>
<line x1="462.3" x2="464.8" y1="592.7" y2="592.7" stroke="#222" stroke-width="0.8"/>
<text x="473.4" y="600.2" font-size="20.5" font-weight="bold" fill="#262626">0</text>
<line x1="462.3" x2="464.8" y1="542.9" y2="542.9" stroke="#222" stroke-width="0.8"/>
<text x="473.4" y="550.4" font-size="20.5" font-weight="bold" fill="#262626">1</text>
<line x1="462.3" x2="464.8" y1="493.8" y2="493.8" stroke="#222" stroke-width="0.8"/>
<text x="473.4" y="501.3" font-size="20.5" font-weight="bold" fill="#262626">2</text>
<text x="307.7" y="731.8" font-size="23" font-weight="bold" text-anchor="middle" fill="#262626">SAT-RAP 850 hPa MR (g/kg)</text>
<text x="240.2" y="466.7" font-size="12.3" font-weight="bold" text-anchor="end" fill="#262626">100</text>
<circle cx="245.0" cy="454.1" r="1.25" fill="none" stroke="#262626" stroke-width="1"/>
<text x="252.4" y="466.7" font-size="12.3" font-weight="bold" fill="#262626">W</text>
<text x="300.9" y="466.7" font-size="12.3" font-weight="bold" text-anchor="end" fill="#262626">90</text>
<circle cx="305.7" cy="454.1" r="1.25" fill="none" stroke="#262626" stroke-width="1"/>
<text x="314.6" y="466.7" font-size="12.3" font-weight="bold" fill="#262626">W</text>
<text x="364.2" y="466.7" font-size="12.3" font-weight="bold" text-anchor="end" fill="#262626">80</text>
<circle cx="369.0" cy="454.1" r="1.25" fill="none" stroke="#262626" stroke-width="1"/>
<text x="377.9" y="466.7" font-size="12.3" font-weight="bold" fill="#262626">W</text>
<text x="427.4" y="466.7" font-size="12.3" font-weight="bold" text-anchor="end" fill="#262626">70</text>
<circle cx="432.2" cy="454.1" r="1.25" fill="none" stroke="#262626" stroke-width="1"/>
<text x="441.1" y="466.7" font-size="12.3" font-weight="bold" fill="#262626">W</text>
<text x="163.3" y="502.2" font-size="12.3" font-weight="bold" text-anchor="end" fill="#262626">48</text>
<circle cx="168.0" cy="488.6" r="1.2" fill="none" stroke="#262626" stroke-width="1"/>
<text x="176.3" y="502.2" font-size="12.3" font-weight="bold" fill="#262626">N</text>
<text x="163.3" y="521.3" font-size="12.3" font-weight="bold" text-anchor="end" fill="#262626">46</text>
<circle cx="168.0" cy="507.7" r="1.2" fill="none" stroke="#262626" stroke-width="1"/>
<text x="176.3" y="521.3" font-size="12.3" font-weight="bold" fill="#262626">N</text>
<text x="163.3" y="538.5" font-size="12.3" font-weight="bold" text-anchor="end" fill="#262626">44</text>
<circle cx="168.0" cy="524.9" r="1.2" fill="none" stroke="#262626" stroke-width="1"/>
<text x="176.3" y="538.5" font-size="12.3" font-weight="bold" fill="#262626">N</text>
<text x="163.3" y="555.7" font-size="12.3" font-weight="bold" text-anchor="end" fill="#262626">42</text>
<circle cx="168.0" cy="542.1" r="1.2" fill="none" stroke="#262626" stroke-width="1"/>
<text x="176.3" y="555.7" font-size="12.3" font-weight="bold" fill="#262626">N</text>
<text x="163.3" y="572.6" font-size="12.3" font-weight="bold" text-anchor="end" fill="#262626">40</text>
<circle cx="168.0" cy="559.0" r="1.2" fill="none" stroke="#262626" stroke-width="1"/>
<text x="176.3" y="572.6" font-size="12.3" font-weight="bold" fill="#262626">N</text>
<text x="163.3" y="587.6" font-size="12.3" font-weight="bold" text-anchor="end" fill="#262626">38</text>
<circle cx="168.0" cy="574.0" r="1.2" fill="none" stroke="#262626" stroke-width="1"/>
<text x="176.3" y="587.6" font-size="12.3" font-weight="bold" fill="#262626">N</text>
<text x="163.3" y="603.9" font-size="12.3" font-weight="bold" text-anchor="end" fill="#262626">36</text>
<circle cx="168.0" cy="590.3" r="1.2" fill="none" stroke="#262626" stroke-width="1"/>
<text x="176.3" y="603.9" font-size="12.3" font-weight="bold" fill="#262626">N</text>
<text x="163.3" y="618.9" font-size="12.3" font-weight="bold" text-anchor="end" fill="#262626">34</text>
<circle cx="168.0" cy="605.3" r="1.2" fill="none" stroke="#262626" stroke-width="1"/>
<text x="176.3" y="618.9" font-size="12.3" font-weight="bold" fill="#262626">N</text>
<text x="163.3" y="635.3" font-size="12.3" font-weight="bold" text-anchor="end" fill="#262626">32</text>
<circle cx="168.0" cy="621.7" r="1.2" fill="none" stroke="#262626" stroke-width="1"/>
<text x="176.3" y="635.3" font-size="12.3" font-weight="bold" fill="#262626">N</text>
<text x="163.3" y="650.3" font-size="12.3" font-weight="bold" text-anchor="end" fill="#262626">30</text>
<circle cx="168.0" cy="636.7" r="1.2" fill="none" stroke="#262626" stroke-width="1"/>
<text x="176.3" y="650.3" font-size="12.3" font-weight="bold" fill="#262626">N</text>
<text x="163.3" y="663.1" font-size="12.3" font-weight="bold" text-anchor="end" fill="#262626">28</text>
<circle cx="168.0" cy="649.5" r="1.2" fill="none" stroke="#262626" stroke-width="1"/>
<text x="176.3" y="663.1" font-size="12.3" font-weight="bold" fill="#262626">N</text>
<text x="163.3" y="677.0" font-size="12.3" font-weight="bold" text-anchor="end" fill="#262626">26</text>
<circle cx="168.0" cy="663.4" r="1.2" fill="none" stroke="#262626" stroke-width="1"/>
<text x="176.3" y="677.0" font-size="12.3" font-weight="bold" fill="#262626">N</text>
<text x="163.3" y="691.7" font-size="12.3" font-weight="bold" text-anchor="end" fill="#262626">24</text>
<circle cx="168.0" cy="678.1" r="1.2" fill="none" stroke="#262626" stroke-width="1"/>
<text x="176.3" y="691.7" font-size="12.3" font-weight="bold" fill="#262626">N</text>
<text x="163.3" y="703.5" font-size="12.3" font-weight="bold" text-anchor="end" fill="#262626">22</text>
<circle cx="168.0" cy="689.9" r="1.2" fill="none" stroke="#262626" stroke-width="1"/>
<text x="176.3" y="703.5" font-size="12.3" font-weight="bold" fill="#262626">N</text>
<g transform="translate(616.4 486.2) scale(0.9991 1.0019)">
<clipPath id="s4"><path d="M7.5 -3.2L215.3 -3.2L175.3 80.4L159.3 119.4L150.3 147.4L143.3 173.4L139.5 179.5L134.3 181.0L124.3 177.5L67.0 166.0L2.0 157.5L-3.0 155.5L-3.6 150.0L-2.4 103.4L0.3 63.4L2.5 35.0Z"/></clipPath><g clip-path="url(#s4)"><g filter="url(#tx)"><path fill="#0000f3" stroke="#0000f3" stroke-width="0.6" fill-rule="evenodd" d="M168 81l2 0 2 1 6 5.5 4 1.5 60 0 0 4.5-66-0.5-1-1-2-4-6-4-0.5-2z"/><path fill="#0023ff" stroke="#0023ff" stroke-width="0.6" fill-rule="evenodd" d="M168 79.5l4 0.5 6 3.5 4 1 60 0 0 4.5-58 0-4-0.5-2-1-5.5-5.5-2.5-1-2 0-1.5 1 0.5 2 6 4 2 4 1 1 66 0.5 0 2.5-66.5 0-1.5-0.5-1-1.5-1-4-1-2-6-4-0.5-2 1.5-2z"/><path fill="#0051ff" stroke="#0051ff" stroke-width="0.6" fill-rule="evenodd" d="M156 63.5l1.5 0.5-1.5 1-0.5-1zM166 79l4-1 8 4 4 0.5 60 0 0 2-60 0-4-1-6-3.5-4-0.5-2 0.5-1.5 2 0.5 2 6 4 1 2 1 4 1 1.5 1.5 0.5 66.5 0 0 2-68 0-2-1-1-7-1-2-2-1.5-5-2.5 0-2 1.5-2zM42 85.5l3 0.5-3 0.5-2-0.5z"/><path fill="#0080ff" stroke="#0080ff" stroke-width="0.6" fill-rule="evenodd" d="M156 61l2 0.5 1.5 2.5-0.5 4-1 2-2-0.5-2.5-3.5-0.5-2 1-1.5zM155.5 64l0.5 1 1.5-1-1.5-0.5zM166 77.5l4-0.5 8 3 4 1 60 0 0 1.5-60 0-4-0.5-6-3-4-1-3.5 2-1.5 2 0 2 5 2.5 3 3.5 1 7 2 1 68 0 0 2-70 0-1.5-2 0.5-6-0.5-2-2.5-3-6.5-3 0-2 1-2zM38 84l2-1 6 0 2 1 1 2-3 3-2 1-2 0-2-1-2.5-3zM40 86l2 0.5 3-0.5-3-0.5z"/><path fill="#00aeff" stroke="#00aeff" stroke-width="0.6" fill-rule="evenodd" d="M58 44l2 2.5 3 13.5-1 3.5-4 1-2-0.5-3.5-4-0.5-2-1-10 0.5-2 4.5-2zM88 44l1 2-1 1.5-2.5-1.5zM156 59.5l2 0.5 2 1 1.5 3 0 6-1.5 1.5-2 1-3-0.5-3-1.5-1-2.5 0.5-4 1-2 1.5-1.5zM154 62l-1 2 1 3.5 2 2 2 0.5 1-2 0.5-4-1.5-2.5-2-0.5zM66 66l2 2-2 2-2-2 1-2zM168 75.5l4 0.5 6 2.5 4 0.5 60 0.5 0 1.5-58 0-6-1-6-2.5-4-0.5-2 0.5-3.5 2.5-1 2 0 2 6.5 3 2.5 3 0.5 2-0.5 6 1.5 2 70 0 0 2.5-72.5-0.5-1-2 2-6-0.5-4-1.5-2-2.5-1.5-6.5-2.5 0.5-2 2-3 2-2zM38 81.5l2-0.5 4 0 4 0.5 3.5 2.5 0.5 2-6 5.5-2 1-2 0.5-4-3.5-3-3.5 0.5-2zM38 84l-0.5 2 2.5 3 2 1 2 0 2-1 3-3-1-2-2-1-6 0zM148 100l0.5 2-0.5 0.5-1-0.5z"/><path fill="#00dcff" stroke="#00dcff" stroke-width="0.6" fill-rule="evenodd" d="M56 37.5l2 0.5 5.5 6 7.5 16 0 10-1 2-2 1.5-2 0.5-6-1.5-5.5-2.5-2.5-2-4-5.5-5-10.5-3-3-4-3 1.5-2 4.5-2.5 6-2zM56 44l-4.5 2-0.5 2 1 10 2 4 2 2 4 0.5 2-1 0.5-1.5 0-4-2.5-12-2-2zM65 66l-1 2 1.5 2 1 0 1.5-2-2-2zM88 40l2 0.5 1.5 1.5 1 2 0 2-4.5 5-2 0-2.5-1-1.5-2-0.5-2 3.5-4zM87.5 44l-2 2 2.5 1.5 1-1.5-1-2zM156 58l4 1 3 3 1 4 0 7.5 2 0.5 4-0.5 4 1 4 2 4 0.5 60 0 0 2.5-58 0-6-1-8-3-4 0.5-2 1-3 3-1 2-0.5 2 6.5 2.5 2.5 1.5 1.5 2 0.5 4-2 6 1 2 72.5 0.5 0 2-80 0-2-0.5-0.5-2 0.5-0.5 4 0 2-0.5 2-2 2-5-0.5-4-3.5-3-8-1-1.5-2 0.5-2 3.5-4 1.5-2.5-2-1-4 0.5-10-1.5-2-1-1-2.5 1-3 4-3 3.5-4 2.5-1.5zM152.5 62l-1 2 0 6 2.5 1.5 4 1 2-1 1.5-1.5 0-6-1-2-2-2-2.5-0.5zM24 74l2 1 1 1-0.5 2-2.5 0.5-1.5-0.5-0.5-2zM38 79.5l8 0 4 0.5 4 2.5 1 1.5 0 2-9 8-2 1-2 0-2-1.5-7-7.5 0-2 1-2zM37.5 82l-2 2-0.5 2 3 3.5 4 3.5 2-0.5 2-1 6-5.5-0.5-2-3-2-2.5-1-6 0zM126 98l2 2-2 2-4-2 2-2zM148 97.5l2 2.5 0 2-2 3-2-1-1.5-2 0.5-2 1-1.5zM148 100l-1 2 1 0.5 0.5-0.5z"/><path fill="#0cfff3" stroke="#0cfff3" stroke-width="0.6" fill-rule="evenodd" d="M134 28l2 2 1 2-3 1-1-1zM56 30.5l2 0 12 16 2 0.5 8-4.5 6-5 6-3.5 2-3 2-1 2 2 0.5 2-2.5 12-1.5 2-6.5 6-6 3.5-4 3.5-2 3.5-1.5 5.5-2.5 4-2 2-4 2-7 0-0.5 2 0 4-1 2-11 10-2.5 1-2 0-2-1-7.5-8-1.5-2-1.5-4-1.5-1-4-0.5-3.5-2.5-1-2 0.5-2.5 2-2.5 2-0.5 4 0.5 2 2.5 2 4.5 6-1.5 14-0.5-4-1-4.5-3-2-2-0.5-2-0.5-8-0.5-2-2-1-8-1.5-4-1.5-4.5-4-3-4 1-2 1.5-2 3-2.5 4-2.5 12-3.5zM54.5 38l-12.5 3.5-4.5 2.5-1.5 2 4 3 3 3 5 10.5 4 5.5 2.5 2 5.5 2.5 6 1.5 2-0.5 2-1.5 1-2 0.5-8-1-4-3.5-6-2.5-6-2.5-4-4-4zM88 40l-4 3-2.5 3 0.5 2 1.5 2 2.5 1 2 0 4.5-5 0-2-1-2-1.5-1.5zM23.5 74l-1.5 2 0.5 2 1.5 0.5 2.5-0.5 0.5-2-2.5-2zM37 80l-3 2-1 2 0 2 7 7.5 2 1.5 2 0 2-1 9-8 0-2-1-1.5-4-2.5-6-1-4 0zM146 36.5l4-0.5 92 0 0 41-60 0-4-0.5-4-2-4-1-4 0.5-2-0.5 0-7.5-1-4-3-3-4-1-2 0.5-2.5 1.5-3.5 4-4 3-1 3 1 2.5 2 1 10 1.5 4-0.5 2 1-1.5 2.5-3.5 4-0.5 2 1.5 2 8 1 3.5 3 0.5 4-2 5-2 2-2 0.5-4 0-0.5 0.5 0.5 2 2 0.5 80 0 0 2.5-82 0-2-3 0-2 2-2 4 0.5 2-1 3-3.5 0.5-4-0.5-2-1-1-2-1.5-2-1-4 0-2 0.5-4 3-1-2-1-5.5-2-0.5-4 1-2-1-4.5-12 1-4 3-8-2.5-14 1-5.5zM148 95.5l2 0.5 1 4-0.5 4-0.5 2-2 1-2-1-2-1.5-1.5-2.5 0.5-2 1-2 2-2zM145 100l-0.5 2 1.5 2 2 1 2-3 0-2-2-2.5zM120 97.5l4-1.5 2 0 3 2 1 2-0.5 2-3.5 0.5-3-0.5-4.5-2zM124 98l-2 2 4 2 2-2-2-2z"/><path fill="#3affc5" stroke="#3affc5" stroke-width="0.6" fill-rule="evenodd" d="M60 -8l-1 26 3 7.5 2 6.5 4 5.5 2 2.5 2 0.5 8-3 6-3.5 6-7 4-2 4 2 2 2 1 3-0.5 6-1.5 6-5 6.5-8.5 7.5-6.5 8-7 12.5-12 6.5-8 7-4 4-4 3-4 0-4-2.5-11-12.5-7-4-4-3.5-24 0 0-84.5zM40 33.5l-12 3.5-4 2.5-3 2.5-1.5 2-1 2 3 4 4.5 4 4 1.5 8 1.5 2 1 0.5 2 0.5 8 0.5 2 2 2 4.5 3 4 1-14 0.5-6 1.5-2-4.5-2-2.5-4-0.5-2 0.5-2 2.5-0.5 2.5 1 2 3.5 2.5 4 0.5 1.5 1 1.5 4 1.5 2 7.5 8 2 1 2 0 2.5-1 11-10 1-2 0-4 0.5-2 7 0 4-2 2-2 2.5-4 1.5-5.5 2-3.5 4-3.5 6-3.5 6.5-6 1.5-2 2.5-12-0.5-2-2-2-2 1-2 3-6 3.5-6 5-8 4.5-2-0.5-12-16-2 0zM242 -8l0 44-96 0.5-4 2-1 3.5 0 4 2.5 12-3 8-1 4 4.5 12 2 1 4-1 2 0.5 1 5.5 1 2 4-3 4-0.5 4 1 3 2.5 0.5 4-2 4-1.5 1.5-2 1-4-0.5-2 2 0 2 2 3 82 0 0 3.5-80 0-5-0.5-0.5-2 1-8 0.5-0.5 6 0.5 2-1 2-2.5 1-2.5 0-2-0.5-2-2.5-2.5-2-0.5-4 0.5-1.5 0.5-2 2-1 4-3 4-0.5 11.5-2 0.5-2-0.5-4-2-2-1.5-1.5-2-0.5-4 2-4 2-2 0.5-2-4.5-4-1-2-0.5-8-1.5-6-0.5-4 3-10-1.5-5-1.5-3-1-4-1.5-3-2-0.5-2 2-0.5 1.5 3.5 6 1.5 4 0.5 2-1.5 4-1.5 1.5-2 1-2-0.5-2-2.5-3.5-9.5-3.5-6 0-2 5-10 0.5-2-2-16 0-24zM133 32l1 1 3-1-1-2-2-2zM146 96l-2 2-1 2-0.5 2 1.5 2.5 2 1.5 2 1 2-1 0.5-2 0.5-6-1-2-2-0.5zM118 96l6-1.5 4 0 2 1 1.5 2.5 0 4-1.5 1.5-2 0-7.5-1.5-4.5-2-0.5-2zM119.5 98l-1 2 4.5 2 3 0.5 3.5-0.5 0.5-2-1-2-3-2-4 1zM34 108l4-0.5 1.5 0.5 1 2-0.5 4-2 5.5-2 2.5-6-0.5-2-0.5-1.5-1-0.5-2 2-5 1.5-3zM102 159.5l8 0 1 0.5 0.5 2 0 60-11.5 0 0-58 0-2 1-2z"/><path fill="#68ff97" stroke="#68ff97" stroke-width="0.6" fill-rule="evenodd" d="M60 -8l62.5 0 0 26 2 14-0.5 2-5 10 0 2 3.5 6 3.5 9.5 2 2.5 2 0.5 2-1 1.5-1.5 1.5-4-0.5-2-1.5-4-3.5-6 0.5-1.5 2-2 2 0.5 1.5 3 1 4 1.5 3 1.5 5-3 10 0.5 4 1.5 6 0.5 8 1 2 4.5 4-0.5 2-3.5 4-0.5 4 0.5 2 1.5 2 2 1.5 4 2 2 0.5 2-0.5 0.5-11.5 3-4 1-4 2-2 1.5-0.5 4-0.5 2 0.5 2.5 2.5 0.5 2 0 2-1 2.5-2 2.5-2 1-6-0.5-0.5 0.5-1 8 0.5 2 5 0.5 80 0 0 15.5-96 0 2-2-12 0-0.5-14-1.5-5-4 0-18-5-3.5-4 1.5-0.5 1.5-1.5 7-2 3.5-2.5 2-3 2.5-6.5 1-8 0-2-3.5-4.5-4-7.5-8-10.5-2-0.5-10 5.5-8 5.5-10 13.5-2.5 4.5-1.5 5-2 2.5-18 7.5-3 3-3 4-6 4-1.5 2 1 2 0 2 0.5 20 2 6 1 0 1 2 26 0 2-2 0-28 6 0 0 14 2 2 0 2 4 4 0 2 6 6 26 0 0 14-3 6-0.5 4 0 62-7 0 0-60-0.5-2-1-0.5-2-0.5-6 0.5-1 0.5-1 2 0 60-108 0 0-56 42 0 2-2 0-18-1-2 0-12-0.5-2-1.5-2-3-2.5-4-1.5-4-0.5-1-3.5 5-10 2-2 6-3.5 8-1.5 1.5-1-3.5-1-4-3-4-6-6-6.5-8-4.5-4-1-8 1-14 0.5 0-5 24 0 4 3.5 7 4 11 12.5 4 2.5 4 0 4-3 4-4 8-7 12-6.5 7-12.5 6.5-8 9-8 3.5-4 1.5-4 1.5-6 0-4-1-3-2-2-4-2-4 2-6 7-6 3.5-8 3-2-0.5-2-2.5-4-5.5-2-6.5-3-7.5zM81 0l-1 0-1 2-1 0.5-8 9-2.5 6.5 1.5 14 1 1.5 2 1 9.5-2.5 3.5-6 3-3.5 4-2 8.5-2.5 0.5-2-3-8-4-7-2-1 0-1.5-2-0.5-8 0zM160 88l-2.5 2-0.5 2 0 4 1.5 2 3.5 1 2 0 2-0.5 2-2.5 1-4-1-2-2-2-2-0.5zM118 96l-2.5 2 0.5 2 4.5 2 9.5 1.5 1.5-1.5 0-4-1.5-2.5-2-1-4 0zM153 102l1 3 1.5-3 0-2-1.5-1zM33.5 108l-4 2-3.5 8 0.5 2 3.5 1.5 6 0.5 2-2.5 2-5.5 0.5-4-1-2-1.5-0.5z"/><path fill="#97ff68" stroke="#97ff68" stroke-width="0.6" fill-rule="evenodd" d="M82 -2l8 0 2 0.5 0 1.5 2 1 4 7 3 8-0.5 2-8.5 2.5-4 2-3 3.5-3.5 6-9.5 2.5-2-1-1-1.5-1.5-14 2.5-6.5 8-9 1-0.5 1-2 1 0zM110 47l2 0.5 8 10.5 4 7.5 3.5 4.5 0 2-1 8-2.5 6.5-2 3-3.5 2.5-7 2-1.5 1.5-1.5 0.5 3.5 4 18 5 4 0 1.5 5 0.5 14 12 0-2 2 96 0 0 19-96 0-2 0-4-2-2-0.5-2 0-2 1-6 8-4.5 4.5-2.5 4 0.5 10 0 52-3 0 0-60 0.5-6 3-6 0-14-26 0-6-6 0-2-4-4 0-2-2-2 0-14-6 0 0 28-2 2-26 0-1-2-1 0-2-6-0.5-20 0-2-1-2 1.5-2 6-4 3-4 3-3 18-7.5 2-2.5 1.5-5 2.5-4.5 10-13.5 8-5.5zM104 58l-4 1-6 3.5-2 2-7.5 11.5-0.5 2 2 2 4 1 4 0 8-2 2 1.5 4 5 2 0.5 4 0 4-1 4-4.5 1-2.5 0-4-1.5-4-3.5-5.5-6-5.5-2-1zM60 94l-1.5 2-1.5 4-3 2.5-2 5.5 0.5 4 1.5 6 2 1 8-8.5 1-2.5 0-8 2-6zM111.5 102l-4.5 2-1.5 2-1 2 0.5 4 2.5 4 4.5 2.5 6 0.5 6-0.5 4-1.5 1-1 2.5-4 0-2 0-2-2-2-5.5-2.5-8-1.5zM14 80l4 1 8 4.5 6 6.5 4 6 4 3 3.5 1-1.5 1-8 1.5-6 3.5-2 2-5 10 1 3.5 4 0.5 4 1.5 3 2.5 1.5 2 0.5 2 0 12 1 2 0 18-2 2-42 0 0-9.5 22 0.5 4-1.5 3-3.5-0.5-2-2-2-2.5-1.5-2-1-22 1 0-8 12 0 2-0.5 2-1.5 1.5-2.5 2.5-6 4-5.5 2-4.5 5.5-8 2.5-3 7-5 0.5-2-2-6-7.5-8-2-1-6-2-2-0.5-8 2.5-14 0 0-3.5 14-0.5zM25.5 128l-1.5 2 0 2 2 3.5 2 0 2-2 0.5-1.5-0.5-2-2-2zM160 88l4-0.5 2 0.5 2 2 1 2-1 4-2 2.5-2 0.5-2 0-3.5-1-1.5-2 0-4 0.5-2zM161.5 88l-3 2-1 4 0.5 2 2 1.5 2 1 2 0 2-1 1.5-1.5 1-2 0-2-0.5-2-2-1.5-2-0.5zM154 99l1.5 1 0 2-1.5 3-1-3z"/><path fill="#c5ff3a" stroke="#c5ff3a" stroke-width="0.6" fill-rule="evenodd" d="M110 58l2 1 6 5.5 3.5 5.5 1.5 4 0 4-1 2.5-4 4.5-4 1-4 0-2-0.5-4-5-2-1.5-8 2-4 0-4-1-2-2 0.5-2 7.5-11.5 2-2 6-3.5 2-1zM96 68l-1 2 1 2.5 4 1 4-1.5 2-2-1-2-3-2.5-2-0.5zM14 82.5l2 0.5 8 3 7.5 8 2 6-0.5 2-7 5-2.5 3-5.5 8-2 4.5-4 5.5-2.5 6-1.5 2.5-2 1.5-2 0.5-12 0 0-3.5 12 0 2-1 1.5-2 3.5-8 6-10 5.5-6 7-6 0.5-1.5-1-6.5-3-4-2-2-2-1-6-1.5-2-0.5-2.5 1-5.5 3.5-14 0.5 0-5 14 0zM162 88l2 0 2 0.5 2 1.5 0.5 2 0 2-1 2-1.5 1.5-2 1-2 0-2-1-2-1.5-0.5-2 1-4 1.5-1.5zM159 90l-1 2 0 2 1 2 3 2 2 0 2-1 2-3 0-2-0.5-2-1.5-1-2-1-2 0.5zM60 94l7 0-2 6 0 8-1 2.5-8 8.5-2-1-1.5-6-0.5-4 2-5.5 3-2.5 1.5-4zM112 102l12 1.5 5.5 2.5 2 2 0 2 0 2-2.5 4-1 1-4 1.5-6 0.5-6-0.5-4.5-2.5-2.5-4-0.5-4 1-2 1.5-2 3-1.5zM109.5 104l-3 4 0 2 2 4 3.5 3 4 1 8-0.5 3-1.5 2-2 1-4-0.5-2-1.5-2-2-1-10-2.5-4 0.5zM26 128l2 0 2 2 0.5 2-0.5 1.5-2 2-2 0-2-3.5 0-2zM134 143.5l2-1 2 0 2 0.5 4 2 2 0 96 0 0 6-96 0-2-0.5-0.5-0.5-1.5-1.5-0.5-2.5-1.5-1.5-2-1-2 0-3 2.5-1 3.5-2 2.5-6 5.5-1.5 2.5 0 4 2.5 6 0.5 52-4 0 0-52-0.5-10 2.5-4 4.5-4.5zM14 145.5l2 1 2.5 1.5 2 2 0.5 2-3 3.5-4 1.5-22-0.5 0-10zM10.5 150l-3.5 2 7 1 2-1-2-2.5z"/><path fill="#f3ff0c" stroke="#f3ff0c" stroke-width="0.6" fill-rule="evenodd" d="M100 65l2 0.5 2 1.5 1 1 1 2-2 2-4 1.5-2-0.5-2.5-1-0.5-2 1-2zM12 85.5l2-0.5 2 0.5 8 2.5 5 6 1 6-0.5 2-7 6-5.5 6-6 10-3.5 8-1.5 2-2 1-12 0 0-3.5 10 0 2-0.5 1.5-1 7.5-18 1.5-2 10-6 2-2 1-2-0.5-6-1.5-2-1.5-1.5-2-1-6-1.5-2-0.5-4 2.5-3 4-1 2.5-2 1.5-12 0 0-8 14-0.5zM160 89l2-0.5 2-0.5 2 1 1.5 1 0.5 2 0 2-2 3-2 1-2 0-3-2-1-2 0-2zM160 90l-1.5 2 0 2 1 2 2.5 1.5 2 0 2-1 1.5-2.5 0.5-2-1-2-3-1.5-2 0zM110 104l2-1 4-0.5 10 2.5 2 1 1.5 2 0.5 2-1 4-2 2-3 1.5-8 0.5-4-1-3.5-3-2-4 0-2 1-2zM111.5 104l-2.5 2-1 2 0 2 0.5 2 1.5 2 2.5 2 3.5 1 8-0.5 2-1 3-3.5 0.5-2-0.5-2-3-2.5-2-1-8-1.5zM136 143.5l2 0 2 1 1.5 1.5 0.5 2.5 1.5 1.5 0.5 0.5 2 0.5 96 0 0 71-116.5 0-0.5-52-2.5-6 0-4 1.5-2.5 6-5.5 2-2.5 1-3.5zM134 146l-1 4-5 6-3 2-1.5 2-0.5 2 1 2 2 2.5 2 0.5 2-0.5 6-4 2.5-2.5 2.5-4 0-2-1-8-2-2-2 0.5zM12 149.5l2.5 0.5 1.5 2-2 1-7-1z"/><path fill="#ffdc00" stroke="#ffdc00" stroke-width="0.6" fill-rule="evenodd" d="M14 87.5l8 2 2 1 1.5 1.5 1.5 2 0 2 0.5 4-1 2-6.5 5-5.5 3-1.5 2-7 17-2 2-12 0.5 0-8 10 0 2-0.5 2-3 0-2-0.5-4-1.5-3.5-12 0 0-12.5 12 0 2-1.5 1-2.5 3-4zM11.5 92l-1.5 2-1 6 0 2 1 2.5 2 1.5 2 0 6-2 4-3 0.5-3-0.5-4.5-2-1.5-6-1.5-2 0zM160 90l2-1.5 2 0 3 1.5 1 2-0.5 2-1.5 2.5-2 1-2 0-2.5-1.5-1-2 0-2zM160.5 90l-1 2-0.5 2 1.5 2 1.5 1 2 0 2-1 1-2 0.5-2-1-2-2.5-1-2 0zM112 103.5l4-0.5 8 1.5 2 1 3 2.5 0.5 2-0.5 2-3 3.5-2 1-8 0.5-3.5-1-2.5-2-1.5-2-0.5-2 0-2 1-2zM113.5 104l-3 2-1.5 2 0 2 0.5 2 2.5 2.5 4 1.5 6 0 4-1.5 2-2.5 0.5-2-0.5-2-2-2-4-1.5-6-0.5zM136 144.5l2-0.5 2 2 1 8 0 2-2.5 4-2.5 2.5-6 4-2 0.5-2-0.5-2-2.5-1-2 0.5-2 1.5-2 3-2 5-6 1-4zM135 146l-1 4-6 7-3.5 3-0.5 2 0.5 2 1.5 1.5 2 0 2-0.5 7-5 2.5-4 0.5-2-1-4 1-2-0.5-2-1.5-1-2 0z"/><path fill="#ffae00" stroke="#ffae00" stroke-width="0.6" fill-rule="evenodd" d="M162 89l2 0 2 0.5 1.5 2.5-0.5 2-1 2-2 1-2 0-1.5-1-1.5-2 0.5-2 0.5-1.5zM161.5 90l-1.5 2-0.5 2 2.5 2.5 2 0 2-1 1-1.5 0-2-1-2-2-0.5zM12 91.5l2-1 2 0 6 1.5 2 1.5 0.5 2.5 0 4-1 2-3.5 2-6 2-2 0-2-1.5-1-2.5 0-2 1-6zM13.5 94l-0.5 6 1 2 2 0 2.5-2 0-4-0.5-2-2-0.5-2 0zM114 104l8 0.5 4.5 1.5 1.5 2 0.5 2-0.5 2-2 2.5-4 1.5-6 0-4-1.5-2.5-2.5-0.5-2 0-2 1.5-2 1.5-1.5zM111.5 106l-1.5 2 0 2 0.5 2 2 2 3.5 1.5 8-0.5 2-1.5 1.5-1.5 0.5-2-0.5-2-1.5-1.5-2-1-8-1-2 0zM4 110.5l1.5 3.5 0.5 4 0 2-2 3-2 0.5-10 0 0-13zM136 145l2 0 1.5 1 0.5 2-1 2 1 4-0.5 2-2.5 4-7 5-2 0.5-2 0-1.5-1.5-0.5-2 0.5-2 3.5-3 6-7 1-4zM135.5 146l-0.5 4-7 8-3 2-0.5 2 1.5 2.5 2 0.5 2-1 2-2 4-2.5 2.5-3.5 0.5-2-1-4 1-2-0.5-2-0.5-0.5-2 0z"/><path fill="#ff8000" stroke="#ff8000" stroke-width="0.6" fill-rule="evenodd" d="M162 89.5l2 0 2 0.5 1 2 0 2-1 1.5-2 1-2 0-2.5-2.5 0.5-2zM162 90l-1.5 2 0 2 1.5 2 2 0 2-1.5 0.5-2.5-1.5-2-1-0.5zM14 93.5l2 0 2 0.5 0.5 2 0 4-2.5 2-2 0-1-2 0-4zM112 105.5l4-1 9.5 1.5 2 2 0.5 2-0.5 2-1.5 1.5-2 1.5-6 0.5-4-0.5-2-1.5-2-3.5 0-2zM112.5 106l-1.5 2-0.5 2 1.5 2.5 2 1.5 2 0.5 8-0.5 2-1.5 1.5-2.5-0.5-2-3-2-8-1zM136 145.5l2 0 0.5 0.5 0.5 2-1 2 1 4-0.5 2-2.5 3.5-4 2.5-2 2-2 1-2-0.5-1.5-2.5 0.5-2 3-2 7-8 0-2zM135.5 148l0.5 1.5 2-0.5 0.5-1-0.5-2-2 0.5zM134 152l-4.5 6-3.5 2-1 2 1 1.5 2 1 0.5-0.5 3.5-3 2-0.5 2.5-2.5 2-4-0.5-1.5-2-2z"/><path fill="#ff5100" stroke="#ff5100" stroke-width="0.6" fill-rule="evenodd" d="M164 89.5l2 1 0.5 1.5-0.5 2.5-2 1.5-2 0-1.5-2 0-2 1.5-2zM161 92l0 2 1 1 2 0.5 2-1.5 0.5-2-2.5-2-2 1zM114 105l2 0 8.5 1 2.5 2 0.5 2-1 2-2.5 2-2 0.5-6 0-2-0.5-2.5-2-1-2 0.5-2 1-1.5zM113.5 106l-2 2 0 2 1 2 3.5 2 8-1 1.5-1 1-2-0.5-2-2-1.5-8-1zM136 146.5l2-0.5 0.5 2-0.5 1-2 0.5-0.5-1.5zM134 151.5l2-1 2 2 0.5 1.5-2 4-2.5 2.5-2 0.5-3.5 3-0.5 0.5-2-1-1-1.5 1-2 3.5-2zM134 152.5l-2.5 3.5-0.5 2 1 1.5 2 0 1.5-1.5 1.5-2 0.5-2-1.5-2.5zM126 162l2 1.5 1.5-1.5 0-2-1.5-0.5z"/><path fill="#ff2300" stroke="#ff2300" stroke-width="0.6" fill-rule="evenodd" d="M162 91l2-1 2 1.5 0 2.5-2 1.5-2-0.5-1-1 0-2zM162 92l0 2 2 1 1-1 1-2-2-1zM114 106l2-0.5 8 1 2 1.5 0.5 2-1 2-1.5 1-8 1-3.5-2-1-2 0-2zM112.5 108l0 2 1 2 2.5 1 8-1 2-2-1-2-3-1-6-1-2 1zM136 151.5l1.5 2.5-0.5 2-1.5 2-1.5 1.5-2 0-1-1.5 0.5-2 2.5-3.5zM134 154l-1.5 2-0.5 2.5 2 0 0.5-0.5 2.5-4-1-1.5zM128 159.5l1.5 0.5 0 2-1.5 1.5-2-1.5zM127 162l1 0.5 0.5-0.5-0.5-1z"/><path fill="#f30000" stroke="#f30000" stroke-width="0.6" fill-rule="evenodd" d="M162 92l2-1 2 1-1 2-1 1-2-1zM163 92l1 2 0.5-2-0.5-0.5zM114 107l2-1 8 1.5 1 0.5 1 2-2 2-8 1-2.5-1-1-2 0-2zM114 108l-0.5 2 2.5 2 6-0.5 2.5-1.5-1-2-7.5-1zM134 153.5l2-1 1 1.5-1 2-2 2.5-2 0 0.5-2.5zM128 161l0.5 1-0.5 0.5-1-0.5z"/><path fill="#c50000" stroke="#c50000" stroke-width="0.6" fill-rule="evenodd" d="M164 91.5l0.5 0.5-0.5 2-1-2zM114 108l2-1 7.5 1 1 2-2.5 1.5-6 0.5-2.5-2z"/></g></g><path d="M160.8 -7.7L147.7 27.9L146.4 45.7L147.7 57.9L153.3 60.4L161.4 60.4L168.3 63.8L169.6 73.9L175.8 81.3L173.3 89.4L168.9 95.8L164.6 99.8L183.3 99.8L233.4 36.9L233.4 -7.7ZM21.3 29.3L56.3 29.3L61.3 36.9L60.1 43.1L60.7 49.2L55.1 53.6L21.3 53.6ZM44.4 54.9L62.6 57.0L67.6 61.3L69.4 69.7L70.7 77.2L42.5 79.2L50.1 71.4L45.7 64.6ZM48.2 80.0L62.6 80.0L61.3 86.2L56.9 91.0L53.8 97.4L48.2 98.2L45.7 92.6L48.8 87.8Z" fill="#fff" stroke="#fff" stroke-width="1.5" stroke-linejoin="round"/><circle cx="22.5" cy="43.1" r="3.3" fill="#1affe5"/><circle cx="44.4" cy="44.9" r="3.3" fill="#05fffa"/><circle cx="50.1" cy="47.5" r="3.3" fill="#00d1ff"/><circle cx="55.1" cy="42.2" r="3.3" fill="#009eff"/><circle cx="47.6" cy="41.4" r="3.3" fill="#00e5ff"/><circle cx="53.2" cy="51.0" r="3.3" fill="#00b2ff"/><circle cx="60.7" cy="40.5" r="3.3" fill="#00e5ff"/><circle cx="55.7" cy="60.4" r="3.3" fill="#0094ff"/><circle cx="53.2" cy="63.0" r="3.3" fill="#00b2ff"/><circle cx="66.3" cy="71.4" r="3.3" fill="#00b2ff"/><circle cx="48.8" cy="69.7" r="3.3" fill="#2effd1"/><circle cx="37.5" cy="88.6" r="3.3" fill="#0038ff"/><circle cx="41.9" cy="90.2" r="3.3" fill="#004dff"/><circle cx="44.4" cy="87.8" r="3.3" fill="#0061ff"/><circle cx="46.3" cy="91.8" r="3.3" fill="#004dff"/><circle cx="39.4" cy="86.2" r="3.3" fill="#0080ff"/><circle cx="137.6" cy="147.1" r="3.3" fill="#e50000"/>
<clipPath id="c4"><rect x="-1" y="-1" width="236.0" height="214.7"/></clipPath>
<g clip-path="url(#c4)"><use href="#st"/></g>
</g>
<rect x="616.4" y="486.2" width="233.8" height="213.1" fill="none" stroke="#000" stroke-width="0.9"/>
<rect x="862.2" y="483.6" width="23.3" height="218.2" fill="url(#jet)" stroke="#222" stroke-width="0.7"/>
<line x1="883.0" x2="885.5" y1="669.0" y2="669.0" stroke="#222" stroke-width="0.8"/>
<text x="894.1" y="676.5" font-size="20.5" font-weight="bold" fill="#262626">-2</text>
<line x1="883.0" x2="885.5" y1="630.5" y2="630.5" stroke="#222" stroke-width="0.8"/>
<text x="894.1" y="638.0" font-size="20.5" font-weight="bold" fill="#262626">-1</text>
<line x1="883.0" x2="885.5" y1="592.5" y2="592.5" stroke="#222" stroke-width="0.8"/>
<text x="894.1" y="600.0" font-size="20.5" font-weight="bold" fill="#262626">0</text>
<line x1="883.0" x2="885.5" y1="554.0" y2="554.0" stroke="#222" stroke-width="0.8"/>
<text x="894.1" y="561.5" font-size="20.5" font-weight="bold" fill="#262626">1</text>
<line x1="883.0" x2="885.5" y1="515.5" y2="515.5" stroke="#222" stroke-width="0.8"/>
<text x="894.1" y="523.0" font-size="20.5" font-weight="bold" fill="#262626">2</text>
<text x="728.3" y="731.8" font-size="23" font-weight="bold" text-anchor="middle" fill="#262626">SAT-RAP 700 hPa MR (g/kg)</text>
<text x="660.8" y="466.7" font-size="12.3" font-weight="bold" text-anchor="end" fill="#262626">100</text>
<circle cx="665.6" cy="454.1" r="1.25" fill="none" stroke="#262626" stroke-width="1"/>
<text x="673.0" y="466.7" font-size="12.3" font-weight="bold" fill="#262626">W</text>
<text x="721.5" y="466.7" font-size="12.3" font-weight="bold" text-anchor="end" fill="#262626">90</text>
<circle cx="726.3" cy="454.1" r="1.25" fill="none" stroke="#262626" stroke-width="1"/>
<text x="735.2" y="466.7" font-size="12.3" font-weight="bold" fill="#262626">W</text>
<text x="784.7" y="466.7" font-size="12.3" font-weight="bold" text-anchor="end" fill="#262626">80</text>
<circle cx="789.5" cy="454.1" r="1.25" fill="none" stroke="#262626" stroke-width="1"/>
<text x="798.4" y="466.7" font-size="12.3" font-weight="bold" fill="#262626">W</text>
<text x="847.9" y="466.7" font-size="12.3" font-weight="bold" text-anchor="end" fill="#262626">70</text>
<circle cx="852.7" cy="454.1" r="1.25" fill="none" stroke="#262626" stroke-width="1"/>
<text x="861.6" y="466.7" font-size="12.3" font-weight="bold" fill="#262626">W</text>
<text x="584.0" y="502.2" font-size="12.3" font-weight="bold" text-anchor="end" fill="#262626">48</text>
<circle cx="588.7" cy="488.6" r="1.2" fill="none" stroke="#262626" stroke-width="1"/>
<text x="597.0" y="502.2" font-size="12.3" font-weight="bold" fill="#262626">N</text>
<text x="584.0" y="521.3" font-size="12.3" font-weight="bold" text-anchor="end" fill="#262626">46</text>
<circle cx="588.7" cy="507.7" r="1.2" fill="none" stroke="#262626" stroke-width="1"/>
<text x="597.0" y="521.3" font-size="12.3" font-weight="bold" fill="#262626">N</text>
<text x="584.0" y="538.5" font-size="12.3" font-weight="bold" text-anchor="end" fill="#262626">44</text>
<circle cx="588.7" cy="524.9" r="1.2" fill="none" stroke="#262626" stroke-width="1"/>
<text x="597.0" y="538.5" font-size="12.3" font-weight="bold" fill="#262626">N</text>
<text x="584.0" y="555.7" font-size="12.3" font-weight="bold" text-anchor="end" fill="#262626">42</text>
<circle cx="588.7" cy="542.1" r="1.2" fill="none" stroke="#262626" stroke-width="1"/>
<text x="597.0" y="555.7" font-size="12.3" font-weight="bold" fill="#262626">N</text>
<text x="584.0" y="572.6" font-size="12.3" font-weight="bold" text-anchor="end" fill="#262626">40</text>
<circle cx="588.7" cy="559.0" r="1.2" fill="none" stroke="#262626" stroke-width="1"/>
<text x="597.0" y="572.6" font-size="12.3" font-weight="bold" fill="#262626">N</text>
<text x="584.0" y="587.6" font-size="12.3" font-weight="bold" text-anchor="end" fill="#262626">38</text>
<circle cx="588.7" cy="574.0" r="1.2" fill="none" stroke="#262626" stroke-width="1"/>
<text x="597.0" y="587.6" font-size="12.3" font-weight="bold" fill="#262626">N</text>
<text x="584.0" y="603.9" font-size="12.3" font-weight="bold" text-anchor="end" fill="#262626">36</text>
<circle cx="588.7" cy="590.3" r="1.2" fill="none" stroke="#262626" stroke-width="1"/>
<text x="597.0" y="603.9" font-size="12.3" font-weight="bold" fill="#262626">N</text>
<text x="584.0" y="618.9" font-size="12.3" font-weight="bold" text-anchor="end" fill="#262626">34</text>
<circle cx="588.7" cy="605.3" r="1.2" fill="none" stroke="#262626" stroke-width="1"/>
<text x="597.0" y="618.9" font-size="12.3" font-weight="bold" fill="#262626">N</text>
<text x="584.0" y="635.3" font-size="12.3" font-weight="bold" text-anchor="end" fill="#262626">32</text>
<circle cx="588.7" cy="621.7" r="1.2" fill="none" stroke="#262626" stroke-width="1"/>
<text x="597.0" y="635.3" font-size="12.3" font-weight="bold" fill="#262626">N</text>
<text x="584.0" y="650.3" font-size="12.3" font-weight="bold" text-anchor="end" fill="#262626">30</text>
<circle cx="588.7" cy="636.7" r="1.2" fill="none" stroke="#262626" stroke-width="1"/>
<text x="597.0" y="650.3" font-size="12.3" font-weight="bold" fill="#262626">N</text>
<text x="584.0" y="663.1" font-size="12.3" font-weight="bold" text-anchor="end" fill="#262626">28</text>
<circle cx="588.7" cy="649.5" r="1.2" fill="none" stroke="#262626" stroke-width="1"/>
<text x="597.0" y="663.1" font-size="12.3" font-weight="bold" fill="#262626">N</text>
<text x="584.0" y="677.0" font-size="12.3" font-weight="bold" text-anchor="end" fill="#262626">26</text>
<circle cx="588.7" cy="663.4" r="1.2" fill="none" stroke="#262626" stroke-width="1"/>
<text x="597.0" y="677.0" font-size="12.3" font-weight="bold" fill="#262626">N</text>
<text x="584.0" y="691.7" font-size="12.3" font-weight="bold" text-anchor="end" fill="#262626">24</text>
<circle cx="588.7" cy="678.1" r="1.2" fill="none" stroke="#262626" stroke-width="1"/>
<text x="597.0" y="691.7" font-size="12.3" font-weight="bold" fill="#262626">N</text>
<text x="584.0" y="703.5" font-size="12.3" font-weight="bold" text-anchor="end" fill="#262626">22</text>
<circle cx="588.7" cy="689.9" r="1.2" fill="none" stroke="#262626" stroke-width="1"/>
<text x="597.0" y="703.5" font-size="12.3" font-weight="bold" fill="#262626">N</text>
<g transform="translate(1037.5 485.5) scale(1.0051 1.0103)">
<clipPath id="s5"><path d="M7.5 -3.2L215.3 -3.2L175.3 80.4L159.3 119.4L150.3 147.4L143.3 173.4L139.5 179.5L134.3 181.0L124.3 177.5L67.0 166.0L2.0 157.5L-3.0 155.5L-3.6 150.0L-2.4 103.4L0.3 63.4L2.5 35.0Z"/></clipPath><g clip-path="url(#s5)"><g filter="url(#tx)"><path fill="#0000c5" stroke="#0000c5" stroke-width="0.6" fill-rule="evenodd" d="M52 73.5l2 1 1 1.5 0 2-3 5-2 2-2 0.5-2 0-2 0-2.5-1.5-1.5-2 0-4 4-2z"/><path fill="#0000f3" stroke="#0000f3" stroke-width="0.6" fill-rule="evenodd" d="M156 55.5l4-1 4-0.5 78 0 0 12.5-72 0-5-2.5-6.5-2-3.5-2-0.5-2zM54 68l2 0 3.5 2 1 2-0.5 6-3.5 8-0.5 7.5-2 1.5-4 0.5-2-1-2.5-4.5-3.5-2-5.5-2-1-2 1.5-6 1.5-2 13.5-8zM51 74l-7 2-4 2 0 4 1.5 2 2.5 1.5 4 0 2-0.5 2-2 3-5 0-2-2-2z"/><path fill="#0023ff" stroke="#0023ff" stroke-width="0.6" fill-rule="evenodd" d="M150 46.5l92 0 0 7.5-80 0-6 1.5-1.5 2.5 0.5 2 3 1.5 7 2.5 5 2.5 72 0 0 13-70 0-2.5-1.5-1.5-1.5-2-6.5-1.5-2-6.5-3.5-4-3-2.5-1.5-1.5-2-2-6 0-2.5zM54 65.5l6 1.5 2.5 1 1.5 2-0.5 4-1.5 8-2.5 6-1.5 6-2 3-6 2-2-1-4-6-2-2-2-1-4-1-2-1.5-0.5-2.5 1.5-6 3-3.5 9.5-6.5zM52.5 68l-14 8-1.5 2-1.5 6 1 2 5.5 2 3.5 2 2.5 4.5 2 1 4-0.5 2-1.5 0.5-7.5 3.5-7.5 0.5-2.5 0-4-1-2-3.5-2zM166 92l2-1 74 0 0 2.5-74 0z"/><path fill="#0051ff" stroke="#0051ff" stroke-width="0.6" fill-rule="evenodd" d="M146 40l2-1.5 2 0 92 0 0 8-90 0-2 0-1 1.5-1 1.5 0 2.5 2 6 1.5 2 2.5 1.5 4 3 6.5 3.5 1.5 2 2 6.5 1.5 1.5 2.5 1.5 70 0 0 4-68 0-4 0-4-1.5-0.5-6-1.5-4-2-2.5-4-2.5-4-4-5-3-1-2-2.5-8-0.5-6zM54 64l8 1.5 3.5 2.5 1 2 0 6-2.5 8-6 13.5-2 2.5-4 3-2 0.5-2-1.5-5-8-1.5-2-1.5-1-6-2-2-3 0-2.5 1-5.5 3.5-4 7.5-6.5 6-2.5zM52.5 66l-6.5 3-9.5 7-2.5 4-0.5 4 0.5 2.5 2 1.5 4 1 2 1 2 2 4 6 2 1 6-2 2-3 1.5-6 2.5-6 2-10 0-2-2-2.5-6-1.5zM162 86l2-0.5 4 1.5 2 0 72 0 0 4-74 0-2 1 2 1.5 74 0 0 2-74 0-2-0.5-1.5-1-0.5-2-0.5-4z"/><path fill="#0080ff" stroke="#0080ff" stroke-width="0.6" fill-rule="evenodd" d="M146 30.5l96-0.5 0 8.5-92 0-2 0-2 1.5-1 4 1 8 3 8 5 3 4 4 4.5 3 2.5 4 1 8 2 1 6 0.5 68 0 0 3.5-72 0-2 0-4-1.5-2 0.5 1.5 2 0.5 4 0.5 2 1.5 1 76 0.5 0 1-74 0-3-0.5-2-2-1.5-4-2-4 4-6 0.5-2-0.5-4-1.5-2-4-3-4-5-6.5-4-3.5-8-1-8 0-4 1-7.5zM70 46.5l2 0 1 1.5 0 4-3 2.5-4-0.5-2.5-2zM54 61.5l8 2 4 2 2.5 2.5 3 6 3.5 2 1 2-2 1-4 0.5-2 1-11 21.5-2 8 0 6-1.5 2-5.5 0-2-0.5-0.5-1.5 0.5-2 3.5-4-2.5-4-2.5-6-3.5-6-3-2-4-1-2-2-1-3 0-6 0-2 1.5-2 10.5-10 3-2zM53 64l-5 1.5-4 2-8 7-3 3.5-1 6 0 2 2 3 6 2 1.5 1 1.5 2 5 8 2 1.5 2-0.5 4-3 3-4 5-12 2.5-10 0-4-1-2-1.5-1.5-2-1-4-1z"/><path fill="#00aeff" stroke="#00aeff" stroke-width="0.6" fill-rule="evenodd" d="M138 -8l8.5 0 0 22 1.5 4.5 2 2.5 4 0 88 0 0 9-96 0.5-2 2-1.5 9.5 1.5 10 3.5 8 6.5 4 4 5 4 3 1.5 2 0.5 4-0.5 2-4 6 2 4 1.5 4 3 2.5 76 0 0 1.5-74 0-2-0.5-3-1.5-6-10 5-6 1-2 0-2-1-2-4.5-4-3.5-4.5-7.5-5.5-4-10-1.5-8-0.5-18-3.5-10 1-10zM74 41.5l6 0.5 0.5 2-3 2-1.5 2-1 4-3 3.5-2 1-9.5 1.5-0.5 2 4 1.5 4 3 2 2.5 2.5 5 4.5 4 0.5 2-1.5 3-4 0.5-2 1-6 10-5 11.5-1 6 0 6-0.5 2-1.5 2-2 1-2 0.5-6-1-3-2.5-0.5-2 1.5-6-1-8-3-6-2-1.5-6-2.5-1.5-2-1-4 0-8 0.5-2 2-2 5-4 5-6 2-1.5 7-2.5 4-4 2-4 11-8zM63.5 52l2.5 2 4 0.5 3-2.5 0-4-1-1.5-2 0zM53 62l-7 2-3 2-10.5 10-1.5 2 0 2 0 6 1 3 2 2 4 1 3 2 3.5 6 2.5 6 2.5 4-3.5 4-0.5 2 0.5 1.5 2 0.5 5.5 0 1.5-2 0-6 2-8 11-21.5 2-1 4-0.5 2-1-1-2-3.5-2-3-6-4.5-4-8-2zM88 122l2 4-0.5 2-1.5 2-2-0.5-1.5-1.5 0-2 1.5-3zM24 134.5l1 1.5-1 2-1.5-2zM112 153l1.5 1-3 14 0 54-1.5 0 0-60 1-6.5z"/><path fill="#00dcff" stroke="#00dcff" stroke-width="0.6" fill-rule="evenodd" d="M138 4l-1 10 3.5 10 0.5 18 1.5 8 4 10 7.5 5.5 3.5 4.5 4.5 4 1 2 0 2-1 2-5 6 6 10 3 1.5 2 0.5 74 0 0 1-74 0-4-0.5-2-2-2.5-4.5-4.5-6 6-6 1-2-0.5-2-1-2-4.5-4.5-2.5-3.5-5.5-3.5-2.5-2.5-4-8-0.5-2-1.5-8-1-14-3-10-0.5-4 1.5-10 0-12 1.5 0zM150 -8l0 10 0.5 6 1.5 3 2 1 88 0 0 9-88 0-4 0-2-2.5-1.5-4.5 0-22zM52 22.5l3 1.5 0.5 2-1.5 2.5-2 0.5-1-3 0-2zM70 40l4-1 6 0 3 1 2 2 0 2-1 1-5 3-5 8-6.5 4 4 6 1.5 4 5 6 0.5 2 0 2-2.5 3-4 1-1.5 2-2.5 5.5-4 5.5-1.5 3-1.5 8 0 10-1 2.5-2 2.5-4 1.5-2 0-6-1.5-4-2.5-2-2.5-0.5-2 1.5-12-1-4-2-2-6-2.5-2-2-1.5-7.5-1-8 0.5-2 2-2.5 6-5.5 4-5.5 3.5-2.5 6-8 5.5-4zM72 42l-15 10-2 4-4 4-7 2.5-2 1.5-5 6-5 4-2 2-0.5 2 0 8 1 4 1.5 2 6 2.5 2 1.5 3 6 1 8-1.5 6 0.5 2 3 2.5 6 1 2-0.5 2-1 1.5-2 0.5-2 0-6 1-6 5-11.5 6-10 2-1 4-0.5 1.5-3-0.5-2-4.5-4-2.5-5-2-2.5-4-3-4-1.5 0.5-2 9.5-1.5 2-1 3-3.5 1-4 1.5-2 3-2-0.5-2-6-0.5zM86 117.5l2-0.5 2 1.5 2 7.5-1 4-3 3-2 0-2-1-1.5-2-1-2-0.5-2 1.5-4 1.5-2.5zM86 123l-1.5 3 0 2 1.5 1.5 2 0.5 1.5-2 0.5-2-2-4zM24 132l2 1.5 1 2.5-1 2-2 1.5-3-1.5-1-2 2-3zM22.5 136l1.5 2 1-2-1-1.5zM132 141.5l2 0.5 0.5 2-0.5 3-2 0-2-1 0-2zM112 150.5l2 0 1.5 1.5-4 16 0 54-1 0 0-54 3-14-1.5-1-2 2.5-1 4.5 0 62-1 0 0-60 1.5-8 0.5-2z"/><path fill="#0cfff3" stroke="#0cfff3" stroke-width="0.6" fill-rule="evenodd" d="M136.5 -8l0 10-1.5 12 0.5 4 3 10 1 14 1.5 8 0.5 2 4 8 2.5 2.5 5.5 3.5 2.5 3.5 4.5 4.5 1 2 0.5 2-1 2-6 6 4.5 6 2.5 4.5 2 2 4 0.5 74 0 0 1.5-74 0-4-0.5-2-0.5-1.5-1.5-2.5-6-5-4-1.5-2 4.5-2.5 3.5-3.5 1.5-2-0.5-2-8-10-4.5-2.5-3.5-3.5-3.5-6-1.5-4-1-6-1-12-0.5-4-2.5-6-1-6 2-12 0-12zM150 -8l3 0 0.5 10 0.5 2 2 0.5 86 0 0 7.5-88 0-2-1-2-5 0-4zM52 19.5l2 0.5 3 2 1.5 2 0.5 2-1 4-2 2.5-2 0.5-2 0-1-1-1-1-0.5-3 0-4 0.5-2zM51 24l0 2 1 3 2-0.5 1.5-2.5-0.5-2-3-1.5zM110 32.5l2 1.5-2 0.5-1-0.5zM74 36.5l6 0 4.5 1.5 2 2 1 2 0 2-1.5 2-6 4-4 6-4.5 4 0 2 3 8 4.5 6 1 2-0.5 4-0.5 2-1 1.5-4 2.5-1 4-2.5 4-4.5 4-1.5 2 0.5 4 1 2.5 6 4.5 6 0.5 8-1 2 0 2 1.5 2 4 1.5 6 0.5 4-0.5 2-1.5 3-2 2-10 2.5-7 4.5-4.5 4-4.5 2.5-3 3.5-3 2-6 2-10-1-3-1-1-2 2-3 4-3 8-3 2-1 1.5-2 1-4-1.5-4-4.5-4-10.5-5-3-3-1-2 0-4 1-12-7-4.5-1.5-3.5-2.5-16 0-2 2-3.5 5-4.5 9-17.5 2-2.5 3-2 5.5-2 5.5-4.5zM69.5 40l-14.5 8-5.5 4-6 8-3.5 2.5-4 5.5-6 5.5-2 2.5-0.5 2 1 8 1.5 7.5 2 2 6 2.5 2 2 1 4-1.5 12 0.5 2 2 2.5 4 2.5 6 1.5 2 0 4-1.5 2-2.5 1-2.5 0-10 1.5-8 1.5-3 4-5.5 2.5-5.5 1.5-2 4-1 2.5-3 0-2-0.5-2-5-6-1.5-4-4-6 6.5-4 5-8 5-3 1-1 0-2-2-2-3-1-6 0zM85.5 118l-3 4-1.5 4 0.5 2 1 2 1.5 2 2 1 2 0 3-3 1-4-2-7.5-2-1.5zM144 76.5l2-0.5 1 2-1 4-2-1-1-1-0.5-2zM24 129l2.5 1 1.5 2 0.5 4-0.5 2-1.5 2-2.5 1-4-2-1.5-3 1.5-4 2-2zM22 133l-2 3 1 2 3 1.5 2-1.5 1-2-1-2.5-1.5-1.5zM130 140l2-1 2 0 0.5 1 0.5 6-1 2-2 0.5-4.5-2.5-1-2 1-2zM131.5 142l-1.5 2 0 2 2 1 2 0 0.5-3-0.5-2zM110 149.5l2-1 2 0 2 1 0.5 2.5-0.5 3-3 9-1 4 0 54-0.5 0 0-52 1-6 2.5-10 0.5-2-1.5-1.5-2 0-2 1.5-2 8 0 62-1.5 0 0.5-56 0.5-10 1-4z"/><path fill="#3affc5" stroke="#3affc5" stroke-width="0.6" fill-rule="evenodd" d="M135.5 4l-2 12 1 6 2.5 6 0.5 4 1 12 1.5 8 4.5 8 3.5 3.5 4.5 2.5 8 10 0.5 2-1.5 2-3.5 3.5-4.5 2.5 1.5 2 5 4 2.5 6 1.5 1.5 4 1 76 0 0 35-102 0-2 0.5-2 2-0.5 8-1.5 3.5-4-1-11-4.5 1.5-4 4-6 3.5-7.5 5-2.5 4.5-6 6.5-1 4-1.5 2-2 2-4 4-3.5 0.5-2 0.5-4-0.5-6-14.5-11.5-1-2.5-0.5-2 1.5-2 4-1 2 3 0.5 4 1.5 1.5 2 0.5 2-0.5 2-1 2.5-2.5 1.5-2-0.5-2-7.5-9.5-6-4-2.5-2.5-5-8-1.5-8-0.5-12-2-4-2-2-0.5-4 0-8 2.5-10 0-12 1 0zM142.5 78l1.5 3 2 1 1-4-1-2-2 0.5zM130 140l-2.5 2-1 2 1 2 4.5 2.5 2-0.5 1-2-0.5-6-0.5-1-2 0zM242 -8l0 12.5-86 0-2-0.5-0.5-2-0.5-10zM52 17l4.5 1 3.5 2 2.5 4 1.5 6.5 2 2 2 0.5 14 1.5 4 1.5 2.5 2 1.5 4-0.5 2-3 4-5.5 4-6 8-0.5 2 0.5 6 5 8 2.5 6 1.5 1.5 2 0.5 11.5 2 1.5 2 1.5 4 0 2-2.5 3-6 5-2 2-0.5 2 0 2 4 8 2.5 10 0 10-0.5 2-7.5 6-3.5 2-10.5 4-20 12.5-4 0.5-14.5-1-11-2 1.5-1 2.5-7 5.5-6.5 2.5-1.5 7-2 3-2 1.5-2 0.5-2-1-2-1.5-3-2-2-2-1-2 0-8 2.5-1.5 3.5-1 6-1.5 1.5-2 1-2 0-4-1.5-3-3-0.5-2 0.5-4 1-2 7-6 2-4 1.5-4 1.5-12-0.5-4-2.5-6-1-10-2-8 1.5-4 3-4 2.5-8 1.5-8-0.5-2-2-3-5-3-2-2-0.5-6 1.5-2 16 1 4-1.5 2-1 1-2.5 2-10 1-2zM51.5 20l-1.5 2-0.5 2 0 4 0.5 3 1 1 1 1 2 0 2-0.5 2-2.5 1-4-0.5-2-2.5-2.5-2-1.5zM58 39.5l-5.5 4.5-5.5 2-3 2-2 2.5-9 17.5-5 4.5-2 3.5 0 2 2.5 16 1.5 3.5 7 4.5-1 12 0 4 1 2 3 3 10.5 5 4.5 4 1.5 4-1 4-1.5 2-2 1-8 3-4 3-2 3 1 2 3 1 10 1 6-2 3-2 3-3.5 4.5-2.5 4.5-4 7-4.5 10-2.5 2-2 1.5-3 0.5-2-0.5-4-1.5-6-2-4-2-1.5-2 0-8 1-6-0.5-6-4.5-1.5-4.5 0-2 1.5-2 4.5-4 2.5-4 1-4 4-2.5 1-1.5 0.5-2 0.5-4-1-2-4.5-6-3-8 0-2 4.5-4 4-6 6-4 1.5-2 0-2-1-2-2-2-4.5-1.5-6 0zM22 130l-2 2-1.5 4 1.5 3 4 2 2.5-1 1.5-2 0.5-4-0.5-2-2-2.5-2-0.5zM110 30l2 0 2 1.5 1.5 2.5-1.5 1.5-2 0.5-2 0.5-2-1.5-1-1 0.5-2zM109 34l1 0.5 2-0.5-2-1.5zM126 31.5l2 0.5 0.5 4-0.5 13.5-0.5 2.5-1.5 2.5-2-5.5-1-7 1-8zM116 146l1 2 0 6-3.5 10-1 4 0 54-0.5 0 0-54 1-4 3-9 0.5-3-0.5-2.5-2-1-2 0-2.5 1.5-1 2-1 6-1 10 0 54-1.5 0 0-52 2-16 1-4 1-2 1-1 2-0.5z"/><path fill="#68ff97" stroke="#68ff97" stroke-width="0.6" fill-rule="evenodd" d="M60 -8l0 6-2 0-2 2 0 10 2 0 0.5 2 1.5 0 2 1.5 3 2.5 2 4 1 4 2 2.5 6 3 6 0 4 1 2 0.5 2.5 5 1.5 5 0 3-2.5 4-7.5 6.5-4 5.5-1.5 4 0 4 7.5 13 4 2 10.5 1 5.5 1.5 4.5 6.5 0 2-4.5 6-8 4.5-2 1.5-1 2 0 2 7 22 4 5 2 0.5 8-2.5 2-1 1.5-2 3-6 6-8 9.5-3 4.5-3 7.5-6.5 2.5-3.5 0.5-4-0.5-4-4.5-4-4-2.5-2-2.5-1-7 0.5-2 2.5-1 4-1 2 2 2 5.5 2 1 2 0 2-1 3-3.5-0.5-2-6.5-8.5-8-5.5-5-6-2-4-1-8-0.5-8-1.5-4-2 1-1 5-1.5 14 1.5 10-1 5-2 1.5-1-0.5-1-1.5-1.5-6.5-3-8-2-12-1-2-0.5-0.5-8 0-3-1.5-1.5-2 1.5-4 1-1.5 2-1 8-0.5 2-1 6-1.5 2-2 1-6.5 3-6.5 1.5-5.5 0-12 1 0 0 12-2.5 10 0 8 0.5 4 2 2 2 4 0.5 12 1.5 8 5 8 2.5 2.5 6 4 7.5 9.5 0.5 2-1.5 2-2.5 2.5-2 1-2 0.5-2-0.5-1.5-1.5-0.5-4-2-3-4 1-1.5 2 0.5 2 1 2.5 14.5 11.5 0.5 6-0.5 4-0.5 2-4 3.5-2 4-2 2-4 1.5-6.5 1-4.5 6-5 2.5-3.5 7.5-4 6-1.5 4 11 4.5 4 1 1.5-3.5 0.5-8 2-2 2-0.5 102 0 0 3-102 0-2 0.5-0.5 1-1.5 8-2 2.5-2 0-10-3.5-2 0-1 1-1 2-0.5 4-4.5 14 0 54-0.5 0 0-54 1-4 3.5-10 0-6-1-2-4 0.5-2 0.5-1 1-1 2-1 4-2 16 0 52-4 0 0-52 1-4 2-4 1-10-1-5-2-0.5-6 1-18 6-11 6.5-1 2-2 5.5-4 4.5 0 50-68 0 0-64 14 0 10-0.5 4-1.5 7-8 1-2-8-3.5-3.5-2.5-2-2-0.5-4 0.5-6 1-2 5-8 3.5-4 3.5-8 1-4-3-8-1-10-3.5-8 0-6-1-4-2-2-26 0 0-72zM22 12l0 8 0.5 2 1.5 0 0.5 2 1.5 0.5 0.5 1.5 3.5 3.5 4 1.5 6 1 2 0 3-2 1-2.5 0.5-3.5 0-12-0.5-2-22 0zM50 18l-1.5 4-1.5 8-1 2.5-2 1-4 1.5-16-1-1.5 2 0.5 6 2 2 5 3 2 3 0.5 2-1.5 8-2.5 8-3 4-1.5 4 2 8 1 10 2.5 6 0.5 4-1.5 12-1.5 4-2 4-7 6-1 2-0.5 4 0.5 2 3 3 4 1.5 2 0 2-1 1.5-1.5 1-6 1.5-3.5 8-2.5 2 0 2 1 2 2 1.5 3 1 2-0.5 2-1.5 2-3 2-7 2-2.5 1.5-5.5 6.5-2.5 7-1.5 1 11 2 14.5 1 4-0.5 20-12.5 10.5-4 3.5-2 7.5-6 0.5-2 0-10-2.5-10-4-8 0-2 0.5-2 2-2 6-5 2.5-3 0-2-1.5-4-1.5-2-11.5-2-2-0.5-1.5-1.5-2.5-6-5-8-0.5-6 0.5-2 6-8 5.5-4 3-4 0.5-2-1.5-4-2.5-2-4-1.5-14-1.5-2-0.5-2-2-1.5-6.5-2.5-4-2-1.5-4-1.5-2 0zM110 30l-2 1.5-1 2.5 2 2 1 0.5 3-0.5 2.5-2-1.5-2.5-2-1.5zM124 34l-1 8 1 7 2 5.5 1.5-2.5 0.5-2.5 0.5-13.5-0.5-4-2-0.5zM37.5 132l-3.5 2.5-1.5 1.5 0 2 1.5 2 6 0.5 4-2.5 0.5-2-1-2-1.5-1.5-2-1z"/><path fill="#97ff68" stroke="#97ff68" stroke-width="0.6" fill-rule="evenodd" d="M79 -8l0 10 1 2 7.5 4 1.5 2 1 4 0.5 10 3 12 0 8-1.5 4-4 6-6 5-2.5 3-1.5 4-0.5 2 1 2 5.5 8.5 4 3 4 1 10 0 4-1.5 2-1.5 2-0.5 2 1 4 5 1-11 3.5-6-0.5-7.5-1.5-2.5 0-2-1-12-0.5-2-2-2-5-1-4-2.5-1.5-2.5 0-2 1.5-3.5 3.5-4.5 0.5-4 2-3 4-1.5 4-1 0.5-0.5 2.5-6 1-0.5 4 1.5 2-0.5 2.5-4.5 0-12 1 0 0 12-1.5 5.5-3 6.5-1 6.5-2 2-6 1.5-2 1-8 0.5-2 1-1 1.5-1.5 4 1.5 2 3 1.5 8 0 0.5 0.5 1 2 2 12 3 8 1.5 6.5 1 1.5 1 0.5 2-1.5 1-5-1.5-10 1.5-14 1-5 2-1 1.5 4 0.5 8 1 8 2 4 5 6 8 5.5 6.5 8.5 0.5 2-3 3.5-2 1-2 0-2-1-2-5.5-2-2-4 1-2.5 1-0.5 2 1 7 2 2.5 4 2.5 4.5 4 0.5 4-0.5 4-2.5 3.5-7.5 6.5-4.5 3-9.5 3-6.5 8.5-2.5 5.5-3.5 3-8 2.5-2-0.5-2-2-3-5-3.5-14-2.5-6 0-2 1-2 2.5-2 7.5-4 4.5-6 0-2-4.5-6.5-5.5-1.5-10.5-1-4-2-7.5-13 0-4 1.5-4 4-5.5 8-7 2-3.5 0-4-2-6-2-3-4-1-8-0.5-6-3-2-2.5-1-4-2-4-3-2.5-2-1.5-1.5 0-0.5-2-2 0 0-10 2-2 2 0 0-6zM132.5 42l-1.5 10 2.5 8-0.5 6 0 2-2.5 2-3.5 2-1.5 2-0.5 4 1.5 8-0.5 5-2 1.5-6-1-1.5 2.5-7 6-9.5 5-2 1-2 2.5-0.5 1.5 0.5 2 5.5 16 2.5 4 2 0.5 4 0.5 3-1 2-2 6.5-12 4.5-2 6-1.5 4-2 4-5 5.5-5.5 0.5-2-0.5-2-1.5-3.5-5.5-2.5-1-2 0-10 0.5-4.5 2-1.5 6-1 2 1.5 2 5.5 2 1.5 2 0 2.5-1.5 1.5-2-0.5-2-6-8-11.5-7.5-2-2.5-1.5-2-1-4-1.5-12zM24 10l22 0 0.5 2 0 14-0.5 2-2 3-2 1-2 0-4-0.5-4-1-3.5-2.5-2-2-0.5-1.5-1.5-0.5-0.5-2-1.5 0-0.5-2 0-8zM36.5 18l-2.5 1.5-2 2-1 2.5 0 2 2 2 3 1.5 4 1 2-0.5 2-2 1-2 0-4-1-2.5-2-2-2-0.5zM18 64l2 2 1 4 0 6 3.5 8 0.5 8 3 8 0.5 2 0 2-4.5 10-3.5 4-5 8-1.5 4 0 6 0.5 2 3.5 3.5 10 4.5-1 2-5 6-2.5 2-3.5 1.5-10 0.5-14 0 0-2 14 0 8-0.5 3.5-1.5 4.5-6 0.5-2-8.5-5-6-1.5-1.5-1.5 0-2 3-6 1.5-8 2-4 3-3 4-1.5 2-1.5 4.5-8 0.5-2 0-2-3-6-1.5-8-0.5-1.5-2-2-4-1.5-6-1-18-0.5 0-15.5zM38 132l2-0.5 2 1 1.5 1.5 1 2-0.5 2-4 2.5-6-0.5-1.5-2 0-2 2-2zM37.5 136l0.5 0.5 2 0.5 0.5-1-0.5-0.5zM138 139l4-0.5 100 0 0 1.5-102 0-2 1-2 9-2 1.5-4-0.5-8-3-2 0.5-1 1.5-5.5 18 0 54-0.5 0 0-54 4.5-14 0.5-4 1-2 1-1 2 0 10 3.5 2 0 2-2.5 1-6zM96 147.5l6-1 2 0.5 1 5-1 10-2 4-1 4 0 52-10.5 0 0-54 1.5-4 6.5-4-0.5-4-2-1.5-4 3.5-4 1.5-7 0.5 0.5 2 3.5 2 1.5 2 1 2 0 54-27.5 0 0-50 4-4.5 2-5.5 1-2 11-6.5z"/><path fill="#c5ff3a" stroke="#c5ff3a" stroke-width="0.6" fill-rule="evenodd" d="M128.5 -8l0 10 1.5 1.5 0.5-3.5 0-8 2 0 0 12-2.5 4.5-2 0.5-4-1.5-1 0.5-2.5 6-0.5 0.5-4 1-4 1.5-2 3-0.5 4-3.5 4.5-1.5 3.5 0 2 1.5 2.5 4 2.5 5 1 2 2 0.5 2 1 12 0 2 1.5 2.5 0.5 7.5-3.5 6-1 11-4-5-2-1-2 0.5-2 1.5-4 1.5-10 0-4-1-4-3-5.5-8.5-1-2 0.5-2 1.5-4 2.5-3 6-5 4-6 1.5-4 0-2-0.5-8-2-8-1-13-1-3-1.5-2-7.5-4-1-2 0-10zM97.5 18l-2.5 2-1.5 4 0 2 2 10-0.5 8-2.5 8 1 8-9.5 0.5-2 1.5-1.5 2-1.5 4 0.5 2 6 8 2.5 2 4 1 8 0 2.5-1 1.5-1.5 1-2.5-0.5-2-2.5-6 0-2.5 1-3.5 3-2 6-2.5 2-1.5 1.5-4 0-8-1-2-8.5-4-2-2-1-2 0.5-4 1.5-4 0-2-0.5-2-2.5-3.5-2-1zM38 17.5l4 0 2.5 2.5 0.5 4 0 2-1 2-2 2-2 0.5-4-1-3-1.5-2-2 0-2 1-2.5 2-2zM39.5 20l-3.5 2-1.5 2 0.5 2 3 2 2 0.5 2-0.5 1.5-2 0-2-1.5-3.5zM134 40l1.5 12 1 4 1.5 2 2 2.5 11.5 7.5 6 8 0.5 2-1.5 2-2.5 1.5-2 0-2-1.5-2-5.5-2-1.5-6 1-2 1.5-0.5 4.5 0 10 1 2 5.5 2.5 1.5 3.5 0.5 2-0.5 2-5.5 5.5-4 5-4 2-6 1.5-4.5 2-6.5 12-2 2-3 1-4-0.5-2-0.5-1.5-2-2-4-5-16 0.5-2 4-3 9.5-5 7-6 1.5-2.5 6 1 2-1.5 0.5-5-1.5-6 0-4 0.5-2 1.5-2 3.5-2 2.5-2 0.5-8-2-6-0.5-4 1-7.5zM136.5 64l-1 6-5.5 2-2.5 2-1 2 0 2 1 4 2.5 6 2 1.5 2-1.5 1-2 0.5-4 1-8 1.5-1.5 4 0 4-0.5 2 1 1 1 1 4 2 2.5 2 0.5 3-3 0-2-7-8-8-4.5-4-1zM116 100l-14 6-3 2-1 2 2 8 3 8 1.5 2 3.5 1.5 2 0.5 2-0.5 1.5-1.5 5-10 1.5-1.5 2-1 10-2.5 2-1 2-2 0.5-2 1-6-1.5-1.5-16-2-2 0zM10 80l6 1 4 1.5 2 2 0.5 1.5 1.5 8 3 6 0 2-0.5 2-4.5 8-2 1.5-4 1.5-3 3-2 4-2.5 10-2 4 0 2 1.5 1.5 6 1.5 8.5 5-0.5 2-4 5.5-4 2-8 0.5-14 0 0-2 14 0 8-1.5 1-4.5-0.5-2-2.5-0.5-2.5 2.5-3.5 1.5-14 0.5 0-21.5 12-0.5 1-2-1-3-2-0.5-10 0 0-9.5 12-0.5 6-4.5 2-0.5 4 2 4 0.5 2-1.5 2-2.5 2-4-0.5-2-5.5-10.5-2-1-6-2.5-6-1.5-14 0 0-5zM38 136l2-0.5 0.5 0.5-0.5 1-2-0.5zM138 141l2-1 2 0 100 0 0 2-102 0-2 1.5-0.5 6.5-1.5 3-2 0.5-2-0.5-10-3.5-2 0.5-6.5 18 0 54 0-52 0-4 5.5-16 1-1.5 2-0.5 8 3 4 0.5 2-1.5zM96 154.5l2 1.5 0.5 4-6.5 4-1.5 4 0 54-3 0 0-54-1-2-1.5-2-3.5-2-0.5-2 7-0.5 4-1.5z"/><path fill="#f3ff0c" stroke="#f3ff0c" stroke-width="0.6" fill-rule="evenodd" d="M130.5 -8l0 8-0.5 3.5-1.5-1.5 0-4 0-6zM98 17.5l2 0 2 1 2.5 3.5 0.5 2 0 2-1.5 4-0.5 4 1 2 2 2 8.5 4 1 2 0 8-1.5 4-2 1.5-6 2.5-3 2-1 3.5 0 2.5 2.5 6 0.5 2-1 2.5-1.5 1.5-2.5 1-8 0-4-1-2.5-2-6-8-0.5-2 1.5-4 1.5-2 2-1.5 9.5-0.5-1-8 2.5-8 0.5-8-2-10 0-2 1.5-4zM97.5 22l-1 2-0.5 2 1.5 8-2.5 18 1 2 1.5 2 2.5 1 2 0.5 6-0.5 4-2.5 1.5-2.5 0-8-2-2-5.5-3-3.5-3-1-2 1-8-0.5-2-2-2.5zM82.5 64l-2 4 0.5 2 3 4.5 4 4 2 1 4 0.5 4-0.5 3.5-1.5 0.5-2-0.5-2-3-8-2-2-2.5-1-8-1-2 0.5zM40 20l2 0.5 1.5 3.5 0 2-1.5 2-2 0.5-2-0.5-3-2-0.5-2 1.5-2zM38.5 24l0.5 2 1 0.5 2-0.5 0-2-2-1zM138 62.5l6 1.5 6 4 7 8 0 2-3 3-2-0.5-2-2.5-1-4-1-1-2-1-4 0.5-4 0-1.5 1.5-1 8-0.5 4-1 2-2 1.5-2-1.5-2.5-6-1-4 0-2 1-2 2.5-2 5.5-2 1-6zM139.5 66l-1.5 2 1 2 3 1.5 6-0.5 1.5 1 1.5 6 1 1.5 2 0.5 2-2 0-2-2-2.5-3-1.5-1-2-1.5-2-4.5-2.5-2-0.5zM129.5 74l-1.5 2-0.5 2 2.5 5.5 2 2 2-3.5 1-6-1-2-2-1zM8 84.5l6 2 6 3 5.5 10.5 0.5 2-2 4-2 2.5-2 1.5-4-0.5-4-2-2 0.5-6 4.5-12 0.5 0-14 14 0 6-1 3 6 1 1.5 2 1.5 2 0.5 2.5-1.5 2-4-0.5-2-1-2-3-3.5-4-1-6-4-4-1.5-14 0 0-3.5zM118 98.5l2 0 16 2 1.5 1.5-1 6-0.5 2-2 2-2 1-10 2.5-2 1-1.5 1.5-5 10-1.5 1.5-2 0.5-2-0.5-3.5-1.5-1.5-2-3-8-2-8 1-2 3-2 4-2 6-2zM104 106.5l-2 1.5-1.5 2 1 6 2.5 6 2 2.5 4 2 2-0.5 4.5-8 1.5-2 4-2 9.5-2 2.5-2 0.5-2-0.5-2-2-2-2-1-12-1zM2 122.5l2 0.5 1 3-1 2-2 0.5-10 0 0-6zM140 142l102 0 0 1.5-100 0-2 0-2 2.5 0.5 2 1.5 2 2 0.5 100 0 0 71.5-112 0 0-52 1-6 0-6-0.5-2-1-2-7.5-3.5-2 0.5-0.5 1-5.5 16 0 54-0.5 0 0-52 0.5-4 6-16 2-0.5 10 3.5 2 0.5 2-0.5 1.5-3 0.5-6.5zM12 145.5l2.5 0.5 0.5 2-1 4.5-8 1.5-14 0 0-4 14-0.5 3.5-1.5z"/><path fill="#ffdc00" stroke="#ffdc00" stroke-width="0.6" fill-rule="evenodd" d="M98 21.5l2 0 2 2.5 0.5 2-1 8 1 2 3.5 3 5.5 3 2 2 0 8-1.5 2.5-4 2.5-6 0.5-2-0.5-2.5-1-1.5-2-1-2 2.5-18-1.5-8 0.5-2zM99 38l-1 6 0.5 8 1.5 1.5 2 1 6 0.5 3-3 0.5-4-0.5-4-11-7.5zM40 23l2 1 0 2-2 0.5-1-0.5-0.5-2zM84 62.5l4-0.5 6 1 2.5 1 2 2 3 8 0.5 2-0.5 2-3.5 1.5-6 0.5-2-0.5-4-2.5-4-5-1-2-0.5-2 1.5-3.5zM82.5 66l-1 2 0.5 2 4 5 4 3 2 0.5 6-0.5 2-2-3-8-1-1.5-2-1.5-4-1-4-0.5zM140 65.5l2-0.5 2 0.5 4.5 2.5 1.5 2 1 2 3 1.5 2 2.5 0 2-2 2-2-0.5-1-1.5-1.5-6-1.5-1-6 0.5-3-1.5-1-2zM140.5 68l1 2 2.5 0.5 2-0.5 0.5-2-2.5-1.5-2 0zM151.5 76l0.5 2 2 1 1-1 0-2-1-1-2-0.5zM130 73.5l2-0.5 2 1 1 2-1 6-2 3.5-2-2-2.5-5.5 0.5-2zM129.5 76l-0.5 2 0.5 2 2.5 2 1.5-4 0-2-1.5-1.5zM6 88l4 1.5 6 4 4 1 2 1.5 2 4 0.5 2-1 2-1.5 2.5-2 1-2-0.5-2-1.5-1-1.5-3-6-6 1-14 0 0-3 12 0 2-0.5 2-1.5-1-2-3-1-12 0 0-3zM17 98l-1 2 0.5 2 1.5 2.5 2 1 2-1.5 1-2 0-2-1-1.5-2-1.5zM118 102l12 1 2 1 2 2 0.5 2-0.5 2-2.5 2-9.5 2-4 2-1.5 2-4.5 8-2 0.5-4-2-2-2.5-2.5-6-1-6 1.5-2 3-2zM106 107l-3 3 1 5 1.5 3 0.5 1 4 2 2 0 3.5-5 2.5-2 12-3 2-1 0.5-2-2.5-2.5-8-1-4-0.5zM140 143.5l102 0 0 2.5-100.5 0 100.5 0 0 4.5-100 0-2-0.5-1.5-2-0.5-2zM120 151l2-0.5 7.5 3.5 1 2 0.5 2 0 6-1 6 0 52-3.5 0 0-52 0-2 2.5-6 0.5-2-1.5-4-1.5-2-2.5-2-2-0.5-2 1-5 15.5-0.5 54-0.5 0 0-54z"/><path fill="#ffae00" stroke="#ffae00" stroke-width="0.6" fill-rule="evenodd" d="M100 36.5l11 7.5 0.5 4-0.5 4-3 3-6-0.5-2-1-1.5-1.5-0.5-10zM100 41l-0.5 3 0.5 3.5 1.5 2.5 4 2 2.5 0 1-2-1-6-6-4.5zM86 63.5l6 1 4 2 1 1.5 3 8-2 2-6 0.5-2-0.5-6-5-2-3-0.5-2 2.5-3.5zM84.5 66l-1.5 2 0.5 2 2.5 3.5 4 3 2 0.5 3.5-1 0-2 0-4-1.5-2.5-3-1.5-3-1-2 0zM142 66.5l2 0 2.5 1.5-0.5 2-2 0.5-2.5-0.5-1-2zM130 75.5l2-1 1.5 1.5 0 2-1.5 4-2-1.5-1-2.5zM131.5 78l0.5 0.5 0-1zM152 74.5l2 0.5 1 1 0 2-1 1-2-1-0.5-2zM4 91l3 1 1 2-2 1.5-2 0.5-12 0 0-5zM18 97.5l2-0.5 2 1.5 1 1.5 0 2-1 2-2 1.5-2-1-1.5-2.5-0.5-2zM19 100l-0.5 2 1.5 1 1.5-1-0.5-2-1-0.5zM118 104l4 0.5 8 1 2.5 2.5-0.5 2-2 1-12 3-2.5 2-3.5 5-2 0-4-2-0.5-1-1.5-3-1-5 3-3zM109 108l-3 2 0.5 2 1.5 2 2 1 2 0.5 6-3.5 10-2 1-2-5-1.5-4-0.5-4 0.5zM122 151.5l2 0.5 2.5 2 1.5 2 1.5 4-0.5 2-2.5 6 0 2 0 52-1.5 0 0-52 0.5-4 2-6-1.5-4-2-2-2-1-2 1.5-4.5 13.5-0.5 54-0.5 0 0.5-54 5-15.5z"/><path fill="#ff8000" stroke="#ff8000" stroke-width="0.6" fill-rule="evenodd" d="M102 39.5l6 4.5 1 6-1 2-2.5 0-3.5-1.5-2-2.5-0.5-4 0-2 0.5-1zM102 42l-0.5 2 0.5 2 2-0.5 0.5-1.5zM86 65l4 0.5 4.5 2.5 1 4 0 4-3.5 1-2-0.5-5.5-4.5-1-2-0.5-2 1-1.5zM84.5 68l0 2 1.5 1.5 4 1.5 2-1.5 0.5-1.5-1.5-2-1-0.5-2-1-2 0zM132 77.5l0 1-0.5-0.5zM20 99.5l1 0.5 0.5 2-1.5 1-1.5-1 0.5-2zM110 108l6-1.5 4-0.5 4 0.5 5 1.5-1 2-10 2-6 3.5-2-0.5-2-1-1.5-2-0.5-2zM113 110l1 0.5 3-0.5-1-0.5zM122 153l2 1 2 2 1.5 4-2.5 8 0 54-1.5 0 0-52 0.5-4 2-6-2-3.5-2-2-2 2-2 7.5-2 4 0 54-1 0 0.5-54 4.5-13.5z"/><path fill="#ff5100" stroke="#ff5100" stroke-width="0.6" fill-rule="evenodd" d="M102 42l2.5 2-0.5 1.5-2 0.5-0.5-2zM86 66.5l2 0 3 1.5 1.5 2-0.5 2-2 1-4-1.5-1.5-1.5 0-2zM114 109.5l3 0.5-3 0.5-1-0.5zM122 154.5l2 2 2 3.5-2.5 8 0 54-1 0 0-54 1-8-1.5-2-2 1-3 11 0 52-1 0 0-54 2-4 2-7.5z"/><path fill="#ff2300" stroke="#ff2300" stroke-width="0.6" fill-rule="evenodd" d="M122 158l1.5 2-1 8 0 54-5.5 0 0-52 3-11z"/></g></g><path d="M160.8 -7.7L150.2 16.0L147.0 27.9L148.3 41.4L150.8 54.4L153.9 61.3L162.7 62.1L170.8 63.8L175.2 74.7L172.1 82.1L169.6 93.4L164.6 99.0L183.3 99.0L233.4 36.9L233.4 -7.7ZM28.8 31.6L45.7 30.7L50.1 35.1L45.7 41.4L39.4 44.9L31.9 43.1L26.9 36.9ZM60.7 49.2L66.3 49.2L66.3 55.3L61.3 55.3Z" fill="#fff" stroke="#fff" stroke-width="1.5" stroke-linejoin="round"/><circle cx="171.4" cy="3.8" r="4.4" fill="#0000d1"/><circle cx="175.2" cy="0.0" r="4.4" fill="#0000e6"/><circle cx="179.6" cy="1.9" r="4.4" fill="#0000e6"/><circle cx="183.9" cy="-1.0" r="4.4" fill="#0000fa"/><circle cx="188.3" cy="1.0" r="4.4" fill="#0000e6"/><circle cx="192.1" cy="3.8" r="4.4" fill="#0000d1"/><circle cx="195.8" cy="5.7" r="4.4" fill="#0000e6"/><circle cx="198.3" cy="1.0" r="4.4" fill="#0000fa"/><circle cx="202.1" cy="-1.0" r="4.4" fill="#00b2ff"/><circle cx="205.8" cy="-1.9" r="4.4" fill="#05fffa"/><circle cx="173.9" cy="6.7" r="4.4" fill="#0000d1"/><circle cx="194.0" cy="1.0" r="4.4" fill="#0000e6"/><circle cx="158.3" cy="43.1" r="4.4" fill="#0000d1"/><circle cx="160.8" cy="45.7" r="4.4" fill="#0000d1"/><circle cx="167.1" cy="44.0" r="4.4" fill="#0000e6"/><circle cx="170.8" cy="41.4" r="4.4" fill="#0000e6"/><circle cx="173.9" cy="38.7" r="4.4" fill="#0000e6"/><circle cx="173.3" cy="43.1" r="4.4" fill="#0000d1"/><circle cx="168.9" cy="47.5" r="4.4" fill="#0000e6"/><circle cx="165.2" cy="50.1" r="4.4" fill="#0000e6"/><circle cx="170.2" cy="51.8" r="4.4" fill="#0000e6"/><circle cx="174.6" cy="50.1" r="4.4" fill="#0000d1"/><circle cx="177.1" cy="54.4" r="4.4" fill="#0000e6"/><circle cx="172.7" cy="56.1" r="4.4" fill="#0000e6"/><circle cx="168.3" cy="57.9" r="4.4" fill="#0000e6"/><circle cx="163.3" cy="54.4" r="4.4" fill="#00b2ff"/><circle cx="165.8" cy="53.6" r="4.4" fill="#00b2ff"/><circle cx="177.7" cy="46.6" r="4.4" fill="#0000e6"/><circle cx="175.8" cy="59.6" r="4.4" fill="#0000e6"/><circle cx="162.0" cy="58.7" r="4.4" fill="#0000e6"/><circle cx="158.3" cy="60.4" r="4.4" fill="#0000e6"/><circle cx="172.1" cy="65.5" r="4.4" fill="#0000fa"/><circle cx="173.3" cy="69.7" r="4.4" fill="#0000fa"/><circle cx="174.6" cy="73.0" r="4.4" fill="#001aff"/><circle cx="171.4" cy="76.3" r="4.4" fill="#001aff"/><circle cx="168.9" cy="80.5" r="4.4" fill="#004dff"/><circle cx="165.8" cy="83.7" r="4.4" fill="#004dff"/>
<clipPath id="c5"><rect x="-1" y="-1" width="236.0" height="214.7"/></clipPath>
<g clip-path="url(#c5)"><use href="#st"/></g>
</g>
<rect x="1037.5" y="485.5" width="235.2" height="214.9" fill="none" stroke="#000" stroke-width="0.9"/>
<rect x="1285.5" y="483.6" width="23.2" height="218.2" fill="url(#jet)" stroke="#222" stroke-width="0.7"/>
<line x1="1306.2" x2="1308.7" y1="697.0" y2="697.0" stroke="#222" stroke-width="0.8"/>
<text x="1317.3" y="704.5" font-size="20.5" font-weight="bold" fill="#262626">-0.4</text>
<line x1="1306.2" x2="1308.7" y1="645.0" y2="645.0" stroke="#222" stroke-width="0.8"/>
<text x="1317.3" y="652.5" font-size="20.5" font-weight="bold" fill="#262626">-0.2</text>
<line x1="1306.2" x2="1308.7" y1="592.5" y2="592.5" stroke="#222" stroke-width="0.8"/>
<text x="1317.3" y="600.0" font-size="20.5" font-weight="bold" fill="#262626">0</text>
<line x1="1306.2" x2="1308.7" y1="540.5" y2="540.5" stroke="#222" stroke-width="0.8"/>
<text x="1317.3" y="548.0" font-size="20.5" font-weight="bold" fill="#262626">0.2</text>
<line x1="1306.2" x2="1308.7" y1="488.5" y2="488.5" stroke="#222" stroke-width="0.8"/>
<text x="1317.3" y="496.0" font-size="20.5" font-weight="bold" fill="#262626">0.4</text>
<text x="1150.1" y="732.9" font-size="23" font-weight="bold" text-anchor="middle" fill="#262626">SAT-RAP 500 hPa MR (g/kg)</text>
<text x="1084.2" y="465.2" font-size="12.3" font-weight="bold" text-anchor="end" fill="#262626">100</text>
<circle cx="1089.0" cy="452.6" r="1.25" fill="none" stroke="#262626" stroke-width="1"/>
<text x="1096.4" y="465.2" font-size="12.3" font-weight="bold" fill="#262626">W</text>
<text x="1145.3" y="465.2" font-size="12.3" font-weight="bold" text-anchor="end" fill="#262626">90</text>
<circle cx="1150.1" cy="452.6" r="1.25" fill="none" stroke="#262626" stroke-width="1"/>
<text x="1159.0" y="465.2" font-size="12.3" font-weight="bold" fill="#262626">W</text>
<text x="1208.8" y="465.2" font-size="12.3" font-weight="bold" text-anchor="end" fill="#262626">80</text>
<circle cx="1213.6" cy="452.6" r="1.25" fill="none" stroke="#262626" stroke-width="1"/>
<text x="1222.5" y="465.2" font-size="12.3" font-weight="bold" fill="#262626">W</text>
<text x="1272.4" y="465.2" font-size="12.3" font-weight="bold" text-anchor="end" fill="#262626">70</text>
<circle cx="1277.2" cy="452.6" r="1.25" fill="none" stroke="#262626" stroke-width="1"/>
<text x="1286.1" y="465.2" font-size="12.3" font-weight="bold" fill="#262626">W</text>
<text x="1005.1" y="502.5" font-size="12.3" font-weight="bold" text-anchor="end" fill="#262626">48</text>
<circle cx="1009.8" cy="488.9" r="1.2" fill="none" stroke="#262626" stroke-width="1"/>
<text x="1018.1" y="502.5" font-size="12.3" font-weight="bold" fill="#262626">N</text>
<text x="1005.1" y="520.6" font-size="12.3" font-weight="bold" text-anchor="end" fill="#262626">46</text>
<circle cx="1009.8" cy="507.0" r="1.2" fill="none" stroke="#262626" stroke-width="1"/>
<text x="1018.1" y="520.6" font-size="12.3" font-weight="bold" fill="#262626">N</text>
<text x="1005.1" y="537.4" font-size="12.3" font-weight="bold" text-anchor="end" fill="#262626">44</text>
<circle cx="1009.8" cy="523.8" r="1.2" fill="none" stroke="#262626" stroke-width="1"/>
<text x="1018.1" y="537.4" font-size="12.3" font-weight="bold" fill="#262626">N</text>
<text x="1005.1" y="556.0" font-size="12.3" font-weight="bold" text-anchor="end" fill="#262626">42</text>
<circle cx="1009.8" cy="542.4" r="1.2" fill="none" stroke="#262626" stroke-width="1"/>
<text x="1018.1" y="556.0" font-size="12.3" font-weight="bold" fill="#262626">N</text>
<text x="1005.1" y="573.0" font-size="12.3" font-weight="bold" text-anchor="end" fill="#262626">40</text>
<circle cx="1009.8" cy="559.4" r="1.2" fill="none" stroke="#262626" stroke-width="1"/>
<text x="1018.1" y="573.0" font-size="12.3" font-weight="bold" fill="#262626">N</text>
<text x="1005.1" y="588.1" font-size="12.3" font-weight="bold" text-anchor="end" fill="#262626">38</text>
<circle cx="1009.8" cy="574.5" r="1.2" fill="none" stroke="#262626" stroke-width="1"/>
<text x="1018.1" y="588.1" font-size="12.3" font-weight="bold" fill="#262626">N</text>
<text x="1005.1" y="604.2" font-size="12.3" font-weight="bold" text-anchor="end" fill="#262626">36</text>
<circle cx="1009.8" cy="590.6" r="1.2" fill="none" stroke="#262626" stroke-width="1"/>
<text x="1018.1" y="604.2" font-size="12.3" font-weight="bold" fill="#262626">N</text>
<text x="1005.1" y="619.0" font-size="12.3" font-weight="bold" text-anchor="end" fill="#262626">34</text>
<circle cx="1009.8" cy="605.4" r="1.2" fill="none" stroke="#262626" stroke-width="1"/>
<text x="1018.1" y="619.0" font-size="12.3" font-weight="bold" fill="#262626">N</text>
<text x="1005.1" y="634.9" font-size="12.3" font-weight="bold" text-anchor="end" fill="#262626">32</text>
<circle cx="1009.8" cy="621.3" r="1.2" fill="none" stroke="#262626" stroke-width="1"/>
<text x="1018.1" y="634.9" font-size="12.3" font-weight="bold" fill="#262626">N</text>
<text x="1005.1" y="650.0" font-size="12.3" font-weight="bold" text-anchor="end" fill="#262626">30</text>
<circle cx="1009.8" cy="636.4" r="1.2" fill="none" stroke="#262626" stroke-width="1"/>
<text x="1018.1" y="650.0" font-size="12.3" font-weight="bold" fill="#262626">N</text>
<text x="1005.1" y="665.0" font-size="12.3" font-weight="bold" text-anchor="end" fill="#262626">28</text>
<circle cx="1009.8" cy="651.4" r="1.2" fill="none" stroke="#262626" stroke-width="1"/>
<text x="1018.1" y="665.0" font-size="12.3" font-weight="bold" fill="#262626">N</text>
<text x="1005.1" y="678.9" font-size="12.3" font-weight="bold" text-anchor="end" fill="#262626">26</text>
<circle cx="1009.8" cy="665.3" r="1.2" fill="none" stroke="#262626" stroke-width="1"/>
<text x="1018.1" y="678.9" font-size="12.3" font-weight="bold" fill="#262626">N</text>
<text x="1005.1" y="691.5" font-size="12.3" font-weight="bold" text-anchor="end" fill="#262626">24</text>
<circle cx="1009.8" cy="677.9" r="1.2" fill="none" stroke="#262626" stroke-width="1"/>
<text x="1018.1" y="691.5" font-size="12.3" font-weight="bold" fill="#262626">N</text>
<text x="1005.1" y="706.0" font-size="12.3" font-weight="bold" text-anchor="end" fill="#262626">22</text>
<circle cx="1009.8" cy="692.4" r="1.2" fill="none" stroke="#262626" stroke-width="1"/>
<text x="1018.1" y="706.0" font-size="12.3" font-weight="bold" fill="#262626">N</text>
</svg></body></html>
